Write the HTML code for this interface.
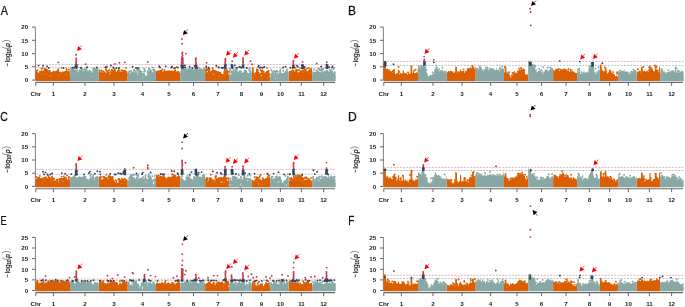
<!DOCTYPE html>
<html><head><meta charset="utf-8"><style>
html,body{margin:0;padding:0;background:#fff;width:685px;height:307px;overflow:hidden}
svg{display:block;will-change:transform}
text{font-family:"Liberation Sans",sans-serif}
.t{font-size:6.2px;font-weight:bold;fill:#1a1a1a}
.yl{font-size:6.4px;fill:#2a2a2a;stroke:#2a2a2a;stroke-width:0.25px}
</style></head><body>
<svg width="685" height="307" viewBox="0 0 685 307">
<text transform="translate(0.7 14.9) scale(0.895 1)" font-size="12.1" fill="#111" stroke="#111" stroke-width="0.25">A</text>
<path d="M35.4 27.1V80.1" stroke="#808080" stroke-width="1"/>
<path d="M32 80.1H35.3" stroke="#555" stroke-width="0.9"/>
<text x="28.2" y="82.3" class="t" text-anchor="end">0</text>
<path d="M32 66.8H35.3" stroke="#555" stroke-width="0.9"/>
<text x="28.2" y="69" class="t" text-anchor="end">5</text>
<path d="M32 53.6H35.3" stroke="#555" stroke-width="0.9"/>
<text x="28.2" y="55.8" class="t" text-anchor="end">10</text>
<path d="M32 40.3H35.3" stroke="#555" stroke-width="0.9"/>
<text x="28.2" y="42.5" class="t" text-anchor="end">15</text>
<path d="M32 27.1H35.3" stroke="#555" stroke-width="0.9"/>
<text x="28.2" y="29.3" class="t" text-anchor="end">20</text>
<g transform="translate(9.6 0) rotate(-90)" class="yl"><text x="-66.4" y="-0.4" font-size="5.4">&#8722;</text><text x="-62.1" y="0">log</text><text x="-53.6" y="1.4" font-size="4.5">10</text><text x="-49.3" y="-0.4" font-size="9.2" fill="#777" stroke="none">(</text><text x="-46.8" y="0" font-style="italic">p</text><text x="-42.6" y="-0.4" font-size="9.2" fill="#777" stroke="none">)</text></g>
<path d="M35.6 82.4H335" stroke="#6a6a6a" stroke-width="1.1"/>
<path d="M35.8 82.4V85.9" stroke="#5a5a5a" stroke-width="0.9"/>
<path d="M53.4 82.4V85.9" stroke="#5a5a5a" stroke-width="0.9"/>
<path d="M85 82.4V85.9" stroke="#5a5a5a" stroke-width="0.9"/>
<path d="M114 82.4V85.9" stroke="#5a5a5a" stroke-width="0.9"/>
<path d="M142.6 82.4V85.9" stroke="#5a5a5a" stroke-width="0.9"/>
<path d="M169 82.4V85.9" stroke="#5a5a5a" stroke-width="0.9"/>
<path d="M193.5 82.4V85.9" stroke="#5a5a5a" stroke-width="0.9"/>
<path d="M218 82.4V85.9" stroke="#5a5a5a" stroke-width="0.9"/>
<path d="M241.4 82.4V85.9" stroke="#5a5a5a" stroke-width="0.9"/>
<path d="M261.6 82.4V85.9" stroke="#5a5a5a" stroke-width="0.9"/>
<path d="M280.4 82.4V85.9" stroke="#5a5a5a" stroke-width="0.9"/>
<path d="M301.4 82.4V85.9" stroke="#5a5a5a" stroke-width="0.9"/>
<path d="M323.6 82.4V85.9" stroke="#5a5a5a" stroke-width="0.9"/>
<text x="35.8" y="95.8" class="t" text-anchor="middle">Chr</text>
<text x="53.4" y="95.8" class="t" text-anchor="middle">1</text>
<text x="85" y="95.8" class="t" text-anchor="middle">2</text>
<text x="114" y="95.8" class="t" text-anchor="middle">3</text>
<text x="142.6" y="95.8" class="t" text-anchor="middle">4</text>
<text x="169" y="95.8" class="t" text-anchor="middle">5</text>
<text x="193.5" y="95.8" class="t" text-anchor="middle">6</text>
<text x="218" y="95.8" class="t" text-anchor="middle">7</text>
<text x="241.4" y="95.8" class="t" text-anchor="middle">8</text>
<text x="261.6" y="95.8" class="t" text-anchor="middle">9</text>
<text x="280.4" y="95.8" class="t" text-anchor="middle">10</text>
<text x="301.4" y="95.8" class="t" text-anchor="middle">11</text>
<text x="323.6" y="95.8" class="t" text-anchor="middle">12</text>
<path d="M35.8 64.6H335.4" stroke="#e3949a" stroke-width="0.7" stroke-dasharray="2.1 1.1"/>
<path d="M35.8 67.6H335.4" stroke="#a4adb6" stroke-width="0.7" stroke-dasharray="2.1 1.1"/>
<path fill="#d95f02" d="M35.5 80.9L35.5 73.7L36.1 73.7L36.1 74.9L36.7 74.9L36.7 73.6L37.3 73.6L37.3 73.2L37.9 73.2L37.9 74L38.5 74L38.5 75.1L39.1 75.1L39.1 75.4L39.7 75.4L39.7 75.1L40.3 75.1L40.3 74.9L40.9 74.9L40.9 73.9L41.5 73.9L41.5 73.8L42.1 73.8L42.1 74.5L42.7 74.5L42.7 74.4L43.3 74.4L43.3 73L43.9 73L43.9 72.9L44.5 72.9L44.5 71.2L45.1 71.2L45.1 71.3L45.7 71.3L45.7 73.5L46.3 73.5L46.3 75.2L46.9 75.2L46.9 74L47.5 74L47.5 74L48.1 74L48.1 74.8L48.7 74.8L48.7 75.3L49.3 75.3L49.3 75.5L49.9 75.5L49.9 75.5L50.5 75.5L50.5 75.6L51.1 75.6L51.1 76.9L51.7 76.9L51.7 75.9L52.3 75.9L52.3 74.7L52.9 74.7L52.9 74.6L53.5 74.6L53.5 74.4L54.1 74.4L54.1 74.2L54.7 74.2L54.7 76.1L55.3 76.1L55.3 75.6L55.9 75.6L55.9 75.8L56.5 75.8L56.5 74.9L57.1 74.9L57.1 75.4L57.7 75.4L57.7 75.2L58.3 75.2L58.3 75.2L58.9 75.2L58.9 76.2L59.5 76.2L59.5 76.4L60.1 76.4L60.1 76.8L60.7 76.8L60.7 77.1L61.3 77.1L61.3 76.8L61.9 76.8L61.9 76.3L62.5 76.3L62.5 75.6L63.1 75.6L63.1 74.8L63.7 74.8L63.7 74.2L64.3 74.2L64.3 74.2L64.9 74.2L64.9 74.7L65.5 74.7L65.5 74L66.1 74L66.1 74.6L66.7 74.6L66.7 75L67.3 75L67.3 74.3L67.9 74.3L67.9 75.6L68.5 75.6L68.5 76L69.1 76L69.1 75.4L69.7 75.4L69.7 76.7L70 76.7L70 80.9ZM98.8 80.9L98.8 75.5L99.4 75.5L99.4 74.1L100 74.1L100 75.2L100.6 75.2L100.6 74.9L101.2 74.9L101.2 74.5L101.8 74.5L101.8 75.5L102.4 75.5L102.4 76.1L103 76.1L103 75.7L103.6 75.7L103.6 76.2L104.2 76.2L104.2 74.8L104.8 74.8L104.8 75L105.4 75L105.4 74.2L106 74.2L106 74.8L106.6 74.8L106.6 75L107.2 75L107.2 75.8L107.8 75.8L107.8 77L108.4 77L108.4 74.3L109 74.3L109 75.1L109.6 75.1L109.6 75.9L110.2 75.9L110.2 76.2L110.8 76.2L110.8 74.2L111.4 74.2L111.4 73.3L112 73.3L112 72.5L112.6 72.5L112.6 72.4L113.2 72.4L113.2 72L113.8 72L113.8 73.7L114.4 73.7L114.4 75.5L115 75.5L115 75.1L115.6 75.1L115.6 74.5L116.2 74.5L116.2 74.8L116.8 74.8L116.8 74.6L117.4 74.6L117.4 75.6L118 75.6L118 74.7L118.6 74.7L118.6 74.1L119.2 74.1L119.2 73.4L119.8 73.4L119.8 74.5L120.4 74.5L120.4 75.2L121 75.2L121 74.6L121.6 74.6L121.6 74.2L122.2 74.2L122.2 75.4L122.8 75.4L122.8 75.1L123.4 75.1L123.4 74.4L124 74.4L124 74.8L124.6 74.8L124.6 74.3L125.2 74.3L125.2 73.6L125.8 73.6L125.8 74.2L126.4 74.2L126.4 74.3L127 74.3L127 74.5L127.6 74.5L127.6 76.1L127.7 76.1L127.7 80.9ZM156 80.9L156 74.8L156.6 74.8L156.6 75.6L157.2 75.6L157.2 75.6L157.8 75.6L157.8 75.9L158.4 75.9L158.4 74.5L159 74.5L159 75.9L159.6 75.9L159.6 76.3L160.2 76.3L160.2 74.7L160.8 74.7L160.8 75.6L161.4 75.6L161.4 75.1L162 75.1L162 75L162.6 75L162.6 76L163.2 76L163.2 75.9L163.8 75.9L163.8 76L164.4 76L164.4 76.2L165 76.2L165 76L165.6 76L165.6 75.7L166.2 75.7L166.2 75.4L166.8 75.4L166.8 75.9L167.4 75.9L167.4 75.4L168 75.4L168 75.8L168.6 75.8L168.6 75.6L169.2 75.6L169.2 75.1L169.8 75.1L169.8 75L170.4 75L170.4 74.7L171 74.7L171 75.3L171.6 75.3L171.6 75.1L172.2 75.1L172.2 74.6L172.8 74.6L172.8 74.9L173.4 74.9L173.4 74.5L174 74.5L174 75.2L174.6 75.2L174.6 74.4L175.2 74.4L175.2 75.5L175.8 75.5L175.8 75.9L176.4 75.9L176.4 74.9L177 74.9L177 75.8L177.6 75.8L177.6 75.2L178.2 75.2L178.2 74.6L178.8 74.6L178.8 75.3L179.4 75.3L179.4 75.6L180 75.6L180 75.4L180.2 75.4L180.2 80.9ZM205.1 80.9L205.1 73.5L205.7 73.5L205.7 74.9L206.3 74.9L206.3 71.4L206.9 71.4L206.9 72.2L207.5 72.2L207.5 74.4L208.1 74.4L208.1 77.4L208.7 77.4L208.7 72.3L209.3 72.3L209.3 71.5L209.9 71.5L209.9 75.1L210.5 75.1L210.5 78.4L211.1 78.4L211.1 75.3L211.7 75.3L211.7 74.4L212.3 74.4L212.3 72.4L212.9 72.4L212.9 73.6L213.5 73.6L213.5 77.5L214.1 77.5L214.1 75L214.7 75L214.7 79.6L215.3 79.6L215.3 74.9L215.9 74.9L215.9 74.5L216.5 74.5L216.5 76.3L217.1 76.3L217.1 75.6L217.7 75.6L217.7 74.6L218.3 74.6L218.3 73.1L218.9 73.1L218.9 75.5L219.5 75.5L219.5 77L220.1 77L220.1 75.1L220.7 75.1L220.7 76.9L221.3 76.9L221.3 76.3L221.9 76.3L221.9 76.9L222.5 76.9L222.5 78.4L223.1 78.4L223.1 76L223.7 76L223.7 77.4L224.3 77.4L224.3 73L224.9 73L224.9 72.1L225.5 72.1L225.5 75.4L226.1 75.4L226.1 76.4L226.7 76.4L226.7 72.2L227.3 72.2L227.3 74.2L227.9 74.2L227.9 77.4L228.5 77.4L228.5 76.3L229.1 76.3L229.1 80.9ZM251.9 80.9L251.9 72.3L252.5 72.3L252.5 71.9L253.1 71.9L253.1 75.3L253.7 75.3L253.7 78.7L254.3 78.7L254.3 78.1L254.9 78.1L254.9 78.5L255.5 78.5L255.5 77.6L256.1 77.6L256.1 76.4L256.7 76.4L256.7 73.3L257.3 73.3L257.3 73.8L257.9 73.8L257.9 74.9L258.5 74.9L258.5 74.9L259.1 74.9L259.1 77L259.7 77L259.7 79.2L260.3 79.2L260.3 77.9L260.9 77.9L260.9 78.5L261.5 78.5L261.5 75.7L262.1 75.7L262.1 75.1L262.7 75.1L262.7 76.7L263.3 76.7L263.3 77.2L263.9 77.2L263.9 77.3L264.5 77.3L264.5 76.7L265.1 76.7L265.1 75.4L265.7 75.4L265.7 75.6L266.3 75.6L266.3 76.1L266.9 76.1L266.9 75L267.5 75L267.5 78.6L268.1 78.6L268.1 76.9L268.7 76.9L268.7 77.8L269.3 77.8L269.3 78.3L269.9 78.3L269.9 75.9L270.1 75.9L270.1 80.9ZM288.8 80.9L288.8 75.1L289.4 75.1L289.4 74.9L290 74.9L290 75.2L290.6 75.2L290.6 76.4L291.2 76.4L291.2 73.9L291.8 73.9L291.8 74.5L292.4 74.5L292.4 74.8L293 74.8L293 75.9L293.6 75.9L293.6 73.9L294.2 73.9L294.2 75.2L294.8 75.2L294.8 74.1L295.4 74.1L295.4 74.5L296 74.5L296 75.3L296.6 75.3L296.6 75.1L297.2 75.1L297.2 76L297.8 76L297.8 75.2L298.4 75.2L298.4 75.3L299 75.3L299 75.4L299.6 75.4L299.6 75.1L300.2 75.1L300.2 74.5L300.8 74.5L300.8 74.5L301.4 74.5L301.4 74.3L302 74.3L302 72.5L302.6 72.5L302.6 71.5L303.2 71.5L303.2 72.3L303.8 72.3L303.8 71.9L304.4 71.9L304.4 72.5L305 72.5L305 72.7L305.6 72.7L305.6 72.1L306.2 72.1L306.2 73.3L306.8 73.3L306.8 73.7L307.4 73.7L307.4 74.9L308 74.9L308 73.7L308.6 73.7L308.6 72.3L309.2 72.3L309.2 73.5L309.8 73.5L309.8 74L310.4 74L310.4 73.7L311 73.7L311 72.9L311.6 72.9L311.6 71.6L312.1 71.6L312.1 80.9Z"/>
<path fill="#89a8a5" d="M70 80.9L70 73.5L70.6 73.5L70.6 74.1L71.2 74.1L71.2 71.9L71.8 71.9L71.8 72.5L72.4 72.5L72.4 72.8L73 72.8L73 72.6L73.6 72.6L73.6 73.3L74.2 73.3L74.2 74L74.8 74L74.8 74.2L75.4 74.2L75.4 74.3L76 74.3L76 74.4L76.6 74.4L76.6 74.6L77.2 74.6L77.2 73.8L77.8 73.8L77.8 73.5L78.4 73.5L78.4 73.5L79 73.5L79 73.9L79.6 73.9L79.6 72.6L80.2 72.6L80.2 73.2L80.8 73.2L80.8 73.1L81.4 73.1L81.4 73.1L82 73.1L82 73.8L82.6 73.8L82.6 72.3L83.2 72.3L83.2 74.2L83.8 74.2L83.8 74.9L84.4 74.9L84.4 73.3L85 73.3L85 73.3L85.6 73.3L85.6 73.1L86.2 73.1L86.2 71.9L86.8 71.9L86.8 72.3L87.4 72.3L87.4 73.7L88 73.7L88 75L88.6 75L88.6 75.2L89.2 75.2L89.2 74.6L89.8 74.6L89.8 74.3L90.4 74.3L90.4 75.4L91 75.4L91 75.1L91.6 75.1L91.6 76.7L92.2 76.7L92.2 75.7L92.8 75.7L92.8 72.1L93.4 72.1L93.4 72.4L94 72.4L94 73.4L94.6 73.4L94.6 72L95.2 72L95.2 72.1L95.8 72.1L95.8 72L96.4 72L96.4 72.9L97 72.9L97 71.7L97.6 71.7L97.6 73.4L98.2 73.4L98.2 72L98.8 72L98.8 80.9ZM127.7 80.9L127.7 73.7L128.3 73.7L128.3 76.5L128.9 76.5L128.9 73.8L129.5 73.8L129.5 75.9L130.1 75.9L130.1 75L130.7 75L130.7 74.6L131.3 74.6L131.3 75.8L131.9 75.8L131.9 75.5L132.5 75.5L132.5 75.5L133.1 75.5L133.1 74.6L133.7 74.6L133.7 75.7L134.3 75.7L134.3 77.3L134.9 77.3L134.9 75.2L135.5 75.2L135.5 74.8L136.1 74.8L136.1 74.9L136.7 74.9L136.7 77L137.3 77L137.3 77.9L137.9 77.9L137.9 72.4L138.5 72.4L138.5 72.5L139.1 72.5L139.1 73.8L139.7 73.8L139.7 74.3L140.3 74.3L140.3 75.6L140.9 75.6L140.9 75.8L141.5 75.8L141.5 78.7L142.1 78.7L142.1 78.4L142.7 78.4L142.7 75.6L143.3 75.6L143.3 77.5L143.9 77.5L143.9 76.6L144.5 76.6L144.5 73.3L145.1 73.3L145.1 80.2L145.7 80.2L145.7 80.5L146.3 80.5L146.3 78.3L146.9 78.3L146.9 77.5L147.5 77.5L147.5 74L148.1 74L148.1 74.1L148.7 74.1L148.7 74.5L149.3 74.5L149.3 74.3L149.9 74.3L149.9 72.3L150.5 72.3L150.5 72.3L151.1 72.3L151.1 74.1L151.7 74.1L151.7 74.8L152.3 74.8L152.3 73.7L152.9 73.7L152.9 73.9L153.5 73.9L153.5 73.9L154.1 73.9L154.1 73.2L154.7 73.2L154.7 73.9L155.3 73.9L155.3 75.4L155.9 75.4L155.9 77.8L156 77.8L156 80.9ZM180.2 80.9L180.2 72.9L180.8 72.9L180.8 72.5L181.4 72.5L181.4 72L182 72L182 72.2L182.6 72.2L182.6 72.8L183.2 72.8L183.2 73.6L183.8 73.6L183.8 73.3L184.4 73.3L184.4 74.4L185 74.4L185 72.2L185.6 72.2L185.6 72.4L186.2 72.4L186.2 73.1L186.8 73.1L186.8 72.2L187.4 72.2L187.4 72.7L188 72.7L188 72.3L188.6 72.3L188.6 72.2L189.2 72.2L189.2 72.1L189.8 72.1L189.8 72.3L190.4 72.3L190.4 72.3L191 72.3L191 72.3L191.6 72.3L191.6 71.9L192.2 71.9L192.2 73.4L192.8 73.4L192.8 72.6L193.4 72.6L193.4 73.4L194 73.4L194 73.3L194.6 73.3L194.6 72.3L195.2 72.3L195.2 72.6L195.8 72.6L195.8 73.1L196.4 73.1L196.4 72.1L197 72.1L197 72.6L197.6 72.6L197.6 73.4L198.2 73.4L198.2 72L198.8 72L198.8 71.7L199.4 71.7L199.4 72.5L200 72.5L200 71.9L200.6 71.9L200.6 72.3L201.2 72.3L201.2 73.3L201.8 73.3L201.8 71.9L202.4 71.9L202.4 73.7L203 73.7L203 73.3L203.6 73.3L203.6 73.1L204.2 73.1L204.2 71.9L204.8 71.9L204.8 72L205.1 72L205.1 80.9ZM229.1 80.9L229.1 72.1L229.7 72.1L229.7 76.5L230.3 76.5L230.3 74L230.9 74L230.9 76.6L231.5 76.6L231.5 76.8L232.1 76.8L232.1 74.8L232.7 74.8L232.7 75.1L233.3 75.1L233.3 72.1L233.9 72.1L233.9 75.2L234.5 75.2L234.5 76.7L235.1 76.7L235.1 74.6L235.7 74.6L235.7 72.2L236.3 72.2L236.3 75.1L236.9 75.1L236.9 73.4L237.5 73.4L237.5 70.1L238.1 70.1L238.1 73.3L238.7 73.3L238.7 73.9L239.3 73.9L239.3 72.1L239.9 72.1L239.9 73.6L240.5 73.6L240.5 73.6L241.1 73.6L241.1 77.3L241.7 77.3L241.7 78.6L242.3 78.6L242.3 75.9L242.9 75.9L242.9 75.6L243.5 75.6L243.5 77.4L244.1 77.4L244.1 73L244.7 73L244.7 74.7L245.3 74.7L245.3 73.2L245.9 73.2L245.9 73.6L246.5 73.6L246.5 74.8L247.1 74.8L247.1 77L247.7 77L247.7 76.8L248.3 76.8L248.3 75.5L248.9 75.5L248.9 75L249.5 75L249.5 71L250.1 71L250.1 75.1L250.7 75.1L250.7 78.9L251.3 78.9L251.3 75.1L251.9 75.1L251.9 80.9ZM270.1 80.9L270.1 76.8L270.7 76.8L270.7 77.1L271.3 77.1L271.3 75.8L271.9 75.8L271.9 77L272.5 77L272.5 75.3L273.1 75.3L273.1 78L273.7 78L273.7 79L274.3 79L274.3 78.1L274.9 78.1L274.9 79.1L275.5 79.1L275.5 75L276.1 75L276.1 76.8L276.7 76.8L276.7 75.6L277.3 75.6L277.3 77.7L277.9 77.7L277.9 77L278.5 77L278.5 78.6L279.1 78.6L279.1 75.3L279.7 75.3L279.7 73L280.3 73L280.3 74.5L280.9 74.5L280.9 79.4L281.5 79.4L281.5 78.3L282.1 78.3L282.1 77.8L282.7 77.8L282.7 75.4L283.3 75.4L283.3 77.6L283.9 77.6L283.9 75.9L284.5 75.9L284.5 75.3L285.1 75.3L285.1 73.3L285.7 73.3L285.7 73.6L286.3 73.6L286.3 74.4L286.9 74.4L286.9 73.7L287.5 73.7L287.5 76.9L288.1 76.9L288.1 76.2L288.7 76.2L288.7 75.9L288.8 75.9L288.8 80.9ZM312.1 80.9L312.1 74.7L312.7 74.7L312.7 75.7L313.3 75.7L313.3 73.7L313.9 73.7L313.9 75.7L314.5 75.7L314.5 76.9L315.1 76.9L315.1 75.9L315.7 75.9L315.7 75.2L316.3 75.2L316.3 73.7L316.9 73.7L316.9 73.6L317.5 73.6L317.5 73.6L318.1 73.6L318.1 73.4L318.7 73.4L318.7 74.4L319.3 74.4L319.3 74L319.9 74L319.9 74L320.5 74L320.5 74.9L321.1 74.9L321.1 74.4L321.7 74.4L321.7 75.5L322.3 75.5L322.3 75L322.9 75L322.9 75.4L323.5 75.4L323.5 74.6L324.1 74.6L324.1 74.1L324.7 74.1L324.7 74.3L325.3 74.3L325.3 73.9L325.9 73.9L325.9 74.7L326.5 74.7L326.5 73.7L327.1 73.7L327.1 74.1L327.7 74.1L327.7 75.3L328.3 75.3L328.3 75.9L328.9 75.9L328.9 75.6L329.5 75.6L329.5 75.6L330.1 75.6L330.1 76.2L330.7 76.2L330.7 75.2L331.3 75.2L331.3 74.9L331.9 74.9L331.9 76.3L332.5 76.3L332.5 76.7L333.1 76.7L333.1 75.7L333.7 75.7L333.7 76L334.3 76L334.3 75.8L334.9 75.8L334.9 75.9L335.5 75.9L335.5 75.6L335.7 75.6L335.7 80.9Z"/>
<path stroke="#d95f02" stroke-width="1.9" stroke-linecap="round" d="M36.5 71h0M36.5 72.3h0M36.5 72.2h0M36.5 74.3h0M36.6 74.4h0M36.5 73.3h0M36.8 72.3h0M37 73.2h0M37 72.9h0M37.6 70.1h0M37.3 72.7h0M37.9 73.9h0M38.2 74h0M38.1 73.6h0M39.6 75.3h0M39.7 73.1h0M39.7 75.3h0M39.9 72.5h0M39.8 74.5h0M40 74h0M40.1 71.8h0M41.2 73.5h0M41.1 72.6h0M41.1 73h0M41.8 71.7h0M41.6 68.7h0M41.7 73.6h0M41.9 71.2h0M42.4 68.2h0M42.1 72.1h0M42.4 74.4h0M42.9 72.5h0M43 72.9h0M43.6 72.9h0M43.4 72h0M43.6 71.5h0M43.7 72.8h0M44.4 72.2h0M45 70h0M44.6 69.3h0M45 70.3h0M45 70h0M45 71.2h0M44.7 71.1h0M44.7 68.7h0M45.4 70.2h0M45.1 70.9h0M45.7 69.3h0M45.7 71.3h0M45.5 69.8h0M45.2 70h0M45.4 70.8h0M45.5 70.7h0M45.9 72.6h0M46.1 72.8h0M46.3 71.5h0M46.5 75.2h0M46.6 75h0M46.4 73.1h0M47.3 72.1h0M47.3 73.3h0M46.9 69.8h0M47 72h0M47.1 73.6h0M47 70.8h0M48.1 70.9h0M48.2 74.3h0M48.4 74.7h0M48.5 73h0M48.8 75h0M49.1 74.8h0M49.1 73.2h0M49 74.8h0M49.1 71h0M49.1 73.5h0M49.1 72.7h0M50.3 73.7h0M50.4 74.4h0M50 71.5h0M50.9 73h0M51.2 74.7h0M51.9 75.2h0M51.9 75.8h0M51.8 75.9h0M52 73.3h0M52.3 75.5h0M52.8 72.8h0M53.1 74.4h0M53.4 71.6h0M54.1 73.9h0M54 72.3h0M53.7 71.8h0M54.2 73.9h0M54.6 73.7h0M55.2 75.6h0M54.7 75.9h0M55.9 73h0M55.8 74.2h0M55.4 74.5h0M55.4 72.6h0M55.4 72.5h0M56.2 75.5h0M56.1 75.7h0M56 71.8h0M56.1 75.4h0M56 72.9h0M56.8 74.6h0M56.7 74.6h0M56.8 74.6h0M57.1 71.4h0M57.6 74.3h0M57.2 71.1h0M57.4 72.3h0M57.3 74.7h0M57.2 73.6h0M57.4 73.2h0M57.6 74.5h0M57.9 72.3h0M57.9 74.5h0M57.9 73.3h0M58.1 74.2h0M58 74.7h0M58.2 69.1h0M58.8 73.8h0M58.6 72.1h0M58.3 70.4h0M58.8 74.2h0M58.3 74.6h0M59 74.9h0M59.6 75.9h0M60.1 72.5h0M59.6 75.5h0M60 76.3h0M59.9 75.7h0M60.4 75.7h0M60.5 75.7h0M60.7 74.6h0M60.6 75.2h0M60.4 73.3h0M61 76h0M60.9 77.1h0M61.1 74.2h0M61.1 76.8h0M60.8 77.1h0M60.7 76.7h0M60.9 77h0M61.2 75.5h0M61.6 67.8h0M61.7 75.3h0M61.9 76.2h0M61.6 76.7h0M61.8 73.6h0M61.6 76.7h0M62.5 72.8h0M61.9 73.3h0M62 73.8h0M62.1 74.9h0M62 74.1h0M62.2 75.4h0M62.6 73.5h0M62.8 72.2h0M63 74.9h0M62.6 75.1h0M62.7 74.9h0M63.3 73.1h0M63.5 74.6h0M64.1 73.1h0M63.9 73.7h0M64.1 72.4h0M64.1 73.5h0M64.9 73.2h0M64.5 72.8h0M64.4 73.4h0M64.6 72.3h0M64.7 73.5h0M64.5 74h0M64.4 72.9h0M64.6 74.1h0M64.7 73.8h0M65.1 74.1h0M66 73.3h0M65.8 71.9h0M66.7 70h0M66.6 68.8h0M66.4 73.5h0M66.6 71.6h0M67.1 73.4h0M67.1 73.5h0M66.7 71.7h0M67.7 72h0M67.8 72.2h0M67.4 72.8h0M67.6 72.9h0M67.7 73.4h0M68 74.2h0M68.2 75h0M68.1 74.6h0M68.4 73.4h0M68.2 73.4h0M67.9 74h0M69 72h0M68.9 74.7h0M68.6 75.5h0M68.7 73.1h0M69 75h0M69 72.9h0M69 74.3h0M69 72.3h0M69 75.2h0M69 69.8h0M69 74h0M69 74.8h0M69 74.5h0M99.8 70.4h0M99.8 75h0M99.8 73.1h0M99.8 73.5h0M99.8 72.8h0M99.9 72.2h0M100.2 74.6h0M100.4 74.7h0M100.5 74.3h0M100.1 74.9h0M100.6 74.5h0M100.3 74.3h0M100.7 74.5h0M101.2 74h0M100.9 74.8h0M101.6 73.3h0M101.4 70.5h0M101.2 74.2h0M102.2 74h0M102.4 71.6h0M102.6 75.1h0M102.7 73.4h0M103.5 71.4h0M103.2 75.3h0M103.3 75.2h0M103.5 75.5h0M103.8 75.1h0M103.9 75.9h0M103.9 74.6h0M103.6 75.6h0M103.6 74.1h0M104.1 73.3h0M104.5 73h0M104.4 72.8h0M104.8 73.7h0M105.8 68.9h0M105.6 74.1h0M105.5 73.7h0M106.6 70.4h0M106.5 73.9h0M106.3 70.7h0M107 73.9h0M107 73.7h0M106.6 73.2h0M107.2 75h0M106.6 74.9h0M106.9 75h0M107.1 74.4h0M108.1 75.1h0M108 74.8h0M108 76.9h0M108 76h0M108.3 76.4h0M108.3 76.9h0M108.1 74.8h0M108.4 75.9h0M107.8 71.7h0M109 72.9h0M108.8 70.3h0M108.5 74h0M108.5 73.4h0M109.4 70.3h0M109.7 75.7h0M109.9 75.6h0M110.4 76.2h0M110.6 75.3h0M110.8 75.3h0M110.6 71.9h0M110.6 75.1h0M110.6 75.4h0M110.2 75.4h0M110.3 74.9h0M111.2 73.8h0M111.8 69.6h0M111.8 73.2h0M111.8 70.2h0M111.9 70.3h0M111.9 72.1h0M112.5 72h0M112.6 72h0M112.1 72.2h0M112.6 72.1h0M112.9 71.3h0M113 72h0M113.5 70.8h0M113.5 70.9h0M113.7 68.4h0M113.2 72h0M113.4 71.7h0M114.1 73h0M114.2 72h0M113.8 73.1h0M114.2 71.5h0M114.9 69.2h0M115 74.5h0M114.9 73.6h0M114.9 73.7h0M114.8 75.1h0M114.5 75h0M114.8 75.4h0M115.1 75h0M115 73.7h0M115.5 74.7h0M115.2 74.9h0M115 71h0M115.3 73.1h0M115.3 71.9h0M116 74.3h0M115.7 74.3h0M116 72.5h0M116 72.4h0M116.8 74.7h0M116.9 73h0M116.9 74.4h0M117.8 72.4h0M117.8 71.6h0M117.9 73.9h0M118.1 72.4h0M118.1 74.7h0M118.3 70.9h0M118 74.1h0M118.1 73.5h0M118.2 70.3h0M118.3 74.1h0M118.5 74.3h0M118.8 72.6h0M118.6 72.6h0M119.1 73.5h0M118.9 72.4h0M119 70.2h0M118.8 72.7h0M118.7 72.3h0M118.8 68.5h0M119.3 73.2h0M119.4 73.4h0M119.2 73.1h0M119.5 71.9h0M120.1 74.1h0M120.1 74.1h0M120.2 74.2h0M119.9 73.3h0M120.6 75.1h0M120.9 74.8h0M120.5 72.1h0M120.8 74.9h0M120.5 75.1h0M120.7 73.8h0M120.6 74.3h0M121.4 73.5h0M121.4 70.3h0M121.3 72.7h0M121.8 70.2h0M122.7 74.4h0M122.3 74.1h0M122.6 72.8h0M122.4 70.7h0M122.3 74.8h0M123.1 74.3h0M123.1 74.2h0M123.3 75h0M122.8 74.7h0M123.9 71.6h0M123.7 74.2h0M123.8 73.7h0M123.9 70.7h0M123.6 74.3h0M124.5 70.6h0M124 71.8h0M124.3 74.7h0M124.9 73.1h0M124.8 71.4h0M125 73.4h0M125.6 73.5h0M125.2 71.7h0M125.5 73.5h0M125.7 72.3h0M125.5 72.7h0M126 71.5h0M125.8 72.6h0M126 68h0M126.3 72.5h0M126.2 73.3h0M126 72.9h0M126.4 72h0M126.5 73h0M126.8 73.3h0M126.4 73.7h0M126.8 73.3h0M126.8 74.3h0M126.8 74.5h0M126.8 74.3h0M126.8 74.1h0M126.8 73.2h0M126.8 73.8h0M126.8 74h0M126.8 74.7h0M156.9 74.4h0M156.9 74.7h0M156.9 74.7h0M156.9 74.4h0M156.9 74.2h0M156.9 74.4h0M156.9 74.2h0M156.9 74.6h0M156.9 74.8h0M156.9 74.7h0M156.9 73.6h0M156.9 73.6h0M156.9 74.8h0M156.9 74.5h0M156.9 74.2h0M157 74.9h0M157 75.2h0M157.1 71.4h0M156.9 73h0M156.9 74.9h0M156.9 73.2h0M156.9 72.6h0M156.9 75.3h0M157.6 73.6h0M157.5 75h0M157.4 74.8h0M157.3 75.2h0M158.3 74.5h0M158.4 75.7h0M157.9 73.7h0M158.1 75.4h0M157.9 75.2h0M158.3 75h0M157.9 75.1h0M158.3 75.4h0M157.8 74.9h0M158 75.9h0M158.4 75.9h0M158.7 73.2h0M158.6 72.3h0M158.5 73h0M158.6 73.3h0M158.8 71.3h0M158.5 73.7h0M159.5 74.3h0M159.2 75.2h0M159.3 74.9h0M159.2 75.1h0M159 75.9h0M159.1 73h0M159.3 73.9h0M159.1 75.8h0M159.3 73.2h0M160 76h0M160.1 74.8h0M160.2 75.2h0M159.9 75.8h0M159.8 76.1h0M159.8 76.3h0M159.6 73.4h0M159.8 73.2h0M160.1 76h0M160.1 73.1h0M159.7 75.8h0M159.9 75.2h0M160 73.4h0M159.9 76h0M160.7 74.2h0M160.3 73.6h0M160.8 73.7h0M160.3 74.6h0M160.6 74.4h0M160.3 73.9h0M160.6 72h0M160.7 74h0M160.3 73.6h0M160.7 72.1h0M160.6 72.3h0M160.3 70.9h0M160.3 73.5h0M160.3 73.1h0M161.3 74.8h0M161.3 75.5h0M160.8 74.4h0M161.3 73.7h0M161.2 73.2h0M161 75.5h0M161.6 74.9h0M161.5 73.2h0M161.5 74.7h0M161.8 70.5h0M161.4 74.4h0M161.7 72.2h0M161.6 73.5h0M162.5 73.3h0M162.4 74.3h0M162.3 73.2h0M162.3 74.2h0M162.3 73.2h0M162.1 74.2h0M162.1 74.8h0M162.5 73.4h0M162.5 69.4h0M162.4 74.5h0M162.2 73.5h0M162.1 72.3h0M162.3 72.8h0M162.5 73h0M163.1 75.8h0M163 74.5h0M162.6 74.8h0M162.7 73.9h0M162.7 75.8h0M162.9 75.3h0M163 75.9h0M163.1 74h0M162.6 75h0M163.1 75.1h0M163.7 73.6h0M163.4 75.6h0M163.5 72.7h0M163.7 74.4h0M163.4 74.6h0M164 74.6h0M163.9 72.7h0M164.1 71.8h0M163.9 73.1h0M164.2 75.3h0M164.3 75.2h0M164.3 75.6h0M164.4 75.8h0M164.2 74.9h0M164.4 74h0M164.9 75.4h0M164.5 70.3h0M164.8 73.4h0M164.6 76.1h0M164.4 76.1h0M164.8 76.1h0M164.7 75.9h0M164.8 73.2h0M164.8 75.8h0M164.4 76h0M164.6 71.7h0M164.9 75.2h0M164.7 76.1h0M164.4 75.7h0M164.4 76.1h0M165.1 75h0M165 75.1h0M165.3 74.5h0M165.4 72.9h0M165.5 72h0M165.4 72.7h0M165.9 73.8h0M165.9 73.2h0M166 73.8h0M165.8 73.1h0M166 75h0M165.8 74.4h0M165.7 74.2h0M166.7 74.8h0M166.3 75.4h0M166.6 74.4h0M166.3 75.2h0M166.2 74.5h0M166.4 75.3h0M166.2 72.9h0M166.5 74.5h0M166.4 75.1h0M166.3 74.8h0M166.5 75.3h0M166.5 74.4h0M166.3 71.8h0M166.3 75h0M166.3 74.5h0M167.3 75.6h0M166.8 75.1h0M167.3 74.1h0M167.4 74.6h0M167.3 72.3h0M166.9 72.5h0M167.3 72.9h0M167.1 75.6h0M167.1 74.3h0M166.9 73.2h0M167.1 75.1h0M167.7 74.3h0M167.6 74.2h0M167.8 73.9h0M167.9 74.2h0M167.7 73.7h0M167.9 71.8h0M167.6 74.6h0M167.7 75h0M167.6 71.8h0M167.5 74.9h0M167.6 75h0M167.5 73.7h0M167.6 72.9h0M167.9 74h0M167.8 75.1h0M167.5 74.5h0M167.6 75h0M167.7 74.4h0M168 71.1h0M168.1 75.3h0M168.5 73.5h0M168.3 73.7h0M168.5 72.9h0M168.3 73.5h0M168.6 75.2h0M168 75.3h0M168.9 75.2h0M168.9 73.7h0M168.7 74.9h0M169 74.7h0M168.9 73.1h0M169.1 74.5h0M168.8 75.2h0M169 74.8h0M168.8 74.9h0M168.7 71.4h0M169.6 73.3h0M169.5 74.6h0M169.2 75h0M169.5 74.6h0M169.6 75h0M169.7 73.7h0M169.5 74.7h0M169.5 73.1h0M170.3 74.8h0M169.9 74.7h0M169.9 73h0M170.3 73.9h0M169.9 71.2h0M170.4 74.8h0M169.9 72.6h0M170.3 74.3h0M170 73.6h0M169.9 73.8h0M170.1 74.3h0M170.8 73.7h0M170.6 74.3h0M170.9 73.8h0M170.4 73.9h0M170.5 74.1h0M170.8 74.2h0M170.4 71.9h0M170.4 74.5h0M170.8 74.5h0M171.4 74.8h0M171.2 74.6h0M171.2 74.6h0M171.5 71.9h0M171.1 74.5h0M171.6 75h0M171.6 74.5h0M171 72.4h0M171 74.5h0M171 74.7h0M171.1 75.3h0M171.3 74.8h0M172.1 74.8h0M172 72.6h0M171.7 72.6h0M171.9 73.2h0M172.1 73.5h0M172.1 74.1h0M171.7 72.8h0M172.1 74.6h0M171.9 72.7h0M171.7 75h0M171.9 73.5h0M172 71.3h0M172 74.9h0M172 74.3h0M172.3 74.5h0M172.5 73.3h0M172.4 74.2h0M172.4 73.6h0M172.7 73.7h0M172.7 74.1h0M172.6 72.8h0M172.8 74.2h0M172.5 73.5h0M172.6 73.9h0M172.6 73.6h0M172.3 74h0M172.2 74.5h0M172.6 73.4h0M173.4 74.3h0M173.4 73h0M173.1 74.8h0M173.3 74.7h0M172.9 74.4h0M173.4 73.3h0M173.1 74.4h0M172.8 72.5h0M172.8 74.8h0M173.3 74.6h0M173.1 74.6h0M172.9 73.5h0M172.9 74.6h0M172.9 74h0M173.6 73.6h0M173.5 68.4h0M173.8 74h0M173.9 71.8h0M173.5 73.4h0M173.9 74h0M173.9 73.8h0M173.5 74.5h0M173.7 74.5h0M174 72.8h0M173.7 74.1h0M174 74.4h0M174.3 72.7h0M174.5 75h0M174.5 74h0M174.4 73h0M174.2 74h0M174.6 73.5h0M174 72.5h0M174.3 74.9h0M174.1 74.7h0M174.6 75h0M174.2 74.6h0M174.5 74h0M174.3 74.9h0M174.6 74.2h0M175.1 74.3h0M174.7 71.7h0M174.9 74h0M174.8 74.1h0M174.8 71h0M175.2 71.6h0M175 74.3h0M174.8 73.2h0M175.1 74.2h0M174.9 73.8h0M175.4 75.4h0M175.3 70.3h0M175.6 73h0M175.5 74.2h0M175.8 74.2h0M175.3 75.1h0M175.7 75.1h0M175.7 75.3h0M175.8 74.7h0M175.6 73.9h0M175.4 75.2h0M175.5 74.6h0M175.5 74.1h0M176 75.6h0M176.2 75.7h0M176.1 74.8h0M175.8 75.1h0M175.8 75.9h0M176.1 74.9h0M176.2 72.9h0M175.9 74.3h0M176.1 73.8h0M176.5 73.8h0M176.6 74.3h0M177 74.1h0M177 74.5h0M176.5 74.3h0M176.9 74.4h0M176.5 74.7h0M176.4 73.8h0M177 74.8h0M176.9 74.6h0M176.7 74.2h0M176.5 73.6h0M176.9 74.8h0M176.6 72.1h0M176.8 74.6h0M176.9 74.4h0M176.8 74.9h0M177.5 74.2h0M177.5 75.2h0M177.3 74.9h0M177.5 74.2h0M177 74.9h0M177.2 72.6h0M177.4 74.2h0M177.3 75h0M177.6 74.5h0M177.2 73.7h0M177.1 72.9h0M177.8 73.8h0M178.2 75.2h0M178 73.1h0M178 74h0M178 74.9h0M177.8 75.1h0M177.9 75.1h0M178.1 75.2h0M177.9 72.7h0M177.9 75.1h0M178.1 74.4h0M177.9 73.9h0M177.8 73.2h0M178.3 72h0M178.3 72.9h0M178.5 74.4h0M178.3 71.7h0M178.6 74.3h0M178.6 74.5h0M178.5 74.1h0M178.2 67.8h0M178.2 74.3h0M178.5 72.7h0M179.2 75.2h0M179.2 74h0M179.2 75h0M179 75.2h0M179.2 75h0M179.2 74.4h0M179.2 75h0M179.2 75.6h0M179.2 74.8h0M179.2 74.3h0M179.2 75.4h0M179.2 74.9h0M179.2 75.5h0M179.2 75.6h0M179.2 73.5h0M179.2 74.6h0M179.2 74.8h0M179.2 74.7h0M206 70h0M206 70.5h0M206 71.5h0M206.2 72.9h0M206 73.9h0M206 74.2h0M206.1 74.7h0M206.3 68h0M206.5 70.8h0M206.6 68.9h0M206.5 69.1h0M207.5 70h0M208 72.6h0M207.7 69.8h0M208 73.9h0M207.7 74.4h0M208 72.7h0M208.1 77.1h0M208.2 76.6h0M208.3 77h0M208.4 74.2h0M208.2 76.2h0M208.2 76.6h0M209.1 68.7h0M209.2 70.9h0M209 71.1h0M208.7 68.1h0M208.9 71.7h0M209.5 69.8h0M210.1 72.3h0M209.9 75h0M210.2 74.9h0M210.7 74.8h0M211 75.9h0M210.5 77.2h0M211 77.9h0M210.6 73.6h0M211.6 71.5h0M211.6 75.2h0M211.3 75.2h0M211.2 73.5h0M211.5 74.7h0M211.1 74.4h0M211.9 74h0M212.3 71.3h0M211.8 72.4h0M211.8 73.2h0M212.4 68.3h0M212.6 72.3h0M212.6 67.9h0M212.9 70.1h0M213.7 76.5h0M214.1 76.2h0M213.8 72.6h0M214 76.4h0M213.6 77.3h0M214.6 72.1h0M214.2 71.5h0M214.2 72.9h0M214.4 74.9h0M214.6 74.4h0M214.4 70.6h0M215.2 78.6h0M215.3 78.2h0M214.9 78.6h0M215.1 77.8h0M215.2 78h0M215.3 75.7h0M215.7 74.2h0M215.7 71.2h0M215.7 72.3h0M215.8 71.2h0M215.7 72.3h0M216.3 74.4h0M216.3 73.8h0M215.9 74.4h0M215.9 73.5h0M216.9 75.8h0M216.9 72h0M217 76.1h0M216.8 72.2h0M216.9 75.9h0M217.8 72.7h0M218.1 73.9h0M217.9 73.1h0M217.8 74.4h0M217.8 74.6h0M218.7 72.8h0M218.8 72.1h0M219.2 74.5h0M219.6 74.3h0M219.8 74.5h0M219.6 75.4h0M220.1 74.6h0M220.2 74.2h0M220.5 73.9h0M220.7 74.5h0M220.3 74.9h0M220.3 72.8h0M220.9 76.8h0M220.9 75.6h0M221.1 75.2h0M220.8 76.7h0M221.9 74.6h0M221.7 75.2h0M221.7 75.6h0M221.3 76.2h0M221.9 75.2h0M222 76.6h0M222.1 75.6h0M222 75.6h0M222.8 77.7h0M223.1 78h0M223.1 75h0M223.3 75.4h0M223.6 75.4h0M223.6 75.1h0M223.8 77.4h0M224.1 73.1h0M223.9 76.9h0M224.1 75.8h0M223.8 75.8h0M224.4 72h0M224.6 70.9h0M224.7 69.8h0M224.6 72.7h0M225.5 71.7h0M225.1 69.6h0M225.6 75.3h0M225.8 74.8h0M225.6 75.2h0M226.3 76h0M226.2 73.5h0M226.5 76.1h0M226.9 70.9h0M226.7 69.1h0M226.8 71.2h0M227.1 72.1h0M226.9 70.6h0M227.2 71.4h0M227.7 74h0M227.8 73.8h0M227.5 73.5h0M228.2 77.4h0M228 76.7h0M228.2 75.8h0M228.2 75.5h0M228.2 76.2h0M228.2 75.7h0M228.2 76h0M228.2 71.7h0M228.2 75.5h0M252.8 68.8h0M252.8 68.3h0M252.8 70h0M252.8 70.8h0M252.8 71.2h0M252.9 71.8h0M252.9 70.5h0M252.8 69.2h0M252.8 71.4h0M253.5 75h0M253.2 73.3h0M253.6 74.4h0M253.8 76.6h0M254.5 73.6h0M254.6 76.8h0M254.3 77.8h0M255.2 77.8h0M255.1 77.2h0M255.4 75.9h0M255 77.7h0M255.1 75.8h0M255.3 76.4h0M255.1 78.5h0M255.2 77.4h0M254.9 76.4h0M255.2 77.9h0M255.9 77.4h0M255.8 73.4h0M255.9 77.5h0M255.9 77.6h0M256.2 74.9h0M256.6 76.3h0M256.3 75.6h0M256.6 76.3h0M256.3 74.6h0M256.2 72.6h0M256.5 75.5h0M256.8 70.9h0M256.8 72.3h0M257 73.1h0M257.1 69.6h0M256.8 70.2h0M257.2 72.7h0M256.9 69.2h0M257 72.6h0M257.7 72.6h0M257.9 72.4h0M257.6 71.9h0M257.7 73.4h0M257.4 72.6h0M257.4 73.6h0M258.1 74.6h0M258.2 72.1h0M257.9 74.7h0M257.9 74.5h0M258.2 72.4h0M258 69.9h0M258 74.4h0M258.1 74.7h0M258 74.7h0M258.2 74.7h0M258 73.9h0M258.7 74.3h0M258.9 73h0M258.6 73.9h0M259.5 76.4h0M259.7 76.2h0M259.5 74.7h0M259.6 75.6h0M259.7 76.1h0M260.2 75.1h0M259.8 78.8h0M260.2 77.7h0M260.1 78.7h0M260.5 77.5h0M260.8 77h0M260.5 77.6h0M260.6 70.3h0M260.4 77.5h0M260.8 73.9h0M261 77.3h0M261.5 74.3h0M261.4 77.5h0M261.7 73.6h0M261.6 71.6h0M261.7 73.5h0M261.7 73.8h0M262.1 70.2h0M262.5 73.5h0M262.1 72.4h0M262.7 75.1h0M262.6 73h0M262.1 71.6h0M262.2 73h0M262.7 76.6h0M263.2 73.9h0M263.3 76.7h0M263 76.1h0M263.1 73.5h0M263.7 76.5h0M263.4 76.1h0M263.3 77.1h0M263.8 74.5h0M263.6 71.5h0M264.2 74.4h0M264.1 74.8h0M264.2 77.2h0M264 76.4h0M264.8 75.7h0M265.5 72.9h0M265.4 74.9h0M265.2 73.1h0M265.9 75.5h0M266.1 73.7h0M266.2 75h0M266.8 75.7h0M266.7 73.4h0M267.5 75h0M267 71.8h0M267 74.6h0M267.4 74.5h0M267 74.2h0M267 67.9h0M267.1 74.4h0M267 71.6h0M267.4 74.1h0M267.5 73.3h0M268 77.4h0M268 77.2h0M268.3 75.5h0M268.5 71.6h0M268.3 74.4h0M268.5 72.4h0M268.2 75.3h0M268.2 76.8h0M268.4 70.9h0M268.6 75.8h0M268.8 74.3h0M269.2 77.4h0M269.2 75.1h0M269.2 74.2h0M289.8 75h0M289.8 72h0M289.9 73.5h0M289.8 73.7h0M289.8 72.9h0M289.8 74.8h0M290.3 73.6h0M290 73.5h0M290.8 75.9h0M291.1 75.1h0M291 73.4h0M291.7 73.1h0M291.7 73.8h0M291.8 73h0M291.3 71.3h0M291.3 71.4h0M291.4 73.3h0M291.5 73.1h0M292.1 71.6h0M292.2 72.4h0M292.2 73.8h0M291.8 72.2h0M291.8 71.4h0M292.1 73.6h0M292.7 68.8h0M292.6 74.6h0M292.5 73.4h0M292.9 72.4h0M292.7 71.2h0M292.7 72.6h0M292.8 72.9h0M292.9 71.2h0M293.1 75.1h0M293.5 74.3h0M293 74h0M294.1 72.7h0M293.9 70.7h0M294.3 74.6h0M294.6 73.4h0M294.5 75h0M294.9 73.2h0M295.1 74h0M295.1 67.7h0M295.2 72.7h0M295.1 72.9h0M296 73.1h0M295.8 74.3h0M296 74.3h0M295.8 74.4h0M295.4 74.4h0M295.7 74.1h0M295.8 74h0M296.1 71.4h0M296.2 69.7h0M296.5 74.3h0M296.5 74.8h0M296.4 74.9h0M296.9 74.9h0M297 74.5h0M296.7 72.4h0M296.9 71h0M297.8 74.1h0M297.2 75.1h0M297.4 75.6h0M297.5 75.7h0M297.5 75.5h0M297.4 74.1h0M298.4 74.6h0M298.2 74.1h0M298.1 69.9h0M298.4 73.3h0M298.5 75.2h0M298.9 74.6h0M298.4 74.4h0M299 74.9h0M298.4 74h0M298.8 75.3h0M299.5 75.1h0M299.5 74.3h0M299.5 73.8h0M299.5 70.5h0M299.5 74.3h0M299.5 74.3h0M299.4 73.6h0M299.3 73.1h0M299.3 74.7h0M299.4 75.1h0M299.8 72.8h0M300 68.1h0M299.7 74.9h0M300.2 74.7h0M300.7 74.4h0M300.4 71.1h0M300.6 74.3h0M300.8 73.5h0M300.9 74.5h0M301.3 74.4h0M301.5 73.7h0M301.6 72.7h0M301.4 72.3h0M302.6 70.6h0M302.1 71.4h0M302.2 71.6h0M302.8 71.4h0M302.8 70.7h0M302.9 70.8h0M303.4 68h0M303.8 70.5h0M303.5 70.7h0M303.9 70.6h0M304.3 68.7h0M304.7 72.5h0M304.9 69.8h0M305.2 72h0M305.4 71.8h0M305.5 71.6h0M305.1 70.3h0M305.6 71.4h0M306 69.6h0M305.7 71.4h0M306.7 73.1h0M306.7 72.9h0M306.4 72.6h0M307.3 71.9h0M307.3 68.4h0M307.9 74.4h0M307.5 74.5h0M307.8 74.2h0M307.7 73.3h0M308.2 72.4h0M308.1 73h0M309 72.2h0M309 71.8h0M308.9 68.2h0M308.9 70.9h0M309.4 72.6h0M309.4 71.8h0M309.6 72.9h0M309.2 72.1h0M309.9 70.1h0M310.2 73.8h0M310.3 72.8h0M310.4 72.7h0M309.9 71.7h0M310.6 72.8h0M310.8 69.8h0M310.4 72.9h0M311.2 70.7h0M311.2 71.5h0M311.2 69h0M311.2 70.8h0"/>
<path stroke="#89a8a5" stroke-width="1.9" stroke-linecap="round" d="M71 68.3h0M71 72.6h0M71 72.3h0M71 70.4h0M71 72h0M71 73.8h0M71 71.9h0M71.7 70.3h0M71.5 69.7h0M71.3 71.6h0M71.5 69.7h0M71.3 71.7h0M71.6 71.5h0M72.4 70.9h0M71.9 71.1h0M72.3 70.2h0M71.8 70.2h0M71.9 70.7h0M72.7 68.6h0M73.2 72.2h0M73.3 71.3h0M73.3 72.1h0M73.1 71.3h0M73.9 72.8h0M74 69.3h0M74.1 72.5h0M73.8 69.4h0M73.8 73h0M74.2 71.7h0M74.1 70h0M74 73.1h0M73.8 72.2h0M74.2 71.9h0M75 70.6h0M74.9 71.4h0M75.2 73.4h0M75.2 70.6h0M75.3 73.5h0M75.4 73.8h0M75.9 73.9h0M75.7 70.4h0M75.7 73.8h0M76.5 71.3h0M76.1 73.5h0M76.5 73.3h0M76.4 74.3h0M76.4 73.1h0M76 73.4h0M76.5 73.5h0M76.7 74.3h0M77.1 73.7h0M77.2 74h0M76.9 74.2h0M77.7 73h0M77.3 70.2h0M77.4 73.4h0M77.6 73.5h0M78 73.1h0M78.7 72.8h0M78.9 72.3h0M79.5 70.9h0M79.1 73.2h0M79.6 72.5h0M79.8 72.2h0M79.7 72.1h0M79.8 70.1h0M79.8 71h0M80.7 72.9h0M80.3 72h0M80.7 72.6h0M81.3 71.1h0M81.1 73h0M81.6 70.9h0M81.7 70.1h0M81.5 67.8h0M81.6 73h0M81.8 71.9h0M81.7 68.9h0M82.4 72.8h0M82.2 72.3h0M82.5 73.3h0M82.1 73.1h0M82.9 69.4h0M82.6 72.3h0M82.9 71.6h0M83.3 72.2h0M83.9 74.5h0M83.9 73.8h0M84.4 72h0M84.2 73.7h0M84.4 72.1h0M84.7 71.2h0M84.9 72h0M84.5 69.3h0M85.5 73.3h0M85.1 72.6h0M85.4 70.4h0M85.9 70.8h0M86 72.5h0M86 72.7h0M86.1 71.2h0M86.1 70.7h0M86.4 69h0M86.7 67.7h0M86.2 71.6h0M86.2 70.8h0M86.7 71.4h0M86.2 71.8h0M86.6 70.6h0M87.1 72.2h0M87.3 71.7h0M86.9 71.3h0M87.9 71.6h0M87.9 72.1h0M88.3 74.4h0M88.5 73.5h0M88.4 74h0M89 74.1h0M89.1 74.3h0M89.6 70.6h0M89.4 70.6h0M89.7 73.8h0M89.4 71.5h0M89.7 72.8h0M90.4 74h0M90.2 71.3h0M90.3 74.1h0M90.4 74.1h0M90.2 74.2h0M90.1 72.9h0M90.9 71.6h0M91 74.1h0M90.8 75.2h0M91.4 73.2h0M91.5 75h0M91.3 73.5h0M91.4 74.2h0M91.7 75.3h0M91.9 75.9h0M92.8 73.5h0M92.3 74h0M92.7 75.5h0M92.8 74.9h0M92.7 75.7h0M93.3 71.7h0M93.1 71.9h0M93.3 71.7h0M93.3 69.3h0M93.2 71.6h0M93.1 68.7h0M93.8 71.6h0M93.6 70.9h0M93.5 70.7h0M93.7 72.4h0M93.7 71.2h0M93.7 71.7h0M93.9 71.9h0M93.8 70.4h0M93.6 71.5h0M93.7 71.5h0M93.7 72.1h0M94.2 73h0M94.1 73.2h0M94.1 67.9h0M94.3 72.9h0M94.7 71.8h0M94.9 68.6h0M95.2 72h0M94.6 71.6h0M94.9 70.7h0M94.6 71.1h0M94.7 69.9h0M95.2 71.4h0M95.2 69.5h0M95.8 72h0M95.6 70.8h0M96.1 69.9h0M96.4 71h0M96.5 72.3h0M96.7 72.2h0M96.7 72.9h0M96.9 70.1h0M96.6 72.8h0M96.4 72.4h0M96.8 70.1h0M97 71.1h0M97 71.3h0M97.6 70.7h0M97.1 69.6h0M97.2 71.1h0M97 69.2h0M97.7 71.9h0M97.8 73.2h0M97.8 72h0M97.8 70.3h0M97.8 72.1h0M97.8 71.4h0M97.8 71.7h0M97.8 68.2h0M97.8 71.5h0M97.8 71.3h0M128.7 73.7h0M128.7 73.2h0M128.7 73.5h0M128.7 76.4h0M128.9 74.3h0M128.7 75.9h0M128.7 74.3h0M128.7 75.5h0M129.4 72.5h0M129.5 72.1h0M129.1 71.7h0M129.7 74.2h0M129.7 71.1h0M130.3 74.5h0M130.2 74.4h0M131.2 74.3h0M131.2 71.1h0M131.7 74.9h0M131.5 74.7h0M131.5 75.7h0M131.6 75.6h0M131.9 72.5h0M131.9 75.2h0M132 74.9h0M132.1 75.3h0M132.6 73.4h0M132.7 75.4h0M132.7 74.9h0M132.6 73.6h0M133.6 72.7h0M133.4 74h0M133.6 74.5h0M133.2 74.3h0M133.5 74.4h0M133.2 72.6h0M133.6 74.4h0M133.8 70.5h0M134.1 69.8h0M134.5 77h0M134.5 76.2h0M134.3 75.7h0M134.4 77h0M135 73.4h0M135.3 71.1h0M134.9 73.6h0M135.1 74.3h0M135.9 71.9h0M136 74.7h0M135.9 74.5h0M135.6 74.2h0M135.7 73.3h0M136.1 73.1h0M136.4 74.9h0M136.5 72.3h0M136.5 74.5h0M136.9 69.8h0M136.9 73.9h0M136.9 75h0M137 76.8h0M136.8 76.4h0M137.4 77.4h0M137.8 76.8h0M137.3 77.3h0M137.9 77.9h0M137.9 68.4h0M138.4 71.4h0M137.9 68.4h0M138.4 70.8h0M138.4 69.4h0M138.4 70.8h0M138.9 69.7h0M139.5 72.8h0M139.7 72.9h0M139.6 73.4h0M139.3 69.2h0M139.3 72h0M140 73.7h0M140.2 71.3h0M140.3 72.7h0M140.1 73.8h0M140 73.5h0M139.8 71.5h0M140.3 71.3h0M140.4 73.9h0M140.4 75.1h0M140.4 73.2h0M141.3 75.2h0M141.2 74.1h0M141.1 73.8h0M141.2 75.7h0M141.1 74.9h0M141 74.8h0M141 75h0M141.2 75.6h0M141.3 75.8h0M142 77.5h0M141.5 76.9h0M141.9 77.8h0M141.9 77.7h0M141.6 71.8h0M142.2 77.5h0M142.4 77.8h0M142.8 73.7h0M142.9 75.3h0M142.7 74.9h0M143.9 76.6h0M143.8 77.2h0M143.9 75.7h0M143.8 75.9h0M144.4 74.8h0M144.1 71.7h0M144.4 75.7h0M144 68.8h0M144.4 75.7h0M143.9 76.6h0M144.2 74.1h0M144.6 69.6h0M144.8 71.2h0M144.9 70.8h0M145.6 77.4h0M145.1 76.9h0M145.5 79.9h0M145.2 79.5h0M145.2 79.5h0M145.8 79.1h0M145.7 80.4h0M146.2 80.3h0M146.6 78h0M146.6 77.7h0M146.5 77.4h0M146.8 78.1h0M146.7 76.4h0M147 76.9h0M147.1 77.1h0M147 76h0M147 77.4h0M147.7 71.1h0M148 73.9h0M147.7 72.7h0M147.5 72.2h0M148.2 74.1h0M149.1 72.7h0M148.8 68.7h0M149.2 73.6h0M149.2 74.4h0M149.5 72.1h0M149.3 71.9h0M149.3 73.2h0M149.5 69.9h0M149.3 68.9h0M150.2 72.1h0M150.5 70.4h0M150.6 71.7h0M150.8 72h0M150.9 71.6h0M150.7 70.8h0M151 72.3h0M150.8 70.5h0M151.1 71.5h0M151.1 73.8h0M151.9 74.3h0M152 73.7h0M152 73.9h0M152.4 73.4h0M152.4 67.8h0M152.5 73.1h0M152.8 73.3h0M152.9 73.6h0M153.1 69.9h0M153.2 72.8h0M153 67.6h0M153.9 70.8h0M154.7 71.9h0M154.3 69.6h0M154.6 69.9h0M154.3 72.7h0M155.1 72.6h0M155.1 73.6h0M155.1 71.7h0M155.1 75h0M155.1 74.3h0M155.1 75.1h0M155.1 75.4h0M181.1 71.8h0M181.1 71.5h0M181.3 71.3h0M181.1 72.4h0M181.4 72.2h0M181.3 71.1h0M181.8 69.6h0M182.1 72.1h0M182.4 71.6h0M182.3 69.5h0M182.1 71h0M182.1 69h0M182.8 71.2h0M182.7 72.1h0M182.9 71.2h0M183 71.9h0M183.2 72.7h0M183.6 69.4h0M183.5 73.3h0M183.7 67.8h0M184.3 70.5h0M184.3 70.3h0M184.1 73.2h0M183.9 72.4h0M184.3 71.1h0M183.9 72.8h0M184.8 69.9h0M184.5 73.5h0M184.7 70.3h0M184.7 73.3h0M184.6 73.6h0M184.9 72.7h0M184.5 73.2h0M185.3 71.4h0M185 71.2h0M185.7 68.7h0M185.9 70.1h0M185.8 70.5h0M186.7 72h0M186.3 72.1h0M187.3 71.6h0M187.1 70.6h0M186.9 72h0M187.9 71.6h0M187.8 71.4h0M187.7 70.5h0M187.8 69.4h0M187.7 72.3h0M187.4 71.7h0M188.1 71.2h0M188.5 72.1h0M188.3 71.9h0M188.2 71.5h0M188.1 71.9h0M189.1 70.6h0M189.2 69.7h0M188.9 71.6h0M188.8 71.8h0M189 71.4h0M189.7 68.3h0M189.4 68.5h0M189.5 69.8h0M189.5 70.1h0M189.3 70.3h0M189.3 70.8h0M190 70.8h0M190 71.7h0M190.2 72h0M189.9 72.1h0M189.9 71.6h0M190.7 69.4h0M190.6 71.8h0M190.6 71.9h0M190.6 72.2h0M190.5 71h0M190.5 72h0M191.2 72.2h0M191.1 71.9h0M191.4 71.5h0M191.2 72.1h0M192 70.2h0M192 71.1h0M191.8 69.9h0M192.2 71.4h0M191.7 71.8h0M191.7 71.4h0M192.2 69.5h0M192.6 73.1h0M192.7 72.9h0M192.6 70.4h0M192.6 73.4h0M192.9 68.7h0M193 70.9h0M193.3 72.6h0M193.8 72.6h0M193.5 73.2h0M194.2 71.4h0M194.4 71.5h0M194.6 70.8h0M194 71.7h0M194.3 70.8h0M194.9 71.6h0M195.1 72.1h0M194.9 70.3h0M195.1 71.9h0M195.3 69.2h0M195.4 71h0M195.7 68.7h0M195.8 71.3h0M196.3 73.1h0M196.2 68.8h0M196.1 72.4h0M196.5 71.1h0M196.8 70.3h0M196.7 69.4h0M197.2 67.9h0M197 72h0M197.2 72.4h0M197.3 68.3h0M197.5 72.4h0M197.2 70.1h0M197.4 70.5h0M198 70h0M197.9 69.9h0M198 72.6h0M198.1 70.5h0M198.7 70.9h0M198.6 71.4h0M198.4 71.2h0M198.7 72h0M199.1 70.3h0M199.1 67.8h0M199.7 70h0M199.7 72.2h0M199.7 72.4h0M200.2 71.4h0M200.5 71h0M200.5 69.3h0M200.6 71.5h0M200.3 70.9h0M201 71.8h0M201 70.1h0M201.4 69.2h0M201.3 72.3h0M201.8 71.9h0M201.4 72.2h0M202 71.7h0M202.1 70.1h0M202.6 73.5h0M202.5 73.3h0M202.6 72.2h0M203.1 72.5h0M203.4 70.8h0M203.9 69.4h0M204 70.5h0M203.8 69.7h0M204.2 69.4h0M204.2 70.6h0M204.2 71.6h0M204.2 70.9h0M204.2 71.3h0M204.2 71.6h0M204.2 70h0M204.2 71h0M204.2 70.3h0M204.2 71.9h0M204.2 71.5h0M204.2 68.3h0M230 71.2h0M230 69.1h0M230 72.1h0M230 68.6h0M230 69.5h0M230 75.5h0M230.5 72.1h0M231.4 72.4h0M231.4 76.6h0M230.9 75.5h0M231.4 75.4h0M230.9 71.4h0M231.4 71.3h0M231.7 75.5h0M231.7 76.6h0M232.1 71.7h0M232.5 73.2h0M232.1 74.5h0M232.6 74.4h0M232.3 74.2h0M232.8 73.8h0M233.7 71.6h0M233.6 70.1h0M233.4 70h0M233.9 70h0M234.3 73.6h0M234.4 75.2h0M234 74.4h0M234 72.8h0M234.4 73.6h0M234.8 73.3h0M235.1 75.5h0M234.6 76.5h0M235 75.6h0M235.6 71h0M235.6 67.7h0M236.2 71.2h0M235.7 70.7h0M235.7 68.9h0M236.3 71.3h0M236 69.5h0M236.1 68.2h0M235.9 71.9h0M236.6 73.7h0M236.7 72.6h0M236.7 74.6h0M236.4 74.7h0M237 71.6h0M237.4 72.5h0M237.3 68.9h0M237.1 72.6h0M237 72.1h0M237 72.8h0M238.6 72.8h0M239.2 72.8h0M238.9 72.9h0M239.3 72.8h0M238.9 73.3h0M239.6 71.7h0M239.9 71.1h0M240.2 73h0M240 73.4h0M241.1 73.5h0M240.7 73.3h0M241 71.4h0M240.7 71.2h0M241.2 75.8h0M241.2 77.3h0M241.3 76.1h0M242.2 78.1h0M241.7 78.5h0M242.2 76.9h0M242.2 75.7h0M242.6 73.6h0M242.5 75.3h0M242.3 74.8h0M243 75.2h0M243.2 73.5h0M243.5 75.2h0M243.1 75.6h0M243.6 75.2h0M244 73.5h0M243.9 74.2h0M243.8 76.7h0M243.7 75.7h0M243.9 74.2h0M244.1 72.1h0M244.3 72.6h0M244.2 72.1h0M245.1 73.9h0M244.9 71h0M244.9 73h0M244.9 70.4h0M244.9 73.1h0M245.2 74.6h0M245.2 74h0M245.1 74h0M245.2 73.4h0M245.8 72.2h0M245.9 72.1h0M245.8 73h0M245.9 73h0M246 73.6h0M246.1 70.9h0M246.3 72.2h0M246.2 73.4h0M246.8 73.7h0M247.1 74.2h0M247.5 73.6h0M247.4 68.1h0M247.7 77h0M247.6 73.9h0M247.5 76.5h0M247.9 76.2h0M248.4 74.7h0M248.7 74.6h0M249 74.3h0M248.9 74.4h0M249.1 70.2h0M249.3 74.2h0M249.8 68.3h0M249.7 68.3h0M249.6 70.4h0M249.7 70.7h0M249.7 70.2h0M249.7 69.6h0M250.5 72.1h0M250.6 73.8h0M250.7 71.9h0M250.3 74.2h0M250.7 73.4h0M250.4 74.7h0M250.7 74h0M250.2 74.1h0M251 78.2h0M251 76h0M250.8 78.3h0M251 73.8h0M251 74.4h0M251 74.8h0M251 75.1h0M251 74.2h0M271.1 75.9h0M271.1 75.9h0M271.1 74.3h0M271.3 70.2h0M271.1 75.8h0M271.4 75.5h0M271.4 74.6h0M271.7 75.2h0M271.4 75.8h0M271.5 70.1h0M271.6 75.6h0M272.1 75.3h0M272.4 73h0M272.4 75.7h0M272 74.6h0M271.9 76h0M272.5 71.8h0M273 74h0M272.9 72.6h0M273 74.5h0M272.5 75.2h0M272.6 75.2h0M272.6 75.2h0M272.8 75.1h0M273.2 77.3h0M273.7 77.7h0M273.7 78.8h0M274.1 78.5h0M274.3 76.7h0M274.1 75.2h0M274.2 78.6h0M274.4 71h0M274.8 76.8h0M274.8 73.3h0M274.5 77.1h0M274.4 75.9h0M275.4 75.7h0M275.2 73.1h0M275.8 74.9h0M275.7 71.4h0M276.1 71.4h0M276.4 75.2h0M276.4 74.9h0M276.6 70.7h0M276.5 76.3h0M276.5 76.5h0M276.6 73.9h0M276.2 75.2h0M277.1 71.7h0M276.9 75.2h0M276.9 74.1h0M276.9 75.2h0M277.6 77h0M277.8 71.8h0M277.5 77.3h0M277.6 77.7h0M277.5 77.4h0M278.3 74.2h0M279.1 77.4h0M279.1 77.5h0M278.8 77.6h0M279 75h0M278.7 78.6h0M278.6 76.4h0M279.5 74.5h0M279.4 75.2h0M279.2 74.8h0M279.5 74.4h0M280 72.3h0M280.2 72.6h0M280.2 71.5h0M280.2 70.9h0M280.1 71.7h0M280.2 70.7h0M280.4 69.6h0M280.7 74.3h0M280.9 73.9h0M280.4 74.3h0M280.5 73.4h0M281.4 78.6h0M281.2 79.2h0M281.2 77.5h0M281.2 76.7h0M282 75.3h0M281.7 74.9h0M282 74.8h0M281.6 78.2h0M282.5 77.2h0M282.6 76.6h0M282.7 74.7h0M282.4 68.3h0M282.1 76.5h0M282.7 74.6h0M282.9 73.9h0M283 75h0M282.7 73.7h0M282.7 75.3h0M283.2 71h0M283.8 76.8h0M283.6 75.9h0M283.8 74.6h0M283.8 74h0M283.4 73.9h0M283.3 76.7h0M283.9 75.7h0M283.9 74.5h0M284.5 73.8h0M284.2 75.7h0M284.1 75.7h0M285 73.2h0M285 75h0M285.1 74.8h0M284.9 74.3h0M284.8 73.3h0M285.4 72.6h0M285.7 71.9h0M285.6 72.7h0M285.4 72.8h0M286.3 71.9h0M286.2 71.4h0M285.9 73.4h0M286.1 72.6h0M286.7 71.6h0M286.7 73.9h0M286.5 73.2h0M286.7 73.5h0M286.3 71.4h0M286.5 73.4h0M287.3 72.9h0M287.5 72.8h0M287.1 72.4h0M287 69.4h0M287.1 71.9h0M287.4 69.8h0M287 72.2h0M287 71.7h0M287.7 76.9h0M287.8 76h0M287.7 75.6h0M287.6 75.3h0M287.8 72.2h0M287.9 73.4h0M287.9 74.8h0M287.9 76.1h0M287.9 75h0M287.9 72.6h0M287.9 73.9h0M287.9 75h0M287.9 74h0M313.1 72.1h0M313.1 74.4h0M313.1 74h0M313.1 74.3h0M313.2 75.2h0M313.1 75.2h0M313.2 75.7h0M313.1 74.7h0M313.1 74.8h0M313.3 73.2h0M313.9 69.5h0M313.6 73.1h0M314.4 72.7h0M314.4 74.7h0M314.9 75.4h0M315.1 76.5h0M314.9 75.6h0M314.8 75.7h0M314.9 76.2h0M314.6 73.6h0M315.4 75.7h0M315.7 75.8h0M315.2 75.1h0M315.2 75h0M315.4 75.9h0M315.5 74.8h0M316.2 72.7h0M315.8 75.1h0M315.9 74.6h0M316.8 72.6h0M316.5 72.7h0M316.3 73.3h0M316.3 72.9h0M316.5 73.5h0M316.3 70.4h0M317.4 73.6h0M317.3 72.9h0M317.3 73.3h0M316.9 73h0M318.1 68.8h0M317.6 71.2h0M317.8 73.1h0M318.4 72.7h0M318.7 72.7h0M318.2 71.9h0M319.3 73.5h0M319.2 68.8h0M319.5 72.8h0M319.4 73.8h0M319.9 70.3h0M319.5 74h0M319.5 73.4h0M319.8 73h0M320 73.8h0M320.2 73.7h0M320.2 72.9h0M320.5 70h0M320.3 73.5h0M321 74.5h0M321 70.8h0M321.7 74h0M321.7 68.4h0M321.4 73.1h0M321.5 73.6h0M321.6 69.1h0M322 74.6h0M322.1 75.5h0M322.1 74.2h0M321.8 75h0M322.3 75.5h0M322 75h0M322.4 70.5h0M322.6 72.5h0M322.7 70.3h0M323.1 75.3h0M323.1 73.4h0M323.6 68.9h0M323.5 73.4h0M323.8 73.2h0M324.1 73.1h0M324.5 73.9h0M324.5 71.9h0M325 72.4h0M324.9 74.3h0M324.8 73.9h0M325 73.4h0M325 74.1h0M325 73.8h0M325.2 74.1h0M325.3 73h0M325.5 71.7h0M325.4 73.7h0M325.3 73.3h0M325.7 73.5h0M326.3 73h0M326.8 70.4h0M326.6 72.4h0M326.6 71.5h0M327 71.2h0M327.2 67.8h0M327.1 74h0M327.5 74h0M327.2 71.7h0M327.6 72.2h0M327.2 73.1h0M327.9 73.4h0M328.2 72.2h0M327.9 74.9h0M328 74.7h0M328 72.5h0M328.4 73.9h0M328.6 72.9h0M328.4 73.7h0M328.5 75.6h0M328.5 72.7h0M328.4 74.5h0M328.6 75.1h0M329.1 73.4h0M329.3 74.1h0M329.2 75.2h0M329.1 72.7h0M329.7 70.3h0M329.6 75.3h0M329.9 73.4h0M330.4 75.8h0M330.7 75.2h0M330.7 74.8h0M330.2 74.6h0M330.6 71.5h0M330.6 72.4h0M331 74.7h0M330.8 72.5h0M331.1 69.9h0M331.3 74.9h0M331 73.6h0M330.7 75.1h0M330.9 71.4h0M331.3 73.5h0M331.7 74.4h0M331.4 72.8h0M331.3 74.4h0M332.2 71.5h0M332.1 76.3h0M332.2 75.8h0M332.2 74.5h0M332.7 73.3h0M332.7 76.2h0M332.5 75.9h0M333.6 68.1h0M333.3 74.5h0M333.7 75.5h0M333.5 75.4h0M333.1 75.3h0M334.2 75.4h0M333.9 74.7h0M334 74.6h0M334.2 73.6h0M333.7 69.1h0M334.2 75.9h0M334.1 68h0M334.6 74.5h0M334.6 75h0M334.6 72.7h0M334.3 73.9h0M334.8 73.1h0M334.8 75.1h0M334.8 72.5h0M334.8 75.2h0M334.8 72.3h0M334.8 75.5h0M334.8 75.3h0M334.8 75.3h0"/>
<path stroke="#2d4760" stroke-width="1.9" stroke-linecap="round" d="M38.5 65.6h0M43.1 65.7h0M63.5 68h0M47.1 66.4h0M48.8 67.9h0M80.8 67.9h0M87.1 67.3h0M74.3 67.5h0M72.5 67.7h0M80.6 67.6h0M96.7 67.5h0M116.3 68h0M110.9 65.5h0M118.9 67.9h0M105.5 67.2h0M106.8 66.8h0M113.3 67.5h0M137.9 68h0M132.6 66.7h0M136 68h0M175 68h0M176.9 67.1h0M171.1 67.6h0M165.7 66.4h0M159.3 66.3h0M160 67.5h0M172.1 66.8h0M189.6 66.7h0M194.6 65.9h0M197.2 67.9h0M184.9 65.5h0M185.2 67.4h0M181.6 67h0M196.8 65.8h0M192.3 67.9h0M221.6 67.8h0M208.6 67.8h0M218.9 67.5h0M222.5 68h0M206.3 66.5h0M216.4 65.7h0M224 67.4h0M218.4 67.4h0M236.9 67.6h0M240.2 67.3h0M241.4 67.7h0M234.8 65.4h0M239.3 66.8h0M246.6 67.9h0M260.8 67.4h0M259.9 67.9h0M264.3 67h0M258.8 65.7h0M262.6 67.7h0M258.3 66.7h0M264.2 67.1h0M285.5 66.6h0M283.4 67.4h0M296.9 65.6h0M290.5 67.6h0M294 66.9h0M297.7 66.7h0M304.7 67h0M290.5 67.9h0M332 67.6h0M332.6 66.4h0M321.2 66.6h0M321 66.6h0M329.1 67.2h0M75.6 65.1h0M76.8 64.8h0M76 65.9h0M76.8 66.1h0M75.7 66.9h0M77 66.7h0M75.8 67.8h0M76.8 68h0M181.2 65.7h0M182.5 65.8h0M183.1 65.8h0M181.6 66.6h0M182.4 66.6h0M183.2 66.8h0M181.6 67.9h0M182.3 67.6h0M183.4 67.8h0M195.4 65.8h0M196.4 65.7h0M195.2 66.5h0M196.3 66.7h0M195.6 67.9h0M196.3 67.7h0M225 65h0M225.9 64.8h0M224.9 65.7h0M226 65.8h0M224.9 66.9h0M225.6 66.5h0M224.7 68h0M225.8 67.9h0M242.7 65.2h0M243.6 65.4h0M242.6 66.2h0M243.4 66.4h0M242.8 67.2h0M243.5 67.4h0M293 65.6h0M293.9 65.6h0M293.1 66.5h0M293.9 66.4h0M292.8 67.4h0M293.9 67.5h0M231.6 64.8h0M232.5 65.2h0M231.4 65.8h0M232.4 66.2h0M231.8 67.1h0M232.8 67.2h0M231.6 67.8h0M232.6 68h0M301.8 65.2h0M302.9 65h0M302 65.8h0M303.1 66h0M302 66.8h0M302.9 66.9h0M301.8 68.2h0M303.1 68h0M326.5 64.8h0M327.4 65.1h0M326.6 66.1h0M327.6 66.1h0M326.6 66.8h0M327.4 67.1h0M326.3 67.9h0M327.6 68h0"/>
<path stroke="#c43c48" stroke-width="1.9" stroke-linecap="round" d="M76 54.8h0M76.3 58.5h0M76.2 60.1h0M76.3 61h0M76.1 62.2h0M76.1 63.5h0M182 38.9h0M182.1 43.8h0M182.5 52.4h0M182.1 53.8h0M182.6 55.3h0M182.1 56.6h0M181.9 58.4h0M182.9 58h0M181.6 59.6h0M182.8 59.4h0M182 60.6h0M182.9 60.5h0M181.7 61.8h0M182.8 62h0M181.6 63.1h0M183 63h0M181.8 64.2h0M182.6 64.6h0M196.1 58.2h0M195.8 59.4h0M195.8 60.6h0M195.8 62h0M196 63.2h0M195.9 64.4h0M225.3 58.7h0M225.3 59.7h0M225.5 60.9h0M225.1 62h0M225.3 63.5h0M243 58h0M243.1 58.9h0M243.1 60.5h0M243.1 61.6h0M243.1 62.7h0M243.1 63.9h0M293.5 60.6h0M293.3 61.5h0M293.3 63.2h0M293.4 64.3h0M232.2 61.2h0M302.6 61.9h0M326.8 62.3h0M58.4 62.4h0M85.6 64.2h0M115 63.9h0M119.4 62.8h0M124.8 62.4h0M147.8 62h0M206.6 62.8h0M185.9 53.6h0M250.6 61.2h0M252 64.3h0M316.8 63.5h0"/>
<path d="M77 51L78.2 45.9L81.9 49.2Z" fill="#f00"/><path d="M80 47.5L81.9 45.4" stroke="#f00" stroke-width="0.65"/>
<path d="M226.1 55.8L227.3 50.7L231 54Z" fill="#f00"/><path d="M229.1 52.3L231 50.2" stroke="#f00" stroke-width="0.65"/>
<path d="M232.9 57.8L234.1 52.7L237.8 56Z" fill="#f00"/><path d="M235.9 54.3L237.8 52.2" stroke="#f00" stroke-width="0.65"/>
<path d="M244.2 55.5L245.4 50.4L249.1 53.7Z" fill="#f00"/><path d="M247.2 52L249.1 49.9" stroke="#f00" stroke-width="0.65"/>
<path d="M293.9 58.8L295.1 53.7L298.8 57Z" fill="#f00"/><path d="M296.9 55.3L298.8 53.2" stroke="#f00" stroke-width="0.65"/>
<path d="M182.9 35L184.1 29.9L187.8 33.2Z" fill="#000"/><path d="M185.9 31.5L187.8 29.4" stroke="#000" stroke-width="0.65"/>
<text transform="translate(348 14.8) scale(0.995 1)" font-size="12.1" fill="#111" stroke="#111" stroke-width="0.25">B</text>
<path d="M383.4 27.1V80.1" stroke="#808080" stroke-width="1"/>
<path d="M380 80.1H383.3" stroke="#555" stroke-width="0.9"/>
<text x="376.2" y="82.3" class="t" text-anchor="end">0</text>
<path d="M380 66.8H383.3" stroke="#555" stroke-width="0.9"/>
<text x="376.2" y="69" class="t" text-anchor="end">5</text>
<path d="M380 53.6H383.3" stroke="#555" stroke-width="0.9"/>
<text x="376.2" y="55.8" class="t" text-anchor="end">10</text>
<path d="M380 40.3H383.3" stroke="#555" stroke-width="0.9"/>
<text x="376.2" y="42.5" class="t" text-anchor="end">15</text>
<path d="M380 27.1H383.3" stroke="#555" stroke-width="0.9"/>
<text x="376.2" y="29.3" class="t" text-anchor="end">20</text>
<g transform="translate(357.6 0) rotate(-90)" class="yl"><text x="-66.4" y="-0.4" font-size="5.4">&#8722;</text><text x="-62.1" y="0">log</text><text x="-53.6" y="1.4" font-size="4.5">10</text><text x="-49.3" y="-0.4" font-size="9.2" fill="#777" stroke="none">(</text><text x="-46.8" y="0" font-style="italic">p</text><text x="-42.6" y="-0.4" font-size="9.2" fill="#777" stroke="none">)</text></g>
<path d="M383.6 82.4H683" stroke="#6a6a6a" stroke-width="1.1"/>
<path d="M383.8 82.4V85.9" stroke="#5a5a5a" stroke-width="0.9"/>
<path d="M401.4 82.4V85.9" stroke="#5a5a5a" stroke-width="0.9"/>
<path d="M433 82.4V85.9" stroke="#5a5a5a" stroke-width="0.9"/>
<path d="M462 82.4V85.9" stroke="#5a5a5a" stroke-width="0.9"/>
<path d="M490.6 82.4V85.9" stroke="#5a5a5a" stroke-width="0.9"/>
<path d="M517 82.4V85.9" stroke="#5a5a5a" stroke-width="0.9"/>
<path d="M541.5 82.4V85.9" stroke="#5a5a5a" stroke-width="0.9"/>
<path d="M566 82.4V85.9" stroke="#5a5a5a" stroke-width="0.9"/>
<path d="M589.4 82.4V85.9" stroke="#5a5a5a" stroke-width="0.9"/>
<path d="M609.6 82.4V85.9" stroke="#5a5a5a" stroke-width="0.9"/>
<path d="M628.4 82.4V85.9" stroke="#5a5a5a" stroke-width="0.9"/>
<path d="M649.4 82.4V85.9" stroke="#5a5a5a" stroke-width="0.9"/>
<path d="M671.6 82.4V85.9" stroke="#5a5a5a" stroke-width="0.9"/>
<text x="383.8" y="95.8" class="t" text-anchor="middle">Chr</text>
<text x="401.4" y="95.8" class="t" text-anchor="middle">1</text>
<text x="433" y="95.8" class="t" text-anchor="middle">2</text>
<text x="462" y="95.8" class="t" text-anchor="middle">3</text>
<text x="490.6" y="95.8" class="t" text-anchor="middle">4</text>
<text x="517" y="95.8" class="t" text-anchor="middle">5</text>
<text x="541.5" y="95.8" class="t" text-anchor="middle">6</text>
<text x="566" y="95.8" class="t" text-anchor="middle">7</text>
<text x="589.4" y="95.8" class="t" text-anchor="middle">8</text>
<text x="609.6" y="95.8" class="t" text-anchor="middle">9</text>
<text x="628.4" y="95.8" class="t" text-anchor="middle">10</text>
<text x="649.4" y="95.8" class="t" text-anchor="middle">11</text>
<text x="671.6" y="95.8" class="t" text-anchor="middle">12</text>
<path d="M383.8 61.4H683.4" stroke="#e3949a" stroke-width="0.7" stroke-dasharray="2.1 1.1"/>
<path d="M383.8 65.4H683.4" stroke="#a4adb6" stroke-width="0.7" stroke-dasharray="2.1 1.1"/>
<path fill="#d95f02" d="M383.5 80.9L383.5 61.7L384.1 61.7L384.1 61.5L384.7 61.5L384.7 62.3L385.3 62.3L385.3 62.7L385.9 62.7L385.9 69.1L386.5 69.1L386.5 70.5L387.1 70.5L387.1 70L387.7 70L387.7 69.8L388.3 69.8L388.3 70.8L388.9 70.8L388.9 71.6L389.5 71.6L389.5 71L390.1 71L390.1 71L390.7 71L390.7 72.6L391.3 72.6L391.3 72.2L391.9 72.2L391.9 72L392.5 72L392.5 72.8L393.1 72.8L393.1 69.1L393.7 69.1L393.7 69.2L394.3 69.2L394.3 69L394.9 69L394.9 73.8L395.5 73.8L395.5 75.4L396.1 75.4L396.1 73.5L396.7 73.5L396.7 73.6L397.3 73.6L397.3 72.7L397.9 72.7L397.9 69.9L398.5 69.9L398.5 69.5L399.1 69.5L399.1 74.5L399.7 74.5L399.7 73.1L400.3 73.1L400.3 73.1L400.9 73.1L400.9 73.4L401.5 73.4L401.5 73.7L402.1 73.7L402.1 73L402.7 73L402.7 70.3L403.3 70.3L403.3 70.5L403.9 70.5L403.9 73.2L404.5 73.2L404.5 72.8L405.1 72.8L405.1 73.2L405.7 73.2L405.7 73.2L406.3 73.2L406.3 72.9L406.9 72.9L406.9 74.2L407.5 74.2L407.5 74.4L408.1 74.4L408.1 72.8L408.7 72.8L408.7 74.1L409.3 74.1L409.3 73.1L409.9 73.1L409.9 74L410.5 74L410.5 65.5L411.1 65.5L411.1 65.8L411.7 65.8L411.7 65.1L412.3 65.1L412.3 73.3L412.9 73.3L412.9 71.6L413.5 71.6L413.5 71.6L414.1 71.6L414.1 73.3L414.7 73.3L414.7 73L415.3 73L415.3 73.1L415.9 73.1L415.9 72.5L416.5 72.5L416.5 72.1L417.1 72.1L417.1 73.3L417.7 73.3L417.7 69L418 69L418 80.9ZM446.8 80.9L446.8 72.6L447.4 72.6L447.4 71.9L448 71.9L448 71L448.6 71L448.6 70.9L449.2 70.9L449.2 71.2L449.8 71.2L449.8 72.2L450.4 72.2L450.4 72L451 72L451 71.2L451.6 71.2L451.6 71.8L452.2 71.8L452.2 71.3L452.8 71.3L452.8 71.4L453.4 71.4L453.4 72.7L454 72.7L454 72.9L454.6 72.9L454.6 71.5L455.2 71.5L455.2 66.6L455.8 66.6L455.8 67.2L456.4 67.2L456.4 66.7L457 66.7L457 71.2L457.6 71.2L457.6 73.3L458.2 73.3L458.2 72.8L458.8 72.8L458.8 72.8L459.4 72.8L459.4 71.3L460 71.3L460 69.6L460.6 69.6L460.6 69.6L461.2 69.6L461.2 71.8L461.8 71.8L461.8 72.3L462.4 72.3L462.4 71.7L463 71.7L463 71L463.6 71L463.6 70.8L464.2 70.8L464.2 72.9L464.8 72.9L464.8 70.5L465.4 70.5L465.4 71.2L466 71.2L466 71.6L466.6 71.6L466.6 71.1L467.2 71.1L467.2 70.4L467.8 70.4L467.8 71L468.4 71L468.4 69.8L469 69.8L469 70.1L469.6 70.1L469.6 68.5L470.2 68.5L470.2 67.6L470.8 67.6L470.8 67L471.4 67L471.4 68.5L472 68.5L472 66L472.6 66L472.6 66.3L473.2 66.3L473.2 66.5L473.8 66.5L473.8 67.1L474.4 67.1L474.4 68.8L475 68.8L475 67.2L475.6 67.2L475.6 63.4L475.7 63.4L475.7 80.9ZM504 80.9L504 72.5L504.6 72.5L504.6 67.1L505.2 67.1L505.2 67.5L505.8 67.5L505.8 67L506.4 67L506.4 72.6L507 72.6L507 71.8L507.6 71.8L507.6 73.4L508.2 73.4L508.2 74.4L508.8 74.4L508.8 74.7L509.4 74.7L509.4 74.7L510 74.7L510 76.7L510.6 76.7L510.6 77.7L511.2 77.7L511.2 76.7L511.8 76.7L511.8 76L512.4 76L512.4 75.5L513 75.5L513 75L513.6 75L513.6 74.3L514.2 74.3L514.2 73.5L514.8 73.5L514.8 73.4L515.4 73.4L515.4 73.7L516 73.7L516 73.1L516.6 73.1L516.6 72.2L517.2 72.2L517.2 72.4L517.8 72.4L517.8 71.7L518.4 71.7L518.4 71.3L519 71.3L519 69.6L519.6 69.6L519.6 69.2L520.2 69.2L520.2 70L520.8 70L520.8 69L521.4 69L521.4 69.2L522 69.2L522 69.5L522.6 69.5L522.6 68.7L523.2 68.7L523.2 69.8L523.8 69.8L523.8 70.2L524.4 70.2L524.4 71.3L525 71.3L525 74.2L525.6 74.2L525.6 74.2L526.2 74.2L526.2 74.8L526.8 74.8L526.8 73.4L527.4 73.4L527.4 75.1L528 75.1L528 64L528.2 64L528.2 80.9ZM553.1 80.9L553.1 70.1L553.7 70.1L553.7 69.9L554.3 69.9L554.3 71.1L554.9 71.1L554.9 69.6L555.5 69.6L555.5 68.7L556.1 68.7L556.1 68.7L556.7 68.7L556.7 69.2L557.3 69.2L557.3 69.9L557.9 69.9L557.9 69.6L558.5 69.6L558.5 69.4L559.1 69.4L559.1 70.9L559.7 70.9L559.7 69.1L560.3 69.1L560.3 68.7L560.9 68.7L560.9 68.8L561.5 68.8L561.5 69.7L562.1 69.7L562.1 69.3L562.7 69.3L562.7 68.6L563.3 68.6L563.3 69.3L563.9 69.3L563.9 68.3L564.5 68.3L564.5 68.6L565.1 68.6L565.1 71.4L565.7 71.4L565.7 70.5L566.3 70.5L566.3 71.6L566.9 71.6L566.9 71.5L567.5 71.5L567.5 69.3L568.1 69.3L568.1 69.3L568.7 69.3L568.7 71.1L569.3 71.1L569.3 71.9L569.9 71.9L569.9 69.9L570.5 69.9L570.5 70L571.1 70L571.1 70.5L571.7 70.5L571.7 71.8L572.3 71.8L572.3 69.6L572.9 69.6L572.9 70.9L573.5 70.9L573.5 72L574.1 72L574.1 72.2L574.7 72.2L574.7 72.6L575.3 72.6L575.3 73.6L575.9 73.6L575.9 74L576.5 74L576.5 74.2L577.1 74.2L577.1 80.9ZM599.9 80.9L599.9 66L600.5 66L600.5 67.7L601.1 67.7L601.1 67.4L601.7 67.4L601.7 69.6L602.3 69.6L602.3 71.5L602.9 71.5L602.9 72.3L603.5 72.3L603.5 72.2L604.1 72.2L604.1 71.2L604.7 71.2L604.7 67.5L605.3 67.5L605.3 67.5L605.9 67.5L605.9 67.8L606.5 67.8L606.5 71.5L607.1 71.5L607.1 74.1L607.7 74.1L607.7 74.3L608.3 74.3L608.3 71.9L608.9 71.9L608.9 70L609.5 70L609.5 69.5L610.1 69.5L610.1 70.5L610.7 70.5L610.7 70.1L611.3 70.1L611.3 72.8L611.9 72.8L611.9 72.6L612.5 72.6L612.5 73.4L613.1 73.4L613.1 73.6L613.7 73.6L613.7 74.3L614.3 74.3L614.3 74L614.9 74L614.9 76.4L615.5 76.4L615.5 75.9L616.1 75.9L616.1 75.3L616.7 75.3L616.7 77.3L617.3 77.3L617.3 76.2L617.9 76.2L617.9 75.2L618.1 75.2L618.1 80.9ZM636.8 80.9L636.8 72.5L637.4 72.5L637.4 71.4L638 71.4L638 71.3L638.6 71.3L638.6 71.5L639.2 71.5L639.2 71.2L639.8 71.2L639.8 71.5L640.4 71.5L640.4 72.5L641 72.5L641 67L641.6 67L641.6 66.7L642.2 66.7L642.2 67.1L642.8 67.1L642.8 71.6L643.4 71.6L643.4 70.8L644 70.8L644 70.6L644.6 70.6L644.6 71L645.2 71L645.2 71.9L645.8 71.9L645.8 70.6L646.4 70.6L646.4 70.9L647 70.9L647 70.2L647.6 70.2L647.6 71.4L648.2 71.4L648.2 71.7L648.8 71.7L648.8 70.3L649.4 70.3L649.4 67.4L650 67.4L650 67L650.6 67L650.6 68.9L651.2 68.9L651.2 69.4L651.8 69.4L651.8 69.4L652.4 69.4L652.4 69.5L653 69.5L653 71.1L653.6 71.1L653.6 71.4L654.2 71.4L654.2 71.3L654.8 71.3L654.8 68.2L655.4 68.2L655.4 68.3L656 68.3L656 68L656.6 68L656.6 70L657.2 70L657.2 71.2L657.8 71.2L657.8 69.5L658.4 69.5L658.4 72.2L659 72.2L659 67L659.6 67L659.6 67.4L660.1 67.4L660.1 80.9Z"/>
<path fill="#89a8a5" d="M418 80.9L418 65L418.6 65L418.6 66.1L419.2 66.1L419.2 66L419.8 66L419.8 68.3L420.4 68.3L420.4 66.1L421 66.1L421 65.4L421.6 65.4L421.6 65.9L422.2 65.9L422.2 66.4L422.8 66.4L422.8 65.5L423.4 65.5L423.4 64.4L424 64.4L424 66.9L424.6 66.9L424.6 66.4L425.2 66.4L425.2 67.7L425.8 67.7L425.8 70.5L426.4 70.5L426.4 72.2L427 72.2L427 73.6L427.6 73.6L427.6 75.4L428.2 75.4L428.2 76.3L428.8 76.3L428.8 75.7L429.4 75.7L429.4 75.8L430 75.8L430 74.8L430.6 74.8L430.6 74.5L431.2 74.5L431.2 76.2L431.8 76.2L431.8 75.9L432.4 75.9L432.4 75.2L433 75.2L433 74.9L433.6 74.9L433.6 73.8L434.2 73.8L434.2 69.8L434.8 69.8L434.8 67.6L435.4 67.6L435.4 68.3L436 68.3L436 68.6L436.6 68.6L436.6 68.3L437.2 68.3L437.2 68.3L437.8 68.3L437.8 69.3L438.4 69.3L438.4 70.6L439 70.6L439 71.3L439.6 71.3L439.6 69.9L440.2 69.9L440.2 70.5L440.8 70.5L440.8 70.3L441.4 70.3L441.4 71L442 71L442 70.6L442.6 70.6L442.6 71L443.2 71L443.2 71.6L443.8 71.6L443.8 71.4L444.4 71.4L444.4 71.9L445 71.9L445 71.8L445.6 71.8L445.6 72.5L446.2 72.5L446.2 70.8L446.8 70.8L446.8 80.9ZM475.7 80.9L475.7 67.5L476.3 67.5L476.3 67.9L476.9 67.9L476.9 68L477.5 68L477.5 67.9L478.1 67.9L478.1 69.5L478.7 69.5L478.7 68.2L479.3 68.2L479.3 67.3L479.9 67.3L479.9 67.5L480.5 67.5L480.5 68L481.1 68L481.1 68L481.7 68L481.7 68.5L482.3 68.5L482.3 71.6L482.9 71.6L482.9 71.2L483.5 71.2L483.5 69L484.1 69L484.1 68.9L484.7 68.9L484.7 69.5L485.3 69.5L485.3 67.8L485.9 67.8L485.9 68.9L486.5 68.9L486.5 68.2L487.1 68.2L487.1 68.2L487.7 68.2L487.7 69.2L488.3 69.2L488.3 69.9L488.9 69.9L488.9 69.1L489.5 69.1L489.5 67.3L490.1 67.3L490.1 68.1L490.7 68.1L490.7 68.1L491.3 68.1L491.3 68.3L491.9 68.3L491.9 68.2L492.5 68.2L492.5 68.5L493.1 68.5L493.1 68.1L493.7 68.1L493.7 69.7L494.3 69.7L494.3 69.6L494.9 69.6L494.9 70.3L495.5 70.3L495.5 69.8L496.1 69.8L496.1 68.1L496.7 68.1L496.7 70L497.3 70L497.3 69.9L497.9 69.9L497.9 69.1L498.5 69.1L498.5 69.7L499.1 69.7L499.1 71.2L499.7 71.2L499.7 69.3L500.3 69.3L500.3 68.3L500.9 68.3L500.9 70L501.5 70L501.5 68.9L502.1 68.9L502.1 67.4L502.7 67.4L502.7 68.3L503.3 68.3L503.3 68.8L503.9 68.8L503.9 70.1L504 70.1L504 80.9ZM528.2 80.9L528.2 60.5L528.8 60.5L528.8 61.1L529.4 61.1L529.4 61.3L530 61.3L530 60.5L530.6 60.5L530.6 62.1L531.2 62.1L531.2 65.1L531.8 65.1L531.8 64.1L532.4 64.1L532.4 64.4L533 64.4L533 63.8L533.6 63.8L533.6 64.8L534.2 64.8L534.2 64.6L534.8 64.6L534.8 67.4L535.4 67.4L535.4 70L536 70L536 69L536.6 69L536.6 72.3L537.2 72.3L537.2 72.2L537.8 72.2L537.8 71.3L538.4 71.3L538.4 70.6L539 70.6L539 70.4L539.6 70.4L539.6 70.4L540.2 70.4L540.2 70.3L540.8 70.3L540.8 70.4L541.4 70.4L541.4 72.2L542 72.2L542 70.3L542.6 70.3L542.6 74L543.2 74L543.2 71.5L543.8 71.5L543.8 72.3L544.4 72.3L544.4 70.6L545 70.6L545 69.4L545.6 69.4L545.6 69.2L546.2 69.2L546.2 69.6L546.8 69.6L546.8 70.4L547.4 70.4L547.4 70.1L548 70.1L548 71.6L548.6 71.6L548.6 70L549.2 70L549.2 69.9L549.8 69.9L549.8 68.6L550.4 68.6L550.4 68.6L551 68.6L551 68.6L551.6 68.6L551.6 68L552.2 68L552.2 68.2L552.8 68.2L552.8 67.7L553.1 67.7L553.1 80.9ZM577.1 80.9L577.1 71.1L577.7 71.1L577.7 70.8L578.3 70.8L578.3 71.6L578.9 71.6L578.9 71.4L579.5 71.4L579.5 71.5L580.1 71.5L580.1 73.7L580.7 73.7L580.7 73.7L581.3 73.7L581.3 72.1L581.9 72.1L581.9 73.5L582.5 73.5L582.5 72.5L583.1 72.5L583.1 73.2L583.7 73.2L583.7 70.7L584.3 70.7L584.3 72.5L584.9 72.5L584.9 72.6L585.5 72.6L585.5 72.7L586.1 72.7L586.1 72.6L586.7 72.6L586.7 72.3L587.3 72.3L587.3 71.6L587.9 71.6L587.9 72.5L588.5 72.5L588.5 68.2L589.1 68.2L589.1 67.2L589.7 67.2L589.7 68.3L590.3 68.3L590.3 66.1L590.9 66.1L590.9 65.2L591.5 65.2L591.5 65L592.1 65L592.1 64.6L592.7 64.6L592.7 66.6L593.3 66.6L593.3 67L593.9 67L593.9 69.4L594.5 69.4L594.5 72.2L595.1 72.2L595.1 72.3L595.7 72.3L595.7 74.6L596.3 74.6L596.3 71.3L596.9 71.3L596.9 72.5L597.5 72.5L597.5 71L598.1 71L598.1 71.3L598.7 71.3L598.7 70.9L599.3 70.9L599.3 70.9L599.9 70.9L599.9 80.9ZM618.1 80.9L618.1 70.9L618.7 70.9L618.7 71.3L619.3 71.3L619.3 71.6L619.9 71.6L619.9 70.9L620.5 70.9L620.5 71.7L621.1 71.7L621.1 70L621.7 70L621.7 70.7L622.3 70.7L622.3 71L622.9 71L622.9 70.4L623.5 70.4L623.5 71.2L624.1 71.2L624.1 69.5L624.7 69.5L624.7 72.1L625.3 72.1L625.3 71.3L625.9 71.3L625.9 71.9L626.5 71.9L626.5 71.1L627.1 71.1L627.1 71.2L627.7 71.2L627.7 73.8L628.3 73.8L628.3 72.7L628.9 72.7L628.9 72.5L629.5 72.5L629.5 74.4L630.1 74.4L630.1 71.6L630.7 71.6L630.7 72.1L631.3 72.1L631.3 72.9L631.9 72.9L631.9 71.2L632.5 71.2L632.5 71.6L633.1 71.6L633.1 70L633.7 70L633.7 70.3L634.3 70.3L634.3 72.9L634.9 72.9L634.9 71.1L635.5 71.1L635.5 70.4L636.1 70.4L636.1 70.2L636.7 70.2L636.7 73.6L636.8 73.6L636.8 80.9ZM660.1 80.9L660.1 72.5L660.7 72.5L660.7 69.5L661.3 69.5L661.3 69.2L661.9 69.2L661.9 68.9L662.5 68.9L662.5 70L663.1 70L663.1 71.8L663.7 71.8L663.7 70.6L664.3 70.6L664.3 72.6L664.9 72.6L664.9 71.7L665.5 71.7L665.5 72.5L666.1 72.5L666.1 73.9L666.7 73.9L666.7 71.8L667.3 71.8L667.3 72.2L667.9 72.2L667.9 71.7L668.5 71.7L668.5 71.7L669.1 71.7L669.1 71.2L669.7 71.2L669.7 72.2L670.3 72.2L670.3 70.9L670.9 70.9L670.9 70.9L671.5 70.9L671.5 70.3L672.1 70.3L672.1 70.3L672.7 70.3L672.7 70.2L673.3 70.2L673.3 70.5L673.9 70.5L673.9 72L674.5 72L674.5 70.3L675.1 70.3L675.1 69.9L675.7 69.9L675.7 70.8L676.3 70.8L676.3 72.8L676.9 72.8L676.9 72.4L677.5 72.4L677.5 71.4L678.1 71.4L678.1 71.8L678.7 71.8L678.7 72.8L679.3 72.8L679.3 71.6L679.9 71.6L679.9 72L680.5 72L680.5 71.7L681.1 71.7L681.1 71.9L681.7 71.9L681.7 72.3L682.3 72.3L682.3 72.7L682.9 72.7L682.9 74L683.5 74L683.5 72.9L683.7 72.9L683.7 80.9Z"/>
<path stroke="#d95f02" stroke-width="1.9" stroke-linecap="round" d="M386.8 69.8h0M387.7 69.8h0M389.4 70.5h0M390.9 72.2h0M392.6 71.2h0M395.9 74.6h0M398.6 66.9h0M399.4 71.9h0M408 72.5h0M414 70.7h0M415.6 69.8h0M450.8 71.6h0M458.3 72.3h0M462.2 71.7h0M463.6 69.4h0M467.4 70.4h0M467.7 69.3h0M468.2 70.5h0M469.2 68.7h0M472.2 65.9h0M504.9 66.7h0M504.9 66.9h0M508.4 74.2h0M509.1 72.3h0M511.6 75.8h0M512.5 72.9h0M513.3 74.5h0M514.7 73.2h0M514.4 72.2h0M518 71.3h0M518.1 71.6h0M519 68.5h0M520.9 67.9h0M521.3 68.4h0M523.6 69.4h0M524.4 70.3h0M557.5 69.7h0M557.8 69.7h0M558.9 68.9h0M565.4 71.2h0M565.9 69.9h0M567.1 71.4h0M568.6 68.9h0M570.7 69.8h0M576.1 73.6h0M600.9 65.5h0M600.9 67.4h0M602.4 71.4h0M604.1 72.1h0M604.7 67.1h0M608.1 73.9h0M613.2 72.1h0M616.9 77.2h0M617.1 73.7h0M617.1 72.2h0M637.8 69.2h0M639.9 71.4h0M643.4 66.8h0M649.2 67.5h0M649 70.2h0M649.7 66.4h0M651 68.1h0M651.8 69.1h0M651.5 68.9h0M655 65.5h0M655.6 67.2h0M656.5 66.7h0M657.6 70.5h0"/>
<path stroke="#89a8a5" stroke-width="1.9" stroke-linecap="round" d="M420.9 65.8h0M425.4 67.1h0M425.3 67.6h0M425.5 67.2h0M426.5 69.9h0M431.3 75.9h0M433 75.1h0M432.7 72.4h0M433.2 74.4h0M435.9 65.6h0M437 67.5h0M439.2 69.2h0M441.9 70.9h0M442.4 67.7h0M444.8 71.4h0M479.4 66.8h0M480.5 67.3h0M482.4 71.3h0M486 67.4h0M487.6 67.9h0M500.1 68.5h0M499.8 67.8h0M501.3 69.4h0M502.2 66.4h0M535.4 66.3h0M534.8 65.8h0M539.2 68.7h0M541.3 69.9h0M543.3 67.3h0M547.8 67.7h0M550.3 67.4h0M550.8 68.1h0M578.1 69.7h0M578.4 69.7h0M579.4 68.6h0M579.3 70.6h0M581.5 72.1h0M583.5 73.1h0M589.1 66.6h0M590.7 65.4h0M595.5 68.5h0M598.6 67.2h0M598.9 70.5h0M620 70.4h0M627.9 73h0M631.3 71.6h0M633.4 69.5h0M634.6 72.6h0M634.4 70.9h0M635.3 71.1h0M661.8 69.1h0M668.4 70.3h0M675.6 68.7h0M675.6 67.5h0M676.6 68.8h0M677.6 71.3h0M678.9 71h0M681.7 71.4h0M682.8 72.4h0"/>
<path stroke="#2d4760" stroke-width="1.9" stroke-linecap="round" d="M384.9 61.9h0M385.5 61.9h0M384.7 63h0M385.5 62.8h0M384.7 64h0M385.8 63.8h0M384.5 64.9h0M385.6 64.7h0M384.5 65.7h0M385.7 65.7h0M424 62.1h0M424.9 61.9h0M423.8 63.1h0M425 63.2h0M424 64.1h0M424.8 64.1h0M424 65.2h0M424.8 64.8h0M529.8 62.8h0M531 62.8h0M529.7 63.8h0M530.7 64.1h0M529.9 64.9h0M531.1 65h0M591.8 63h0M593.1 62.7h0M591.8 63.6h0M593 63.8h0M592.2 64.7h0M593.1 65h0M592 65.9h0M593.2 65.8h0M393.5 64.2h0M433.8 62.4h0M530.2 63.1h0M579.8 61.6h0M602.3 63.2h0"/>
<path stroke="#c43c48" stroke-width="1.9" stroke-linecap="round" d="M424.1 56.6h0M424.4 59.5h0M424.1 60.8h0M530.1 8.8h0M530.6 12h0M530.7 25.4h0M433.8 59.9h0M559.7 61h0"/>
<path d="M424.5 53.9L425.7 48.8L429.4 52.1Z" fill="#f00"/><path d="M427.5 50.4L429.4 48.3" stroke="#f00" stroke-width="0.65"/>
<path d="M580.2 59.5L581.4 54.4L585.1 57.7Z" fill="#f00"/><path d="M583.2 56L585.1 53.9" stroke="#f00" stroke-width="0.65"/>
<path d="M592.9 59.1L594.1 54L597.8 57.3Z" fill="#f00"/><path d="M595.9 55.6L597.8 53.5" stroke="#f00" stroke-width="0.65"/>
<path d="M531.1 6.1L532.3 1L536 4.3Z" fill="#000"/><path d="M534.1 2.6L536 0.5" stroke="#000" stroke-width="0.65"/>
<text transform="translate(0.2 121.1) scale(0.866 1)" font-size="12.1" fill="#111" stroke="#111" stroke-width="0.25">C</text>
<path d="M35.4 133.6V186.4" stroke="#808080" stroke-width="1"/>
<path d="M32 186.4H35.3" stroke="#555" stroke-width="0.9"/>
<text x="28.2" y="188.6" class="t" text-anchor="end">0</text>
<path d="M32 173.2H35.3" stroke="#555" stroke-width="0.9"/>
<text x="28.2" y="175.4" class="t" text-anchor="end">5</text>
<path d="M32 160H35.3" stroke="#555" stroke-width="0.9"/>
<text x="28.2" y="162.2" class="t" text-anchor="end">10</text>
<path d="M32 146.8H35.3" stroke="#555" stroke-width="0.9"/>
<text x="28.2" y="149" class="t" text-anchor="end">15</text>
<path d="M32 133.6H35.3" stroke="#555" stroke-width="0.9"/>
<text x="28.2" y="135.8" class="t" text-anchor="end">20</text>
<g transform="translate(9.6 0) rotate(-90)" class="yl"><text x="-172.7" y="-0.4" font-size="5.4">&#8722;</text><text x="-168.5" y="0">log</text><text x="-160" y="1.4" font-size="4.5">10</text><text x="-155.6" y="-0.4" font-size="9.2" fill="#777" stroke="none">(</text><text x="-153.1" y="0" font-style="italic">p</text><text x="-148.9" y="-0.4" font-size="9.2" fill="#777" stroke="none">)</text></g>
<path d="M35.6 188.7H335" stroke="#6a6a6a" stroke-width="1.1"/>
<path d="M35.8 188.7V192.2" stroke="#5a5a5a" stroke-width="0.9"/>
<path d="M53.4 188.7V192.2" stroke="#5a5a5a" stroke-width="0.9"/>
<path d="M85 188.7V192.2" stroke="#5a5a5a" stroke-width="0.9"/>
<path d="M114 188.7V192.2" stroke="#5a5a5a" stroke-width="0.9"/>
<path d="M142.6 188.7V192.2" stroke="#5a5a5a" stroke-width="0.9"/>
<path d="M169 188.7V192.2" stroke="#5a5a5a" stroke-width="0.9"/>
<path d="M193.5 188.7V192.2" stroke="#5a5a5a" stroke-width="0.9"/>
<path d="M218 188.7V192.2" stroke="#5a5a5a" stroke-width="0.9"/>
<path d="M241.4 188.7V192.2" stroke="#5a5a5a" stroke-width="0.9"/>
<path d="M261.6 188.7V192.2" stroke="#5a5a5a" stroke-width="0.9"/>
<path d="M280.4 188.7V192.2" stroke="#5a5a5a" stroke-width="0.9"/>
<path d="M301.4 188.7V192.2" stroke="#5a5a5a" stroke-width="0.9"/>
<path d="M323.6 188.7V192.2" stroke="#5a5a5a" stroke-width="0.9"/>
<text x="35.8" y="202.1" class="t" text-anchor="middle">Chr</text>
<text x="53.4" y="202.1" class="t" text-anchor="middle">1</text>
<text x="85" y="202.1" class="t" text-anchor="middle">2</text>
<text x="114" y="202.1" class="t" text-anchor="middle">3</text>
<text x="142.6" y="202.1" class="t" text-anchor="middle">4</text>
<text x="169" y="202.1" class="t" text-anchor="middle">5</text>
<text x="193.5" y="202.1" class="t" text-anchor="middle">6</text>
<text x="218" y="202.1" class="t" text-anchor="middle">7</text>
<text x="241.4" y="202.1" class="t" text-anchor="middle">8</text>
<text x="261.6" y="202.1" class="t" text-anchor="middle">9</text>
<text x="280.4" y="202.1" class="t" text-anchor="middle">10</text>
<text x="301.4" y="202.1" class="t" text-anchor="middle">11</text>
<text x="323.6" y="202.1" class="t" text-anchor="middle">12</text>
<path d="M35.8 169.4H335.4" stroke="#e3949a" stroke-width="0.7" stroke-dasharray="2.1 1.1"/>
<path d="M35.8 174.2H335.4" stroke="#a4adb6" stroke-width="0.7" stroke-dasharray="2.1 1.1"/>
<path fill="#d95f02" d="M35.5 187.2L35.5 181.4L36.1 181.4L36.1 182L36.7 182L36.7 181.7L37.3 181.7L37.3 182L37.9 182L37.9 181.4L38.5 181.4L38.5 182L39.1 182L39.1 182.7L39.7 182.7L39.7 182.1L40.3 182.1L40.3 182.5L40.9 182.5L40.9 182.6L41.5 182.6L41.5 182.1L42.1 182.1L42.1 182.7L42.7 182.7L42.7 181.3L43.3 181.3L43.3 183.5L43.9 183.5L43.9 183L44.5 183L44.5 182.5L45.1 182.5L45.1 182L45.7 182L45.7 182.8L46.3 182.8L46.3 181.5L46.9 181.5L46.9 181.9L47.5 181.9L47.5 182.4L48.1 182.4L48.1 182.5L48.7 182.5L48.7 181.8L49.3 181.8L49.3 183.5L49.9 183.5L49.9 183L50.5 183L50.5 182.6L51.1 182.6L51.1 182.5L51.7 182.5L51.7 181.9L52.3 181.9L52.3 181.2L52.9 181.2L52.9 182.4L53.5 182.4L53.5 183L54.1 183L54.1 183.4L54.7 183.4L54.7 184L55.3 184L55.3 183.6L55.9 183.6L55.9 183.8L56.5 183.8L56.5 184L57.1 184L57.1 183.2L57.7 183.2L57.7 186.1L58.3 186.1L58.3 185.6L58.9 185.6L58.9 183.4L59.5 183.4L59.5 183.5L60.1 183.5L60.1 184L60.7 184L60.7 184.3L61.3 184.3L61.3 184L61.9 184L61.9 183L62.5 183L62.5 182.6L63.1 182.6L63.1 181.4L63.7 181.4L63.7 181.2L64.3 181.2L64.3 182L64.9 182L64.9 182.7L65.5 182.7L65.5 181.9L66.1 181.9L66.1 182L66.7 182L66.7 183.6L67.3 183.6L67.3 183L67.9 183L67.9 181.9L68.5 181.9L68.5 181.6L69.1 181.6L69.1 182.8L69.7 182.8L69.7 183.6L70 183.6L70 187.2ZM98.8 187.2L98.8 181.9L99.4 181.9L99.4 181.7L100 181.7L100 181L100.6 181L100.6 182.1L101.2 182.1L101.2 182.1L101.8 182.1L101.8 182.2L102.4 182.2L102.4 182.9L103 182.9L103 181.8L103.6 181.8L103.6 180.7L104.2 180.7L104.2 181.1L104.8 181.1L104.8 182.4L105.4 182.4L105.4 181.6L106 181.6L106 181.6L106.6 181.6L106.6 180.8L107.2 180.8L107.2 181.9L107.8 181.9L107.8 180.6L108.4 180.6L108.4 181.2L109 181.2L109 180.4L109.6 180.4L109.6 181L110.2 181L110.2 181.1L110.8 181.1L110.8 181L111.4 181L111.4 182.1L112 182.1L112 180.9L112.6 180.9L112.6 179.5L113.2 179.5L113.2 182.2L113.8 182.2L113.8 182.4L114.4 182.4L114.4 183.4L115 183.4L115 184.6L115.6 184.6L115.6 184.1L116.2 184.1L116.2 184.2L116.8 184.2L116.8 185.6L117.4 185.6L117.4 185.8L118 185.8L118 185.2L118.6 185.2L118.6 184.1L119.2 184.1L119.2 183.3L119.8 183.3L119.8 183.9L120.4 183.9L120.4 183.1L121 183.1L121 183.6L121.6 183.6L121.6 183.4L122.2 183.4L122.2 182.7L122.8 182.7L122.8 183.5L123.4 183.5L123.4 183.4L124 183.4L124 183.8L124.6 183.8L124.6 184.1L125.2 184.1L125.2 183.1L125.8 183.1L125.8 183.5L126.4 183.5L126.4 182.7L127 182.7L127 182.3L127.6 182.3L127.6 181.9L127.7 181.9L127.7 187.2ZM156 187.2L156 180.5L156.6 180.5L156.6 181L157.2 181L157.2 180.8L157.8 180.8L157.8 180.8L158.4 180.8L158.4 181.2L159 181.2L159 182L159.6 182L159.6 181.1L160.2 181.1L160.2 181L160.8 181L160.8 181L161.4 181L161.4 180.7L162 180.7L162 180.6L162.6 180.6L162.6 179.9L163.2 179.9L163.2 180.6L163.8 180.6L163.8 180.8L164.4 180.8L164.4 180.9L165 180.9L165 180.9L165.6 180.9L165.6 181.9L166.2 181.9L166.2 182L166.8 182L166.8 181.6L167.4 181.6L167.4 181.3L168 181.3L168 180.9L168.6 180.9L168.6 180.3L169.2 180.3L169.2 180L169.8 180L169.8 181L170.4 181L170.4 181.7L171 181.7L171 180.9L171.6 180.9L171.6 181.2L172.2 181.2L172.2 181.4L172.8 181.4L172.8 180.8L173.4 180.8L173.4 181L174 181L174 180.7L174.6 180.7L174.6 180.6L175.2 180.6L175.2 181.7L175.8 181.7L175.8 181.3L176.4 181.3L176.4 181.7L177 181.7L177 181.2L177.6 181.2L177.6 180.6L178.2 180.6L178.2 181.9L178.8 181.9L178.8 180.2L179.4 180.2L179.4 181.4L180 181.4L180 179.7L180.2 179.7L180.2 187.2ZM205.1 187.2L205.1 182.1L205.7 182.1L205.7 183.5L206.3 183.5L206.3 179.1L206.9 179.1L206.9 179.9L207.5 179.9L207.5 185L208.1 185L208.1 184.4L208.7 184.4L208.7 184.9L209.3 184.9L209.3 182.9L209.9 182.9L209.9 181.2L210.5 181.2L210.5 179.9L211.1 179.9L211.1 182.6L211.7 182.6L211.7 183.3L212.3 183.3L212.3 184.5L212.9 184.5L212.9 183.2L213.5 183.2L213.5 184.1L214.1 184.1L214.1 186L214.7 186L214.7 184.6L215.3 184.6L215.3 182.2L215.9 182.2L215.9 185.3L216.5 185.3L216.5 182.9L217.1 182.9L217.1 183.7L217.7 183.7L217.7 182L218.3 182L218.3 181.1L218.9 181.1L218.9 180.9L219.5 180.9L219.5 180L220.1 180L220.1 184.2L220.7 184.2L220.7 178.5L221.3 178.5L221.3 185.4L221.9 185.4L221.9 181.3L222.5 181.3L222.5 184.8L223.1 184.8L223.1 180.7L223.7 180.7L223.7 184.1L224.3 184.1L224.3 180.8L224.9 180.8L224.9 179.5L225.5 179.5L225.5 181.8L226.1 181.8L226.1 182.2L226.7 182.2L226.7 182.1L227.3 182.1L227.3 182.5L227.9 182.5L227.9 185.5L228.5 185.5L228.5 184.1L229.1 184.1L229.1 187.2ZM251.9 187.2L251.9 183.4L252.5 183.4L252.5 185.5L253.1 185.5L253.1 186.4L253.7 186.4L253.7 185.4L254.3 185.4L254.3 181.7L254.9 181.7L254.9 183.3L255.5 183.3L255.5 181.7L256.1 181.7L256.1 180.1L256.7 180.1L256.7 180.4L257.3 180.4L257.3 181.4L257.9 181.4L257.9 181.9L258.5 181.9L258.5 184.6L259.1 184.6L259.1 183.8L259.7 183.8L259.7 182.2L260.3 182.2L260.3 181.3L260.9 181.3L260.9 183.4L261.5 183.4L261.5 184.9L262.1 184.9L262.1 183.7L262.7 183.7L262.7 181.3L263.3 181.3L263.3 182.8L263.9 182.8L263.9 182.4L264.5 182.4L264.5 183.6L265.1 183.6L265.1 182L265.7 182L265.7 179.4L266.3 179.4L266.3 181.8L266.9 181.8L266.9 184.8L267.5 184.8L267.5 180.9L268.1 180.9L268.1 180.6L268.7 180.6L268.7 178L269.3 178L269.3 181.5L269.9 181.5L269.9 185.1L270.1 185.1L270.1 187.2ZM288.8 187.2L288.8 181.5L289.4 181.5L289.4 182.1L290 182.1L290 183.6L290.6 183.6L290.6 183.6L291.2 183.6L291.2 183.3L291.8 183.3L291.8 183.1L292.4 183.1L292.4 183L293 183L293 182.8L293.6 182.8L293.6 181.1L294.2 181.1L294.2 180.4L294.8 180.4L294.8 179.5L295.4 179.5L295.4 179.8L296 179.8L296 178.6L296.6 178.6L296.6 180.2L297.2 180.2L297.2 180.3L297.8 180.3L297.8 180L298.4 180L298.4 178.1L299 178.1L299 178.6L299.6 178.6L299.6 178.8L300.2 178.8L300.2 179.1L300.8 179.1L300.8 180.4L301.4 180.4L301.4 181.3L302 181.3L302 180.9L302.6 180.9L302.6 181.9L303.2 181.9L303.2 183.2L303.8 183.2L303.8 181.7L304.4 181.7L304.4 181.8L305 181.8L305 182.9L305.6 182.9L305.6 183.3L306.2 183.3L306.2 182.1L306.8 182.1L306.8 182.6L307.4 182.6L307.4 182.5L308 182.5L308 181.6L308.6 181.6L308.6 183.3L309.2 183.3L309.2 183L309.8 183L309.8 183L310.4 183L310.4 183.7L311 183.7L311 183L311.6 183L311.6 182.4L312.1 182.4L312.1 187.2Z"/>
<path fill="#89a8a5" d="M70 187.2L70 181.2L70.6 181.2L70.6 181.2L71.2 181.2L71.2 181L71.8 181L71.8 180.1L72.4 180.1L72.4 179.7L73 179.7L73 179.7L73.6 179.7L73.6 180.4L74.2 180.4L74.2 181L74.8 181L74.8 179.7L75.4 179.7L75.4 180L76 180L76 181.6L76.6 181.6L76.6 181L77.2 181L77.2 181L77.8 181L77.8 180.8L78.4 180.8L78.4 181.6L79 181.6L79 180.7L79.6 180.7L79.6 181L80.2 181L80.2 182.5L80.8 182.5L80.8 181.7L81.4 181.7L81.4 181.2L82 181.2L82 180.8L82.6 180.8L82.6 180.6L83.2 180.6L83.2 180.7L83.8 180.7L83.8 179.5L84.4 179.5L84.4 180.9L85 180.9L85 181.3L85.6 181.3L85.6 183.1L86.2 183.1L86.2 183.1L86.8 183.1L86.8 181.9L87.4 181.9L87.4 183L88 183L88 183L88.6 183L88.6 184.2L89.2 184.2L89.2 182.3L89.8 182.3L89.8 182.3L90.4 182.3L90.4 182L91 182L91 180.8L91.6 180.8L91.6 181.9L92.2 181.9L92.2 181.3L92.8 181.3L92.8 181L93.4 181L93.4 182.6L94 182.6L94 181.9L94.6 181.9L94.6 181.8L95.2 181.8L95.2 182.2L95.8 182.2L95.8 180.8L96.4 180.8L96.4 181.5L97 181.5L97 180.3L97.6 180.3L97.6 180.3L98.2 180.3L98.2 179.4L98.8 179.4L98.8 187.2ZM127.7 187.2L127.7 184L128.3 184L128.3 185.6L128.9 185.6L128.9 185.4L129.5 185.4L129.5 182.4L130.1 182.4L130.1 179.7L130.7 179.7L130.7 178.3L131.3 178.3L131.3 176.1L131.9 176.1L131.9 179.8L132.5 179.8L132.5 180.7L133.1 180.7L133.1 181.2L133.7 181.2L133.7 181.4L134.3 181.4L134.3 181.6L134.9 181.6L134.9 182.3L135.5 182.3L135.5 179.9L136.1 179.9L136.1 179.6L136.7 179.6L136.7 181.2L137.3 181.2L137.3 176.7L137.9 176.7L137.9 176L138.5 176L138.5 178.9L139.1 178.9L139.1 183.3L139.7 183.3L139.7 181.7L140.3 181.7L140.3 182.1L140.9 182.1L140.9 182.7L141.5 182.7L141.5 181.7L142.1 181.7L142.1 179.6L142.7 179.6L142.7 181.3L143.3 181.3L143.3 183.5L143.9 183.5L143.9 182.8L144.5 182.8L144.5 183.7L145.1 183.7L145.1 180.9L145.7 180.9L145.7 184.2L146.3 184.2L146.3 184.5L146.9 184.5L146.9 184.3L147.5 184.3L147.5 183.2L148.1 183.2L148.1 176.5L148.7 176.5L148.7 180.9L149.3 180.9L149.3 177.5L149.9 177.5L149.9 178.6L150.5 178.6L150.5 181L151.1 181L151.1 180.5L151.7 180.5L151.7 182.3L152.3 182.3L152.3 182L152.9 182L152.9 186.1L153.5 186.1L153.5 186.4L154.1 186.4L154.1 183.4L154.7 183.4L154.7 182.3L155.3 182.3L155.3 182.9L155.9 182.9L155.9 181.6L156 181.6L156 187.2ZM180.2 187.2L180.2 181L180.8 181L180.8 182.4L181.4 182.4L181.4 181.8L182 181.8L182 182.4L182.6 182.4L182.6 183.5L183.2 183.5L183.2 182.3L183.8 182.3L183.8 184.5L184.4 184.5L184.4 185L185 185L185 181.9L185.6 181.9L185.6 182.7L186.2 182.7L186.2 180.9L186.8 180.9L186.8 181.2L187.4 181.2L187.4 180.1L188 180.1L188 179.5L188.6 179.5L188.6 181.1L189.2 181.1L189.2 180.5L189.8 180.5L189.8 180.3L190.4 180.3L190.4 180.9L191 180.9L191 181L191.6 181L191.6 182L192.2 182L192.2 182.5L192.8 182.5L192.8 182.5L193.4 182.5L193.4 181.5L194 181.5L194 181.4L194.6 181.4L194.6 181.5L195.2 181.5L195.2 180.4L195.8 180.4L195.8 180.6L196.4 180.6L196.4 180L197 180L197 179.8L197.6 179.8L197.6 178.4L198.2 178.4L198.2 179.9L198.8 179.9L198.8 180L199.4 180L199.4 180.4L200 180.4L200 181.8L200.6 181.8L200.6 181.1L201.2 181.1L201.2 179.5L201.8 179.5L201.8 180.9L202.4 180.9L202.4 179.2L203 179.2L203 179.2L203.6 179.2L203.6 178.9L204.2 178.9L204.2 179.2L204.8 179.2L204.8 178.4L205.1 178.4L205.1 187.2ZM229.1 187.2L229.1 183.4L229.7 183.4L229.7 187L230.3 187L230.3 182.6L230.9 182.6L230.9 185.4L231.5 185.4L231.5 184.1L232.1 184.1L232.1 184.4L232.7 184.4L232.7 180.7L233.3 180.7L233.3 181.3L233.9 181.3L233.9 178.4L234.5 178.4L234.5 182.4L235.1 182.4L235.1 182.6L235.7 182.6L235.7 180.8L236.3 180.8L236.3 180.2L236.9 180.2L236.9 184.6L237.5 184.6L237.5 185.4L238.1 185.4L238.1 182.5L238.7 182.5L238.7 183.7L239.3 183.7L239.3 183.4L239.9 183.4L239.9 187.6L240.5 187.6L240.5 182.3L241.1 182.3L241.1 184L241.7 184L241.7 186.3L242.3 186.3L242.3 184.2L242.9 184.2L242.9 183.3L243.5 183.3L243.5 180.4L244.1 180.4L244.1 183.1L244.7 183.1L244.7 182.8L245.3 182.8L245.3 181.4L245.9 181.4L245.9 182.4L246.5 182.4L246.5 178.5L247.1 178.5L247.1 179.4L247.7 179.4L247.7 182.4L248.3 182.4L248.3 183.9L248.9 183.9L248.9 182.8L249.5 182.8L249.5 182.3L250.1 182.3L250.1 182.2L250.7 182.2L250.7 183.8L251.3 183.8L251.3 183.6L251.9 183.6L251.9 187.2ZM270.1 187.2L270.1 179.4L270.7 179.4L270.7 181L271.3 181L271.3 182.2L271.9 182.2L271.9 182.6L272.5 182.6L272.5 182.1L273.1 182.1L273.1 185L273.7 185L273.7 180.2L274.3 180.2L274.3 183.4L274.9 183.4L274.9 183.4L275.5 183.4L275.5 180.8L276.1 180.8L276.1 180.5L276.7 180.5L276.7 180.3L277.3 180.3L277.3 180.7L277.9 180.7L277.9 184.6L278.5 184.6L278.5 182L279.1 182L279.1 178.9L279.7 178.9L279.7 180.8L280.3 180.8L280.3 183.5L280.9 183.5L280.9 183.1L281.5 183.1L281.5 185.2L282.1 185.2L282.1 186.8L282.7 186.8L282.7 186.8L283.3 186.8L283.3 186.4L283.9 186.4L283.9 184.9L284.5 184.9L284.5 184.8L285.1 184.8L285.1 184.2L285.7 184.2L285.7 183.5L286.3 183.5L286.3 187.1L286.9 187.1L286.9 183.5L287.5 183.5L287.5 180.2L288.1 180.2L288.1 181L288.7 181L288.7 182.8L288.8 182.8L288.8 187.2ZM312.1 187.2L312.1 181.6L312.7 181.6L312.7 181.9L313.3 181.9L313.3 182L313.9 182L313.9 183.5L314.5 183.5L314.5 182.7L315.1 182.7L315.1 182.9L315.7 182.9L315.7 183.9L316.3 183.9L316.3 181.8L316.9 181.8L316.9 182.9L317.5 182.9L317.5 181.6L318.1 181.6L318.1 181L318.7 181L318.7 183.2L319.3 183.2L319.3 183.1L319.9 183.1L319.9 181.7L320.5 181.7L320.5 180.2L321.1 180.2L321.1 182.8L321.7 182.8L321.7 181.3L322.3 181.3L322.3 183L322.9 183L322.9 182.5L323.5 182.5L323.5 181.1L324.1 181.1L324.1 181.5L324.7 181.5L324.7 181.7L325.3 181.7L325.3 180L325.9 180L325.9 180.5L326.5 180.5L326.5 181.3L327.1 181.3L327.1 180.3L327.7 180.3L327.7 181L328.3 181L328.3 180.7L328.9 180.7L328.9 181.8L329.5 181.8L329.5 181.4L330.1 181.4L330.1 180.1L330.7 180.1L330.7 181L331.3 181L331.3 180.4L331.9 180.4L331.9 181.1L332.5 181.1L332.5 180.3L333.1 180.3L333.1 181.3L333.7 181.3L333.7 180.7L334.3 180.7L334.3 182.8L334.9 182.8L334.9 182.7L335.5 182.7L335.5 183.1L335.7 183.1L335.7 187.2Z"/>
<path stroke="#d95f02" stroke-width="1.9" stroke-linecap="round" d="M36.5 180.4h0M36.5 176.9h0M36.5 181.4h0M36.5 179.6h0M36.5 181.6h0M36.5 181.4h0M37.3 181.6h0M37.2 179.3h0M37.2 180.6h0M37.1 180.9h0M37.9 181.1h0M37.8 177.6h0M37.7 180h0M37.7 180.6h0M38 180.7h0M38.2 180h0M38.3 179.6h0M38.3 179.7h0M38.3 179.9h0M38.2 178.2h0M39 180h0M38.6 179.8h0M39 179.9h0M38.8 182h0M39.6 181.9h0M39.4 179.6h0M39.1 177.9h0M39.3 180.4h0M39.3 181.9h0M39.3 180.8h0M39.8 175.9h0M40.1 181.7h0M40.3 181.6h0M40 178.7h0M40.2 181.6h0M40.3 180.8h0M40.1 182h0M40.7 182.3h0M40.7 181.9h0M40.8 181.7h0M40.5 181.8h0M40.7 182h0M41.5 181.3h0M41.3 182.3h0M41.3 179.1h0M41.2 182h0M41.7 181.9h0M41.7 179.9h0M41.9 180.6h0M42.6 180.6h0M42.6 181.6h0M42.7 180.7h0M42.7 181.2h0M42.5 178.4h0M42.8 180.3h0M43.2 179.2h0M43.7 183.3h0M43.5 183h0M43.8 183.2h0M43.4 180.1h0M43.4 183.5h0M44.2 182.9h0M44.1 182.3h0M44.5 180.9h0M44 179.7h0M44.1 182.8h0M44.4 178h0M44.7 181.6h0M44.8 178.6h0M44.6 182h0M44.5 182.3h0M45 180.9h0M44.8 181.1h0M45.1 181.9h0M45.5 181.8h0M45.3 177.7h0M45.4 178h0M45.8 179.1h0M46 182.2h0M46.3 180.9h0M46.1 177.5h0M46 182.6h0M46.4 180h0M46.8 180.8h0M47.1 181.4h0M47.1 179.6h0M47.5 178.9h0M47.7 181h0M47.7 180.8h0M48.1 175.5h0M48 181.5h0M48.7 181.2h0M48.6 177.3h0M48.1 182h0M48.3 180.4h0M48.2 181.8h0M49.1 179.1h0M48.9 180.5h0M49.2 181h0M49.3 181.5h0M49.2 181.6h0M49 177.1h0M48.9 180.6h0M48.7 180.7h0M48.8 179.8h0M49.8 183.1h0M49.5 179.4h0M49.4 178.4h0M49.6 183.3h0M49.9 183.1h0M49.9 182.8h0M49.4 182.8h0M50.1 182.3h0M50.1 181.9h0M50.2 181h0M50.3 178.1h0M50.5 180.3h0M50.6 182.3h0M50.9 181.3h0M51.6 181.6h0M51.6 178.7h0M51.2 181.5h0M51.5 182.3h0M51.7 178.6h0M52.3 181.9h0M51.8 181.8h0M52.1 181.6h0M52.2 177.1h0M52.1 176.5h0M52.2 178.4h0M52.4 181.1h0M52.8 181.1h0M52.7 179.7h0M52.7 180.5h0M53.3 181.9h0M53.1 182h0M53 181.6h0M53.8 179.1h0M53.8 181.8h0M54.1 178.5h0M53.8 182.5h0M54.1 181.2h0M54.4 182.8h0M54.1 178.9h0M54.4 181.8h0M54.1 181.2h0M55.1 182.3h0M55.6 183.5h0M55.8 182.3h0M55.6 182.5h0M55.8 181.6h0M55.5 183.4h0M55.7 182.3h0M55.7 181.1h0M56.4 183.5h0M56.3 183.3h0M56.4 183.6h0M56 181.9h0M56.8 179.6h0M57 183h0M56.7 183.4h0M57 182.4h0M56.7 183.3h0M57.1 182.7h0M57.3 182.4h0M57.1 181.1h0M57.5 179.8h0M58 185.2h0M58.3 184h0M58 185.6h0M58 185.3h0M58.8 185h0M58.5 183.8h0M58.8 184.8h0M58.6 183.9h0M58.6 184.4h0M58.3 185.4h0M59.4 179h0M59.3 183h0M59 181.1h0M59.5 183.3h0M59.5 181.7h0M60 181.9h0M59.9 182.5h0M59.8 183.5h0M59.6 183.4h0M60.5 182.2h0M60.6 182h0M60.3 180.6h0M60.3 183.7h0M60.5 182.8h0M60.5 179.3h0M60.1 184h0M60.4 182h0M61 181.5h0M61 179h0M61.2 184.1h0M61.1 183.5h0M61.4 181.4h0M61.5 181.7h0M61.5 176.6h0M61.4 183.7h0M61.9 183.7h0M61.5 183.3h0M62.1 180.1h0M62.2 178.7h0M62.8 182.4h0M62.6 182.2h0M63.2 179h0M64.3 180.9h0M63.8 176.5h0M64.3 180.7h0M63.9 180.3h0M64.7 180.7h0M64.8 181.9h0M64.7 180.3h0M64.5 178.4h0M64.5 181.3h0M64.7 178.7h0M64.4 177.7h0M64.8 182h0M64.8 180.8h0M64.6 181.7h0M64.6 181.6h0M65.3 182.2h0M65.5 180.5h0M65.2 179.5h0M65.4 182.5h0M65.3 182.2h0M64.9 181.1h0M65.9 177.8h0M65.7 179.2h0M66.1 181.5h0M65.9 180.5h0M65.8 180.7h0M66.3 180h0M66.3 179.4h0M66.5 180.9h0M67.3 180.6h0M66.8 183.5h0M67.3 182.2h0M67 183h0M67.1 175.4h0M67.7 182.2h0M68.4 181.5h0M67.9 180.9h0M68.8 180.2h0M69 181.3h0M68.6 178.3h0M69 181.5h0M69 182.5h0M69 182.1h0M69 176.8h0M69 180.3h0M69 182.1h0M69 181.4h0M69 179.5h0M69 183.4h0M69 182.3h0M69 182.4h0M69 181.8h0M99.8 179.1h0M99.8 181.8h0M100 180.8h0M99.8 177.7h0M99.8 179.3h0M99.9 178.8h0M99.8 180.9h0M99.8 180.5h0M100 181.5h0M100.1 181h0M100.5 179.7h0M100 180.8h0M100.1 180.2h0M100.2 177h0M100.7 180.6h0M100.7 180.4h0M101.1 177.5h0M101.4 182h0M101.5 180.7h0M102.3 181.4h0M102 180.9h0M102.7 181.9h0M102.6 181.5h0M102.9 182.6h0M102.7 180.9h0M103.5 181.2h0M103.1 180.1h0M103.5 180.8h0M103.4 179.2h0M103.1 176.8h0M103.6 179.6h0M103.9 180.1h0M103.7 180.6h0M103.9 179.9h0M104 179h0M104.3 177h0M104.4 180.8h0M104.7 177.6h0M105 178.9h0M105.1 179.6h0M105 179.2h0M105 181.1h0M105.3 182.1h0M104.9 179h0M105 179.1h0M105.9 179.2h0M105.6 181.6h0M105.6 178.4h0M106 179.2h0M105.5 179h0M105.8 179.9h0M106.5 178h0M106.3 174.7h0M106.2 180.5h0M106.6 178.9h0M106.3 181.4h0M106.2 178.9h0M107.1 179.7h0M106.9 180.7h0M107.1 179.3h0M106.8 180.6h0M107.4 181.2h0M107.2 181h0M107.2 181.3h0M108.4 177h0M108.3 179.8h0M108.3 180.6h0M108.6 181.1h0M108.9 180.5h0M108.9 176.9h0M108.8 180.6h0M109.5 175.9h0M109.2 177.4h0M109.4 178.5h0M109 175.9h0M110.1 176.7h0M109.8 180.7h0M109.7 177.5h0M109.7 180.5h0M110.1 178.3h0M110.3 180.8h0M110.3 179.8h0M110.3 176.7h0M110.5 179.3h0M110.4 179.2h0M111 180h0M111 178.9h0M111.1 180.7h0M111.1 180.1h0M111.2 180.7h0M111.3 178.3h0M111.1 180.3h0M111.3 179.4h0M110.9 179.9h0M111.7 177.1h0M111.6 182h0M112.2 179.3h0M112.3 178.6h0M112.5 179.5h0M112.1 180.7h0M112.1 179.7h0M112.3 180.8h0M112.6 180.3h0M112.5 178.7h0M112.6 178.8h0M112.8 177h0M113.2 180.1h0M114 181.6h0M113.9 182.1h0M114.4 183.4h0M115 183.1h0M114.5 183h0M114.8 182.7h0M114.7 183.3h0M114.7 183.4h0M115.3 183.3h0M115.9 183h0M115.6 180.4h0M115.8 183.7h0M116.1 183.7h0M115.8 184h0M116.5 183.8h0M116.6 183.9h0M116.3 184h0M116.3 182.6h0M116.4 180.7h0M117.2 183.6h0M116.8 183.7h0M117.3 184.8h0M117.8 185.6h0M117.9 185h0M117.4 185.7h0M117.4 185.4h0M118.5 184.7h0M118.4 184.4h0M118.5 179.3h0M118.7 183.5h0M119 180.1h0M119.2 181.5h0M119.1 178.9h0M119 184h0M119.6 183h0M120.3 183.5h0M120.2 180.2h0M119.9 180.2h0M120 183.8h0M120.6 181.5h0M120.4 182.3h0M120.6 181.9h0M120.5 182.8h0M120.9 180.5h0M120.6 181.4h0M121.2 182.6h0M121.3 181h0M122 180.1h0M122 181.9h0M121.9 178.7h0M122.1 180.2h0M122.7 182.3h0M122.8 181.9h0M123.1 181.5h0M123.3 182.9h0M123 181.7h0M123.2 181.6h0M123.2 182.8h0M123.5 181.8h0M123.9 181.1h0M123.8 180.7h0M124 183h0M123.6 180h0M123.7 183.1h0M123.9 182.3h0M124.1 183.4h0M124.1 182.5h0M124.5 178.8h0M125.1 183.8h0M124.8 183.7h0M125 183.3h0M125.7 182.6h0M125.4 181.9h0M125.4 181.6h0M125.7 182.1h0M126 182.2h0M125.8 180.1h0M126 179.7h0M126.4 182.2h0M126.7 182.1h0M126.6 180.6h0M126.7 182.1h0M126.8 180.4h0M126.8 181.2h0M126.8 181.2h0M156.9 179.3h0M156.9 179.4h0M156.9 176.8h0M156.9 175.8h0M156.9 179.4h0M156.9 180.1h0M156.9 179.6h0M156.9 177.7h0M156.9 180.4h0M156.9 177.5h0M157 180.8h0M157 177.8h0M156.9 179.8h0M157.1 177.3h0M156.9 179.6h0M156.9 180.1h0M157.2 177.7h0M156.9 179.6h0M156.9 177.1h0M156.9 180.6h0M156.9 180.8h0M157 179.1h0M157.4 180.3h0M157.8 180.6h0M157.5 179.9h0M157.3 179.9h0M157.8 180.8h0M157.4 180.7h0M157.9 177.4h0M158 176.1h0M157.9 178.5h0M158.3 177.6h0M158.3 179.5h0M157.9 179.6h0M158.3 180h0M158.9 181.2h0M158.9 178.7h0M158.7 180h0M158.7 175.5h0M158.6 180.8h0M158.8 179.5h0M158.9 181.2h0M159.3 180.7h0M159.6 178.8h0M159.4 180.4h0M159.2 180.8h0M159.3 181.7h0M159.1 181h0M159.4 178.3h0M159.4 181.6h0M159.2 180.9h0M160 178.9h0M159.7 180.6h0M160.1 177.2h0M160 181h0M159.7 177.4h0M159.9 180.4h0M159.9 180.1h0M160.1 180.5h0M159.9 180h0M160.5 180.4h0M160.6 180.6h0M160.5 180.3h0M160.5 180.6h0M160.4 176.6h0M160.7 178.8h0M160.7 179.7h0M160.3 176.8h0M160.6 176.6h0M160.4 180.8h0M160.3 179.6h0M160.3 177.8h0M160.2 180.6h0M160.6 178.2h0M161.2 180.4h0M161 179.4h0M161.2 179.7h0M161.3 180.2h0M161.2 180.3h0M161 180.7h0M161.1 180.2h0M161.7 177.3h0M161.8 180.7h0M161.6 179.3h0M161.4 180.7h0M161.7 178.6h0M161.9 178.4h0M161.4 179.7h0M161.6 180.1h0M162.3 180.5h0M162.5 179.6h0M162.2 180.4h0M162.5 179.8h0M162.3 180.2h0M162.4 174.4h0M162.2 178.1h0M162.5 178.1h0M162.4 180.3h0M162.4 180.3h0M162.3 179.9h0M162.7 178.9h0M162.7 179.5h0M162.8 178.3h0M162.7 177.1h0M163.2 179.1h0M163.1 179.8h0M163.1 177.5h0M162.9 178.8h0M162.7 178.7h0M162.9 179.7h0M163.6 179.7h0M163.8 176h0M163.3 180.3h0M163.8 178.9h0M163.5 179.3h0M163.6 180.5h0M163.3 180.6h0M163.3 179.8h0M163.6 179.4h0M163.9 180.7h0M164.2 180.1h0M164.3 180h0M164.4 180.6h0M164.4 178.8h0M164.2 179h0M164.2 179.6h0M164.3 180.4h0M164.4 180.3h0M164.6 180.4h0M164.9 180.1h0M164.9 180.1h0M164.9 179.9h0M164.7 178.2h0M164.5 180h0M164.6 178.3h0M164.8 180.3h0M164.6 180.7h0M164.5 179.9h0M165 180.3h0M164.9 180.5h0M164.5 179.3h0M164.7 177.6h0M164.6 178.2h0M165.3 178.8h0M165.4 180.5h0M165.4 180.1h0M165.1 178.1h0M165.4 179.7h0M165.3 180.4h0M165.7 180.8h0M166 181.4h0M165.7 180h0M165.7 180.3h0M165.7 181.1h0M166.1 180.4h0M165.9 181.7h0M166.1 181.7h0M165.8 181.6h0M165.9 181.6h0M166.4 181.6h0M166.7 180.8h0M166.3 181.5h0M166.5 180h0M166.5 181.7h0M166.7 182h0M166.4 180.2h0M166.2 179.7h0M166.5 180.9h0M166.7 182h0M166.6 181.3h0M166.9 181.2h0M167.4 180.9h0M167.4 178.1h0M167.1 180.8h0M166.9 181.3h0M167.3 180.5h0M166.9 180.5h0M166.9 181.2h0M167.2 180.4h0M167.7 180.2h0M167.7 178.9h0M167.6 180.9h0M167.5 180.6h0M167.9 179.8h0M167.7 180.1h0M167.6 181h0M167.7 180.3h0M167.8 179.7h0M167.5 179.3h0M167.5 179.9h0M167.8 181.2h0M167.9 179.8h0M168 179.6h0M168.3 180h0M168.1 179.3h0M168 179.6h0M168.5 180.3h0M168.1 180.5h0M168.2 178.4h0M168.5 180.4h0M168.4 180.8h0M169.2 178.6h0M168.6 179.4h0M169 177.5h0M168.9 180.3h0M169 179h0M168.8 179.9h0M169.4 179.1h0M169.4 178.8h0M169.3 179.6h0M169.3 180h0M169.2 179.3h0M170 180.9h0M170.1 177.9h0M170 180.6h0M169.8 179.8h0M169.9 180.4h0M170.3 180.6h0M170.2 180.8h0M170.1 180h0M170.5 180.2h0M170.4 179.2h0M170.5 180.4h0M170.4 180.2h0M170.5 180.1h0M170.8 181.1h0M170.6 181.6h0M170.6 180.9h0M170.5 181.5h0M171.4 180.2h0M171.5 178.8h0M171.4 179.8h0M171.1 179h0M171.5 180.7h0M171.6 178.4h0M171 180h0M171.2 180.5h0M171.4 180.2h0M171.4 178.1h0M172.1 180.6h0M172 181.1h0M172 180.4h0M172.2 177.1h0M172.2 179.3h0M171.9 181.1h0M172.1 179.6h0M172 180.5h0M171.8 178.6h0M172.2 181h0M171.7 180.1h0M172 181.1h0M171.8 177.4h0M171.8 180.1h0M171.7 180.2h0M172.3 179.3h0M172.5 177.9h0M172.5 180.8h0M172.3 179.6h0M172.6 180.6h0M172.2 174.6h0M172.7 177.8h0M172.3 181.1h0M172.3 179.5h0M172.5 179.9h0M172.2 174.3h0M172.4 180.5h0M172.4 180h0M173 180.2h0M173.2 180h0M173.3 180.8h0M173.1 179.5h0M172.9 177.4h0M172.9 180.7h0M173.2 180.3h0M173.3 180.8h0M173.3 180.3h0M173.1 180.7h0M173.1 174.6h0M173.3 179.1h0M172.9 180.6h0M173.4 176.5h0M173.8 179.8h0M173.9 179.9h0M173.6 180.5h0M173.5 180.3h0M173.7 179.6h0M173.4 179.5h0M173.9 180.1h0M173.5 179.1h0M173.6 180.1h0M173.7 180.9h0M173.4 180.1h0M173.6 178.5h0M174.1 180.3h0M174 180h0M174.4 179.9h0M174.4 179.6h0M174.5 180.6h0M174.2 180.3h0M174.1 179.8h0M174.4 179.7h0M174.6 179.8h0M174.2 180.3h0M174.3 178.6h0M174.1 178.3h0M174.3 179.2h0M174.3 179.2h0M174.2 179.7h0M174.4 179.6h0M174.4 180.4h0M174.2 178.1h0M174.8 180.3h0M175.1 179.6h0M175 179.5h0M174.6 175.7h0M175.1 180.5h0M174.7 179.8h0M175.1 176.3h0M175 177.4h0M175 180.4h0M175.1 177.8h0M174.8 177.8h0M175.6 178.3h0M175.3 180.3h0M175.5 180.9h0M175.6 180.5h0M175.6 175.9h0M175.3 180.5h0M175.4 180.7h0M175.2 178h0M175.6 179.3h0M175.4 178.2h0M175.2 178.7h0M175.3 181.5h0M176.4 178h0M176.1 180.8h0M176.1 180.1h0M176.2 179.5h0M175.9 181.3h0M176.9 180.1h0M176.8 180.8h0M176.6 178.5h0M177 181.2h0M176.4 179h0M176.5 181.5h0M177 179.9h0M176.4 180.6h0M176.6 180.4h0M177 180.4h0M177.5 181.1h0M177.1 180.2h0M177.5 178.9h0M177.4 180.8h0M177.4 179.7h0M177.1 179.8h0M177.3 180h0M177.4 179.4h0M177.2 180.1h0M177.5 180.8h0M177.1 179.8h0M177.3 179.6h0M177.6 180.3h0M177.4 180.7h0M178.2 179.8h0M177.7 177.3h0M178.1 179.9h0M177.7 177.1h0M177.7 180.6h0M178.6 180.6h0M178.6 178.2h0M178.7 179.5h0M178.5 176.8h0M178.5 180.9h0M178.7 181.6h0M178.5 180h0M178.5 178.3h0M178.8 181.6h0M178.6 180.6h0M178.8 180.9h0M178.8 181.6h0M179.2 180h0M179.2 179.3h0M179.2 177.8h0M178.9 179.4h0M178.9 179.7h0M178.8 179.3h0M179.2 178.8h0M179.2 176.8h0M179.2 181.3h0M179.2 180.6h0M179.2 180.1h0M179.2 181.4h0M179.2 181.3h0M179.2 180h0M179.2 180.2h0M179.2 179.9h0M179.2 179.7h0M179.2 178h0M179.2 178.2h0M179.2 179.1h0M179.2 176.6h0M179.2 178.6h0M206 179.8h0M206 181.7h0M206 180.5h0M206 180.5h0M206 182h0M206 181.1h0M206 181.9h0M206.2 182h0M206 181.3h0M206 181h0M206.8 178.4h0M206.6 178.4h0M206.5 178.8h0M206.4 179h0M207.4 178.5h0M206.9 178h0M207.4 179h0M207.5 179.8h0M207.4 178.5h0M207.9 184.9h0M208.1 183h0M207.8 183h0M207.8 184.9h0M208 183.8h0M207.8 182.8h0M208.6 184.2h0M208.6 184h0M208.5 183.9h0M208.3 183.7h0M208.2 183.1h0M208.1 184.1h0M208.9 183.9h0M209.3 184.3h0M208.8 182.5h0M209.1 182.4h0M209 181.3h0M209.4 182.3h0M209.8 182.5h0M209.6 182.3h0M209.4 182.7h0M209.7 180.3h0M209.4 178.4h0M210.2 180.9h0M210.1 181.1h0M210.2 179.6h0M210.1 181h0M210.5 178.1h0M210.2 178.9h0M210.8 174.8h0M210.9 178.9h0M210.7 179h0M210.9 178.2h0M211 179.4h0M211.4 182h0M211.7 182.3h0M211.2 181.8h0M211.4 180.6h0M211.2 182.4h0M212.3 182.5h0M211.9 183.2h0M211.9 179.8h0M212.1 181.1h0M212 183.3h0M212.7 181.6h0M212.4 181.2h0M212.4 183.9h0M212.6 183.1h0M212.4 184h0M212.7 183.9h0M213.9 180.5h0M213.7 182.6h0M214 180.3h0M213.8 183.2h0M214.6 185.2h0M214.4 185.9h0M214.2 185.1h0M214.9 184.6h0M215.1 184.2h0M215.3 182.2h0M215.1 183.1h0M215.6 178.6h0M215.4 176.2h0M215.6 177.5h0M215.6 181.1h0M215.8 181.2h0M216.2 184.6h0M216.5 184.8h0M216 181.1h0M217 182.3h0M216.5 176.1h0M217 180.2h0M216.7 179.9h0M216.6 179h0M217.1 180.1h0M217 182.7h0M217.4 182.8h0M217.6 183.3h0M218.1 179.1h0M218 180.1h0M217.8 180.4h0M217.9 180.6h0M218.2 181.1h0M217.8 181.5h0M218.9 178.3h0M218.3 180.5h0M218.6 180.2h0M218.6 178.3h0M219.2 180.3h0M219.2 179.7h0M219.5 180.4h0M219 180.8h0M219.9 178.5h0M219.7 180h0M219.7 179h0M219.5 180h0M220.6 180.2h0M220.2 183.6h0M220.6 183.1h0M220.9 177.6h0M220.7 177.9h0M221.6 184.3h0M221.8 185.4h0M221.8 185.3h0M221.8 184h0M221.3 181h0M222.3 180.5h0M222.1 180h0M222 178.9h0M222.1 178.8h0M222.7 183.5h0M223.3 180.3h0M223.6 179.7h0M223.6 180.1h0M223.4 178h0M223.3 177.6h0M223.2 179.9h0M223.4 180.5h0M224.1 181h0M224 183.7h0M223.7 181.2h0M224.2 180.8h0M224 180.9h0M223.9 183.4h0M224.4 176.2h0M224.5 175.8h0M224.4 180.8h0M224.4 179.3h0M224.5 174.9h0M225.1 178.3h0M225.1 179.3h0M224.9 176.4h0M225.2 177.6h0M225.1 176.3h0M225.4 179.5h0M225.9 179.7h0M225.6 181.5h0M226 181.4h0M226.3 178.2h0M226.3 181.9h0M226.2 181.1h0M226.6 181.9h0M226.8 181.9h0M227 181.6h0M226.8 182h0M227.5 181.6h0M227.4 182.4h0M227.6 182.1h0M228.2 184.6h0M228.1 182.1h0M228.2 183.7h0M228.2 182.7h0M228.2 184h0M228.2 178.1h0M228.2 181.1h0M228.2 179h0M228.2 182.9h0M252.8 182.4h0M252.8 181h0M252.8 181.4h0M252.8 183.1h0M252.8 182.1h0M252.8 184.7h0M253 183.3h0M252.8 184.1h0M253 184.2h0M253.6 186.1h0M253.5 185.1h0M253.5 185.9h0M253.9 183.4h0M254 185.1h0M254.7 181.6h0M254.7 177.1h0M254.9 182.9h0M255.2 182.2h0M255.3 183.3h0M255.2 180.3h0M255.4 182.6h0M255.1 182.7h0M255.3 181.4h0M255.6 181.5h0M255.5 179.7h0M255.6 181.6h0M256.2 178.9h0M256.2 177.1h0M256.4 179.5h0M256.5 179.3h0M256.6 180h0M256.2 179.6h0M256.1 179.8h0M257 179.6h0M256.8 178.2h0M257.7 180.5h0M257.5 177.5h0M257.6 178.3h0M257.9 179.3h0M257.8 177.7h0M258.4 181.2h0M258.3 181.1h0M258.4 180.1h0M259.3 182.4h0M259.4 177.7h0M259.3 183.1h0M260.1 180h0M259.8 182h0M260.3 181.3h0M260.2 182h0M260.2 180.7h0M259.7 176.3h0M260.9 181.1h0M260.7 180.5h0M260.5 180.9h0M260.7 174.7h0M260.6 180.3h0M261.3 182.4h0M261.4 181.4h0M261.8 183.7h0M261.6 182.7h0M262.3 183.3h0M262.3 181.1h0M263 179h0M263.3 180.9h0M263 180.2h0M262.7 178.2h0M263.5 181.5h0M263.4 180.8h0M263.3 179.5h0M263.6 182.2h0M264.1 180.3h0M264 180.9h0M264 180h0M265 182.8h0M264.8 181.6h0M264.6 181.5h0M264.8 182.7h0M264.9 183.1h0M264.5 182h0M265.2 181.3h0M265.5 181.1h0M265.1 181.4h0M265.6 180h0M265.5 179.3h0M266.2 179.3h0M265.9 178.9h0M266.7 181.8h0M266.4 181.4h0M266.5 180.5h0M266.7 181.8h0M267.4 182.4h0M267.5 179.7h0M267.3 182.7h0M267.5 180.7h0M267.2 183.8h0M267.4 184.3h0M267.3 183.5h0M267.1 183.3h0M267.7 180.3h0M267.8 178.9h0M267.7 177.3h0M267.9 180.1h0M268.1 178.5h0M267.8 178.6h0M268.1 174.8h0M268.7 177.3h0M269.2 178.5h0M269.2 179.5h0M269.2 180.9h0M269.2 180.2h0M269.2 175.8h0M269.2 181h0M269.2 179.6h0M269.2 178.8h0M269.2 184.3h0M269.2 184.5h0M289.8 178.9h0M289.8 178.4h0M289.8 181.5h0M289.8 174.4h0M290.4 183.1h0M290.6 183.5h0M290.6 181.7h0M290.1 182h0M290.2 182.3h0M290.2 182h0M291.1 181.9h0M290.7 183.1h0M290.7 181.5h0M291.2 182.6h0M291 180.4h0M291.5 181.3h0M291.3 183.1h0M291.4 178.3h0M291.3 182.8h0M291.5 180.1h0M291.4 183.1h0M291.9 183h0M292.2 183h0M292.3 181.8h0M292.2 179.1h0M292.7 182.2h0M292.8 182.2h0M292.5 182.6h0M292.6 180.5h0M292.6 182.3h0M293.1 181.7h0M293.5 182.6h0M293.6 182.7h0M293.9 176.9h0M294.1 181h0M293.8 179.7h0M294.8 179.5h0M294.3 180.2h0M294.2 178.4h0M294.6 180h0M294.5 180h0M295.2 177.8h0M295.9 176.3h0M295.7 175.7h0M295.9 177h0M296.6 177.4h0M297.2 178.8h0M297.1 178.4h0M297.1 180.2h0M296.7 178.7h0M296.8 177.6h0M296.9 179.2h0M297.6 175.1h0M297.9 179.3h0M297.9 180h0M297.8 179h0M298.1 176.5h0M298.7 177.9h0M299.2 177.1h0M299.5 175.5h0M299.4 178.4h0M299.6 176h0M299.1 178.3h0M299.6 178.4h0M299.9 178.6h0M299.9 178.1h0M300.2 178.2h0M300.7 178.8h0M300.5 177.5h0M300.5 178.1h0M301.1 176h0M301.1 179.3h0M301.4 178.1h0M301.2 179.6h0M301.7 180.5h0M301.6 181h0M302.5 179h0M302.3 177.7h0M302.5 179.1h0M302.1 175.3h0M303.2 179.2h0M303.6 182.8h0M303.5 182.1h0M303.6 180.9h0M303.2 180.9h0M304.4 181.6h0M303.9 178.6h0M304.8 181.4h0M304.4 181.7h0M304.7 181.4h0M304.8 177.8h0M304.9 180.8h0M305.4 182h0M305.5 180.8h0M305.2 181.5h0M306.1 181.1h0M306 183.1h0M305.7 182.6h0M305.8 177.5h0M306.4 181.7h0M306.5 177.4h0M306.3 178.3h0M306.4 181h0M306.2 181.6h0M306.9 182.1h0M307.2 181.2h0M307.6 182.1h0M307.6 180h0M308 181h0M307.7 182h0M308.4 180.4h0M308.2 178.8h0M308.1 179.9h0M308.6 181.2h0M308.7 183h0M309.1 183h0M309.1 180.1h0M309.2 180.8h0M308.7 179.6h0M308.8 179h0M309 181.5h0M309 181.8h0M309.5 182.6h0M309.5 182.1h0M309.9 182.9h0M310 181.3h0M309.9 182.4h0M310.3 182.5h0M310.5 180.5h0M310.6 182.4h0M311 177.9h0M311.2 182.1h0M311.2 182.7h0M311.1 181.8h0M311.2 182h0M311.2 181.6h0M311.2 181.9h0M311.2 181.7h0M311.2 182.2h0M311.2 182.4h0"/>
<path stroke="#89a8a5" stroke-width="1.9" stroke-linecap="round" d="M71 179.5h0M71 180.3h0M71.1 177.9h0M71 180.4h0M71.1 180.8h0M71.2 180.8h0M71.1 180.9h0M71.1 180.5h0M71 178h0M71.7 180.3h0M71.3 180.7h0M71.5 179.6h0M71.5 180.1h0M72.4 178.6h0M72 178.7h0M72 179.4h0M72.4 177.8h0M72.6 177.7h0M73.5 179.6h0M73.3 177.4h0M74.1 177.8h0M74.2 176.7h0M74.5 178.8h0M74.5 180.2h0M74.5 180.3h0M74.9 179.6h0M75.3 177.8h0M74.8 175.8h0M75 179.2h0M76 178.2h0M75.9 180h0M75.8 178.2h0M76.1 181.5h0M76.2 181.3h0M76.5 179.1h0M76.6 181.2h0M77.3 180h0M77.4 180.6h0M77.4 180.3h0M77.5 180.1h0M77.6 179.5h0M77.8 177.9h0M78.4 179.1h0M78.1 177.9h0M79 180.5h0M78.8 179.9h0M78.9 180.6h0M78.9 178.3h0M79 181.6h0M79.2 180.1h0M79.1 179.8h0M79.4 179.4h0M79.8 177.8h0M80.1 177.8h0M79.7 180.2h0M79.8 177.2h0M80.2 180.2h0M80.2 181.8h0M80.3 181.9h0M80.6 180.2h0M80.8 181.7h0M80.5 182.3h0M80.7 181.5h0M81.2 181.2h0M81.4 181.1h0M81.1 180.8h0M80.9 181.4h0M81.1 180.9h0M81.1 180.8h0M80.9 179.3h0M81.8 177.7h0M81.7 179.8h0M81.8 178.7h0M81.6 180.6h0M82.1 180.5h0M82.9 178.5h0M83 180.2h0M83 177.6h0M82.8 179.7h0M83.3 180.6h0M83.7 180.3h0M83.7 178.8h0M83.5 180.7h0M84.1 179.5h0M83.8 179.1h0M84.4 178.4h0M83.8 179.2h0M84 176.4h0M84.4 179h0M84.4 177.3h0M85.6 180.9h0M85.3 177.9h0M85.5 179.6h0M85.4 176.8h0M85.5 180.2h0M85.2 180.8h0M85.4 180.5h0M86 183h0M86.1 182.5h0M86.7 180.5h0M86.2 180.7h0M86.3 181.5h0M86.7 180.7h0M86.4 182.6h0M87.1 179.8h0M87.1 179.4h0M86.8 181.6h0M87.1 181h0M86.9 180.9h0M87.6 180.7h0M87.8 181.8h0M87.5 182.3h0M88 181.3h0M89 183.3h0M88.9 181.4h0M89.3 179.4h0M89.4 182h0M90 179.1h0M90.2 181.5h0M90.2 175.8h0M90.3 181h0M90.9 179.9h0M90.7 181.6h0M90.7 181.8h0M90.7 178.8h0M90.9 179.9h0M90.6 180h0M90.9 180.7h0M90.5 179.6h0M91.2 174.3h0M91 179.9h0M91 180.4h0M91.3 177.4h0M91 180.7h0M92.1 181.6h0M92 180.3h0M92 180.4h0M92.2 181.1h0M92.6 181.1h0M92.8 180h0M92.8 177.9h0M92.4 180.2h0M93.3 179.7h0M93.2 175.2h0M93.3 177.9h0M93.2 179.6h0M93.4 180.4h0M93.3 180.2h0M92.9 176.6h0M93.5 179.4h0M93.8 182.4h0M94 182.5h0M94.3 181.7h0M94.6 181.2h0M95.2 178.1h0M95.7 180.1h0M95.4 182.1h0M95.3 180.5h0M95.9 180.4h0M96 179.7h0M96 178.5h0M96.4 177.3h0M96.3 180.2h0M95.9 180.1h0M96.7 181.1h0M96.4 181.3h0M96.6 180.1h0M97.5 179.9h0M97.2 177.2h0M97.2 178.8h0M97.6 179.7h0M97.3 178.2h0M97.8 178.6h0M97.7 179.2h0M97.8 177.5h0M97.7 179.6h0M97.8 179.3h0M97.8 180.2h0M97.8 177.8h0M97.8 178h0M97.8 177.3h0M97.8 178.2h0M128.7 182.3h0M128.7 181.1h0M128.7 183.9h0M128.7 183.8h0M128.7 182.4h0M128.7 185.5h0M128.7 183.8h0M128.7 181.5h0M128.7 185.1h0M128.9 178.4h0M129.4 181.1h0M128.9 184.8h0M129.5 182.7h0M129.1 184h0M129.3 180.8h0M129.4 182.4h0M129.6 180.4h0M130 178.8h0M129.8 180.6h0M130.3 179.1h0M130.5 176.3h0M130.5 177.9h0M130.4 176.7h0M130.1 177h0M130.4 178h0M130.8 175.9h0M131.2 175.7h0M130.9 176.9h0M131.3 177.4h0M130.9 178.3h0M130.8 176.9h0M130.9 178.3h0M131.2 176.5h0M131.4 174.7h0M131.5 175.4h0M131.8 176h0M132.2 179.5h0M132.2 179.2h0M132 179.3h0M132.1 178.3h0M133.1 178.9h0M133 175.3h0M132.7 180.6h0M132.5 177.6h0M132.6 179h0M133.2 179.6h0M133.7 180.6h0M133.4 180.2h0M133.6 181h0M134 181.2h0M134.1 180.8h0M133.8 178.8h0M133.9 179.7h0M133.8 181.3h0M134.2 174.5h0M134.8 179.9h0M134.3 178.1h0M134.8 181.4h0M134.7 180.1h0M135.3 181.7h0M135 180.8h0M135.1 181.1h0M135.4 180.5h0M135.1 180.6h0M136.1 179.8h0M136.2 174.9h0M137.2 179.5h0M137.2 177.4h0M136.7 178.1h0M137.5 176.7h0M137.8 175.8h0M137.4 175.5h0M137.5 176.7h0M138.3 175.1h0M138.3 175h0M139.2 182.5h0M139.6 182.3h0M139.5 179.9h0M139.2 183.2h0M139.5 179.9h0M139.6 182.4h0M140.1 180.6h0M140.2 178.8h0M139.7 180.9h0M139.8 181.4h0M140.7 180.9h0M140.7 180.8h0M140.3 181.1h0M141.1 181h0M141.4 182.2h0M141 180.5h0M141.1 182.2h0M141.3 182.4h0M141.7 180.7h0M141.7 179.4h0M142.3 178.7h0M142.6 178.9h0M142.2 178.3h0M143.3 177.1h0M142.8 177.6h0M142.8 181.2h0M143.3 183.2h0M143.6 179.9h0M144.3 179.7h0M144.1 181.8h0M144.9 182.9h0M144.9 179.3h0M145 179.7h0M144.8 183.3h0M144.5 181.1h0M145.7 178.4h0M145.4 177.2h0M145.3 179.4h0M145.2 180.1h0M145.6 180.2h0M145.4 179h0M145.5 175.5h0M145.6 180.2h0M146.2 180.5h0M146 179.8h0M145.9 179.9h0M146.3 183.8h0M146.4 184.4h0M146.5 184.2h0M146.9 184.3h0M147.2 181.6h0M147 179.9h0M147.5 183.7h0M147.4 182.2h0M147.7 181h0M147.9 180.7h0M148.6 174.2h0M148.2 176.3h0M148.7 175.5h0M148.5 176h0M148.8 179.7h0M149.2 180.4h0M148.8 180.6h0M149 180.6h0M149.3 178.6h0M149.1 178.6h0M149.7 176.9h0M149.8 177.4h0M149.6 175.7h0M150 176.7h0M150.1 177.6h0M150.5 178.5h0M150.2 178.1h0M150.1 176.6h0M150.1 178.4h0M151 179.6h0M150.7 179.2h0M151 178.3h0M150.5 179.5h0M151.1 180.2h0M150.8 179.4h0M151.2 180.1h0M151.7 180.3h0M152.1 181.6h0M152.1 181.3h0M152.4 176.1h0M152.5 181h0M153 185.1h0M153 184.9h0M153.7 180.1h0M154.1 186.3h0M154 185.9h0M154.5 180.8h0M154.7 183.3h0M154.6 182.1h0M155.1 179.2h0M154.8 176h0M154.9 181.4h0M154.8 181.8h0M155.1 179h0M155.1 180.9h0M155.1 178.8h0M155.1 180.2h0M181.1 178.3h0M181.1 180.6h0M181.1 180.8h0M181.1 180.9h0M181.1 177.4h0M181.1 179.8h0M181.4 181.9h0M181.2 182h0M181.9 181.2h0M181.6 180.6h0M181.5 178.9h0M181.9 180.6h0M181.7 181.2h0M181.7 180.4h0M182 179.7h0M181.7 181.7h0M181.5 179.5h0M182.5 181.1h0M182.3 180.7h0M182.4 176.1h0M182.1 181.4h0M182.1 181.8h0M182.4 180.5h0M183 181h0M183.2 181.5h0M182.6 179.5h0M182.7 181.7h0M182.9 182h0M183.1 183h0M183.2 183.4h0M183 183.3h0M183.5 180.9h0M183.5 181.3h0M183.5 181.6h0M183.4 181.7h0M184 183.4h0M184.1 184.4h0M184.3 183.2h0M184.1 182.4h0M184.2 183.5h0M184.3 184.5h0M184.4 181.1h0M184.5 184.2h0M184.7 184.3h0M185.5 181.3h0M185.4 181.8h0M186.2 182.4h0M186.4 177.9h0M186.3 178.9h0M187.1 180.9h0M187.1 178.9h0M187.4 176.2h0M186.9 180.6h0M187.4 181.1h0M187.4 179.7h0M187.2 180.3h0M187.8 179.1h0M187.5 176h0M187.6 178.5h0M188 177.7h0M187.4 178h0M187.9 180.1h0M188.3 177.5h0M188 179.1h0M188.5 179.2h0M189.2 178.8h0M189.2 179.8h0M188.7 179.8h0M189 178.6h0M188.6 180.7h0M189.6 177.9h0M189.3 179.5h0M190.2 175.7h0M190 180.1h0M190.6 180.6h0M190.6 180.7h0M191.1 180.6h0M191.4 180.7h0M191.1 179.5h0M192.1 180.8h0M192.1 180.3h0M191.7 181.7h0M192.7 182.3h0M192.6 181.3h0M192.4 181h0M192.5 181.6h0M192.3 181h0M192.5 182.5h0M192.4 181h0M193.1 182.4h0M192.9 181.8h0M193.1 181.5h0M193.8 178.9h0M193.8 177.1h0M194.4 180.9h0M194.4 181.3h0M194.3 180.4h0M194.3 177.1h0M194.3 177.4h0M194.7 181.2h0M195.4 180.4h0M195.6 178.2h0M195.3 179h0M195.9 179.5h0M196.4 176.5h0M195.9 178h0M196.3 180h0M196.2 180h0M196.7 179.6h0M196.8 179.4h0M196.6 178.9h0M196.4 179.8h0M197 179.2h0M197.6 176.1h0M197.2 179.3h0M197.9 175.6h0M197.9 177.8h0M198 177.9h0M197.8 177.3h0M197.7 177.6h0M198.6 177.7h0M198.5 177h0M198.9 178h0M199.1 179.7h0M199 180h0M198.8 178.2h0M200 180.3h0M199.5 179.8h0M199.9 180h0M199.7 180.4h0M199.6 178.9h0M200 179h0M199.5 180h0M200.2 180.8h0M200.4 177.5h0M200.1 177.7h0M200.4 180.6h0M200.3 181.8h0M200.6 180.1h0M200.5 178.2h0M200.1 181.2h0M201.1 180.4h0M201.1 180.5h0M201.3 178.3h0M201.7 179.5h0M201.4 178.2h0M202.1 179.8h0M201.8 180.8h0M202.3 178.9h0M202.1 180.3h0M202.7 175.8h0M202.7 178.6h0M202.8 177.6h0M202.7 179h0M203.2 179h0M203.9 175.3h0M203.7 177.9h0M204 178.7h0M203.9 178.8h0M204.1 176.9h0M204.2 178.5h0M204.2 177.6h0M204.2 176.7h0M204.2 179.2h0M204.2 178.9h0M204.2 175.2h0M230 182.6h0M230 182.5h0M230 181.8h0M230 178.5h0M230 183h0M230 182.7h0M230 186.3h0M230 186.5h0M230.7 181.9h0M230.3 180h0M230.6 182.6h0M230.4 182.6h0M231.1 183.6h0M231.2 181.1h0M231.3 184.5h0M231.7 182.9h0M231.7 184.1h0M231.8 182.8h0M231.7 182.7h0M231.9 182.9h0M231.9 182.9h0M232.6 181.6h0M232.2 183.6h0M232.3 183.3h0M232.2 178h0M233 180.7h0M233 176.7h0M233.1 179.5h0M233.4 180.5h0M233.8 181.1h0M233.4 181h0M233.4 180.5h0M233.7 180.6h0M233.6 177.6h0M233.7 181.1h0M233.4 181.1h0M234.4 177.7h0M233.9 178.2h0M234.8 180.8h0M234.7 182.1h0M234.8 176.8h0M235 177.5h0M234.5 181.8h0M235.1 182.3h0M235.2 181.8h0M235.5 182h0M235.2 179.6h0M235.2 182.2h0M235.4 180.3h0M235.2 179.1h0M235.5 181h0M235.3 179.3h0M235.5 182h0M235.7 182.3h0M236.2 180.4h0M236 180.4h0M236.2 180.1h0M235.8 180h0M236 177.9h0M236.5 179.8h0M236.8 180.1h0M236.9 177.8h0M236.6 180h0M236.5 178.6h0M236.6 179.7h0M236.8 178.8h0M237.1 183.4h0M237.5 185.4h0M238.1 184.4h0M237.7 181.6h0M237.9 185.3h0M237.7 184.3h0M238.3 181h0M238.3 180h0M238.2 181.7h0M238.2 181.6h0M238.6 174.3h0M238.7 182.4h0M238.9 175.3h0M238.9 181.6h0M238.8 183.3h0M238.8 182.7h0M239 183.2h0M239 183.4h0M239.7 179.2h0M239.8 183h0M239.7 183.2h0M239.6 180.5h0M240.1 187.4h0M240.3 186.3h0M240.1 187h0M240.7 179.8h0M240.6 179h0M240.9 182.3h0M240.9 181h0M240.5 181.5h0M240.7 182.1h0M240.8 176.6h0M241 181.7h0M241.7 181.8h0M241.3 177.9h0M241.9 184.3h0M242 186h0M241.9 185.6h0M241.9 186h0M242.4 183.4h0M242.8 180.2h0M242.5 180.5h0M242.6 180.1h0M242.6 184.1h0M243.1 183.1h0M243.2 182.3h0M243.8 177.2h0M243.5 179.2h0M244.5 180.8h0M244.7 181.9h0M244.5 182.4h0M244.7 180.2h0M244.6 181.6h0M244.6 175.9h0M244.2 181.1h0M244.6 183.1h0M244.8 182.4h0M244.8 182h0M244.7 177.7h0M245.1 182.4h0M244.9 181.6h0M244.8 182h0M244.8 178.5h0M245.8 180.1h0M246.3 182.2h0M246.2 181.7h0M246.4 181.6h0M246.3 178.5h0M247.3 178.9h0M247.6 175.7h0M247.7 178.8h0M248.7 181.5h0M248.8 179.2h0M248.5 183.3h0M249.4 182.2h0M249.2 180h0M250 180.2h0M250.1 179h0M249.8 180.5h0M249.7 181.3h0M249.7 181.7h0M250.3 175.6h0M250.3 180h0M250.5 180.3h0M250.3 181h0M250.2 181.1h0M250.7 179.5h0M251 182.1h0M251 180.6h0M251 182.1h0M250.9 182.5h0M251 181.8h0M251 181.1h0M251 181.4h0M251 183.5h0M271.1 178.5h0M271.1 179.2h0M271.1 179.2h0M271.1 179.3h0M271.1 178.6h0M271.1 179.1h0M271.1 180.7h0M271.1 180.2h0M271.6 176.8h0M271.8 180.7h0M271.3 180.1h0M272.2 177.4h0M272.2 182h0M272.1 179.6h0M272.5 182.4h0M272.2 181.2h0M273 180.5h0M272.7 176.6h0M272.6 181.3h0M273.5 184.8h0M273.6 183.2h0M273.5 184.6h0M274 179h0M274 179.7h0M274.3 179.8h0M274.4 182.3h0M274.7 181.1h0M274.9 181.7h0M274.9 182.6h0M274.8 181.8h0M274.5 182.6h0M274.7 181.9h0M275.4 180.5h0M275 183h0M275 179.3h0M275.3 183.1h0M275 180h0M275.7 180.2h0M276 180.8h0M275.8 177h0M275.9 180.7h0M276.1 178.9h0M275.6 180.8h0M276.7 180.3h0M276.2 178.8h0M276.6 180.5h0M276.9 179.2h0M276.9 179.1h0M276.9 176.5h0M277.5 178.4h0M277.9 180.3h0M277.5 177.7h0M277.9 180.1h0M278 184.5h0M278.4 183.6h0M278.2 180.1h0M278.7 180.6h0M278.7 177.9h0M279 180.6h0M278.6 179.9h0M278.9 178.8h0M279.3 178.6h0M279.4 177.1h0M279.4 177h0M280 179.3h0M280.1 177.2h0M280.2 178.9h0M280.1 179.9h0M280.3 180.1h0M280.6 179.6h0M280.6 182.4h0M280.6 183h0M281.2 183h0M281 182.4h0M281 182.8h0M281.3 183h0M281 180.6h0M281 181.1h0M281.7 184.8h0M281.7 183.2h0M282.5 183.6h0M282.6 186.2h0M282.5 185.9h0M282.5 186.4h0M283.2 185.4h0M283.3 186.3h0M282.8 185.6h0M282.9 186.4h0M282.8 185.5h0M283.7 185.7h0M283.4 185.8h0M283.9 184.2h0M284.3 182h0M284.2 181.8h0M284.1 184.5h0M284.1 182.2h0M285 182.1h0M284.5 183.9h0M285.1 182.9h0M285.6 175.9h0M285.2 183.6h0M285.2 182.5h0M285.5 181.1h0M285.6 184.1h0M285.4 180.6h0M285.2 184.1h0M285.5 183.4h0M286 182.7h0M286.2 183.1h0M286.3 182.6h0M286.1 183h0M285.9 181.6h0M286.3 183h0M286.8 180.8h0M286.3 186.6h0M286.9 178.9h0M287 182.7h0M287.1 182.7h0M287.7 179.4h0M287.8 178.9h0M287.9 176.8h0M287.9 180h0M287.9 177.6h0M287.9 179.8h0M287.9 177.8h0M287.9 180.3h0M287.9 180.9h0M287.9 174.2h0M313.1 177.3h0M313.1 180.4h0M313.1 180.2h0M313.1 177.6h0M313.1 181.2h0M313.1 177.6h0M313.1 176.7h0M313.1 181.1h0M313.1 181.9h0M313.1 180.6h0M313.3 181.9h0M313.1 179.1h0M313.2 181.3h0M313.4 181.2h0M313.6 181.4h0M313.9 179.3h0M313.7 178.9h0M314.9 181.9h0M315 182.5h0M315.3 182.8h0M315.4 180.1h0M316.3 183.4h0M315.8 183.8h0M316.2 182.6h0M316.2 183.6h0M316.7 178.5h0M316.8 181.4h0M316.7 181.8h0M316.5 180.4h0M316.7 181.4h0M316.7 177.8h0M317.2 181.5h0M316.9 182.1h0M317 182.6h0M317.4 182.9h0M317.2 181.5h0M317.5 181.3h0M317.1 182.7h0M317.6 180h0M317.6 181.5h0M317.5 181.6h0M317.6 179.5h0M317.7 181.6h0M318.5 177.1h0M318.4 179.1h0M318.6 178.5h0M318.9 182.4h0M318.8 183.1h0M318.9 182.6h0M319.1 182.8h0M318.8 183.1h0M319.6 181.9h0M319.4 182.8h0M319.4 182.2h0M319.9 176.8h0M320.4 179.5h0M320 181.6h0M319.9 179.7h0M320 179.4h0M320.1 181.4h0M320.2 181.5h0M320.4 181.7h0M320.3 180.6h0M321.2 181.9h0M321.6 180.7h0M321.2 182.5h0M322 180h0M322.1 180.7h0M321.8 181.1h0M322 177.2h0M321.8 176.1h0M322.2 179.5h0M322.7 181.7h0M322.3 182.4h0M322.5 182h0M322.7 182.9h0M322.7 179h0M322.8 181.7h0M323 180.4h0M323.4 182.2h0M322.9 177.8h0M323.6 177.8h0M323.8 177.9h0M323.9 181h0M324 180h0M324.1 180.9h0M324.4 177h0M324.6 180.1h0M324.7 180.1h0M324.2 180.8h0M324.8 180h0M324.8 181.5h0M325.2 180h0M325.4 177.3h0M325.3 179.2h0M326.1 178.9h0M326 180.4h0M326 179.8h0M326 177.2h0M326.2 178.5h0M326.3 178.5h0M327.1 179.3h0M326.9 180.8h0M326.7 180.8h0M326.8 179.5h0M327.1 181h0M326.9 180.3h0M327.1 178.9h0M327.7 179.7h0M327.8 180.9h0M328.3 179.1h0M328.2 180.4h0M328.3 177.7h0M327.7 180.4h0M327.9 179.5h0M328.3 180.2h0M328.4 177.2h0M328.5 179.6h0M328.9 181.5h0M329.3 181.3h0M329.8 180.7h0M329.7 181.1h0M330.1 179h0M330.5 177.2h0M330.6 179.3h0M331.2 176.4h0M331.2 180.5h0M330.9 180.4h0M331.2 180.3h0M330.8 178.1h0M331.3 177.9h0M331.3 179.2h0M332 179.2h0M332.1 181h0M332.4 180.9h0M332.5 180.6h0M332.6 177.8h0M332.5 177.8h0M333.4 180.1h0M333.6 180.8h0M334.3 179.4h0M334.1 179.6h0M333.8 180.3h0M334.2 179.9h0M333.8 177.2h0M334.3 178.4h0M334.7 181.1h0M334.6 180.4h0M334.5 182.8h0M334.3 180.6h0M334.5 178.9h0M334.8 176.6h0"/>
<path stroke="#2d4760" stroke-width="1.9" stroke-linecap="round" d="M65.1 173.8h0M50.3 174.5h0M47.5 174.5h0M43 171.7h0M44 174.4h0M61.8 173.3h0M45.6 172.4h0M52.1 173.5h0M90 171.6h0M94.9 173.7h0M84.1 174.4h0M71.2 174.1h0M97.4 171.2h0M88.9 173.2h0M110.3 173.9h0M120.2 173.5h0M114.7 174.5h0M123.6 173.2h0M118.2 173.2h0M123.1 172.1h0M121.5 174h0M100 171.7h0M100.4 174.4h0M115.8 174.4h0M150.6 172.5h0M136.6 173.4h0M142.9 172.6h0M142 174h0M177.6 173.6h0M174.2 171.2h0M164.2 174.1h0M160.8 174h0M177.6 173.1h0M162.8 174.4h0M178.4 174.5h0M171.7 171h0M198.7 172.6h0M189.6 174.6h0M191.4 172.2h0M197.9 174.5h0M201.6 172.1h0M221.6 174.1h0M212.8 171.4h0M220.8 173h0M217.1 172.8h0M233.2 173.7h0M245.1 173.3h0M249.4 173.9h0M235.9 174h0M243.5 173.1h0M267.4 173.7h0M254.6 173.7h0M284.1 174.4h0M278.5 172.3h0M273.6 173.6h0M302.2 174.5h0M289.9 174.3h0M328.2 174.5h0M313.4 170.2h0M314.8 174.1h0M317.1 171.7h0M75.6 170.9h0M76.7 170.5h0M76 171.9h0M77 171.8h0M75.7 172.6h0M76.7 172.6h0M75.9 173.6h0M76.7 173.8h0M75.6 174.7h0M77 174.5h0M181.7 169.9h0M182.5 170.1h0M181.5 170.8h0M182.7 170.8h0M181.6 171.8h0M182.7 172.2h0M181.5 172.9h0M182.6 173.1h0M181.7 174.2h0M182.8 173.8h0M225 169.7h0M226 169.8h0M224.6 170.7h0M225.6 170.4h0M224.9 171.4h0M226 171.7h0M224.8 172.6h0M225.6 172.8h0M224.6 173.7h0M225.7 173.5h0M224.9 174.7h0M226 174.5h0M242.6 170.9h0M243.6 170.8h0M242.7 171.8h0M243.5 171.7h0M242.5 172.9h0M243.7 172.6h0M242.7 173.5h0M243.3 173.5h0M242.5 174.5h0M243.7 174.6h0M293.2 169.4h0M294 169.7h0M293.1 170.6h0M293.8 170.8h0M292.9 171.6h0M293.9 171.6h0M293.2 172.5h0M293.9 172.6h0M293.1 173.6h0M294.2 173.6h0M293.2 174.8h0M294.1 174.6h0M326.2 170h0M327.2 170h0M326.1 171h0M327.3 170.7h0M326.1 172h0M326.9 172h0M326.2 172.9h0M327 173h0M325.9 173.8h0M327.3 174.1h0M195.6 169.6h0M196.3 169.5h0M195.5 170.4h0M196.3 170.6h0M195.4 171.7h0M196.4 171.6h0M195.7 172.6h0M196.6 172.3h0M195.4 173.5h0M196.3 173.7h0M195.5 174.6h0M196.4 174.7h0M231.4 169.8h0M232.5 169.8h0M231.4 170.9h0M232.7 170.7h0M231.6 171.9h0M232.7 171.9h0M231.6 172.6h0M232.4 172.6h0M231.4 173.9h0M232.5 174h0M124.5 170.5h0M125.5 170.7h0M124.2 171.5h0M125.2 171.4h0M124.5 172.7h0M125.3 172.7h0M124.3 173.5h0M125.1 173.6h0M124.3 174.4h0M125.3 174.4h0"/>
<path stroke="#c43c48" stroke-width="1.9" stroke-linecap="round" d="M76.2 163.9h0M76.1 165.2h0M76.3 166.4h0M76.3 167.9h0M76.2 169.2h0M182 142.2h0M182.2 148.5h0M182.1 160.4h0M182 161.4h0M182.2 162.9h0M182.3 164.5h0M182.3 165.6h0M182.1 167.1h0M182.3 168.8h0M225.2 166.7h0M225.1 168h0M243.1 166.3h0M243.1 168.1h0M243.1 169.2h0M293.6 162.8h0M293.7 163.8h0M293.3 165.3h0M293.6 166.8h0M293.7 168.3h0M326.4 162.6h0M326.5 168.3h0M232.1 166.8h0M124.8 169h0M133.6 167.8h0M147.8 165.3h0M147.8 167.5h0M147.8 168.7h0M185.5 162.8h0"/>
<path d="M77.5 161L78.7 155.9L82.4 159.2Z" fill="#f00"/><path d="M80.5 157.5L82.4 155.4" stroke="#f00" stroke-width="0.65"/>
<path d="M225.6 162.8L226.8 157.7L230.5 161Z" fill="#f00"/><path d="M228.6 159.3L230.5 157.2" stroke="#f00" stroke-width="0.65"/>
<path d="M233 163.9L234.2 158.8L237.9 162.1Z" fill="#f00"/><path d="M236 160.4L237.9 158.3" stroke="#f00" stroke-width="0.65"/>
<path d="M244.2 163.4L245.4 158.3L249.1 161.6Z" fill="#f00"/><path d="M247.2 159.9L249.1 157.8" stroke="#f00" stroke-width="0.65"/>
<path d="M293.7 160.1L294.9 155L298.6 158.3Z" fill="#f00"/><path d="M296.7 156.6L298.6 154.5" stroke="#f00" stroke-width="0.65"/>
<path d="M183.1 138.6L184.3 133.5L188 136.8Z" fill="#000"/><path d="M186.1 135.1L188 133" stroke="#000" stroke-width="0.65"/>
<text transform="translate(348 120.9) scale(1.0 1)" font-size="12.1" fill="#111" stroke="#111" stroke-width="0.25">D</text>
<path d="M383.4 133.6V186.4" stroke="#808080" stroke-width="1"/>
<path d="M380 186.4H383.3" stroke="#555" stroke-width="0.9"/>
<text x="376.2" y="188.6" class="t" text-anchor="end">0</text>
<path d="M380 173.2H383.3" stroke="#555" stroke-width="0.9"/>
<text x="376.2" y="175.4" class="t" text-anchor="end">5</text>
<path d="M380 160H383.3" stroke="#555" stroke-width="0.9"/>
<text x="376.2" y="162.2" class="t" text-anchor="end">10</text>
<path d="M380 146.8H383.3" stroke="#555" stroke-width="0.9"/>
<text x="376.2" y="149" class="t" text-anchor="end">15</text>
<path d="M380 133.6H383.3" stroke="#555" stroke-width="0.9"/>
<text x="376.2" y="135.8" class="t" text-anchor="end">20</text>
<g transform="translate(357.6 0) rotate(-90)" class="yl"><text x="-172.7" y="-0.4" font-size="5.4">&#8722;</text><text x="-168.5" y="0">log</text><text x="-160" y="1.4" font-size="4.5">10</text><text x="-155.6" y="-0.4" font-size="9.2" fill="#777" stroke="none">(</text><text x="-153.1" y="0" font-style="italic">p</text><text x="-148.9" y="-0.4" font-size="9.2" fill="#777" stroke="none">)</text></g>
<path d="M383.6 188.7H683" stroke="#6a6a6a" stroke-width="1.1"/>
<path d="M383.8 188.7V192.2" stroke="#5a5a5a" stroke-width="0.9"/>
<path d="M401.4 188.7V192.2" stroke="#5a5a5a" stroke-width="0.9"/>
<path d="M433 188.7V192.2" stroke="#5a5a5a" stroke-width="0.9"/>
<path d="M462 188.7V192.2" stroke="#5a5a5a" stroke-width="0.9"/>
<path d="M490.6 188.7V192.2" stroke="#5a5a5a" stroke-width="0.9"/>
<path d="M517 188.7V192.2" stroke="#5a5a5a" stroke-width="0.9"/>
<path d="M541.5 188.7V192.2" stroke="#5a5a5a" stroke-width="0.9"/>
<path d="M566 188.7V192.2" stroke="#5a5a5a" stroke-width="0.9"/>
<path d="M589.4 188.7V192.2" stroke="#5a5a5a" stroke-width="0.9"/>
<path d="M609.6 188.7V192.2" stroke="#5a5a5a" stroke-width="0.9"/>
<path d="M628.4 188.7V192.2" stroke="#5a5a5a" stroke-width="0.9"/>
<path d="M649.4 188.7V192.2" stroke="#5a5a5a" stroke-width="0.9"/>
<path d="M671.6 188.7V192.2" stroke="#5a5a5a" stroke-width="0.9"/>
<text x="383.8" y="202.1" class="t" text-anchor="middle">Chr</text>
<text x="401.4" y="202.1" class="t" text-anchor="middle">1</text>
<text x="433" y="202.1" class="t" text-anchor="middle">2</text>
<text x="462" y="202.1" class="t" text-anchor="middle">3</text>
<text x="490.6" y="202.1" class="t" text-anchor="middle">4</text>
<text x="517" y="202.1" class="t" text-anchor="middle">5</text>
<text x="541.5" y="202.1" class="t" text-anchor="middle">6</text>
<text x="566" y="202.1" class="t" text-anchor="middle">7</text>
<text x="589.4" y="202.1" class="t" text-anchor="middle">8</text>
<text x="609.6" y="202.1" class="t" text-anchor="middle">9</text>
<text x="628.4" y="202.1" class="t" text-anchor="middle">10</text>
<text x="649.4" y="202.1" class="t" text-anchor="middle">11</text>
<text x="671.6" y="202.1" class="t" text-anchor="middle">12</text>
<path d="M383.8 167.4H683.4" stroke="#e3949a" stroke-width="0.7" stroke-dasharray="2.1 1.1"/>
<path d="M383.8 170.5H683.4" stroke="#a4adb6" stroke-width="0.7" stroke-dasharray="2.1 1.1"/>
<path fill="#d95f02" d="M383.5 187.2L383.5 169.4L384.1 169.4L384.1 171.3L384.7 171.3L384.7 171.2L385.3 171.2L385.3 170.4L385.9 170.4L385.9 175.9L386.5 175.9L386.5 177.5L387.1 177.5L387.1 176.2L387.7 176.2L387.7 176.3L388.3 176.3L388.3 178.6L388.9 178.6L388.9 177.4L389.5 177.4L389.5 177.7L390.1 177.7L390.1 177L390.7 177L390.7 178.8L391.3 178.8L391.3 178.4L391.9 178.4L391.9 179.2L392.5 179.2L392.5 178.4L393.1 178.4L393.1 174.9L393.7 174.9L393.7 174.8L394.3 174.8L394.3 174.8L394.9 174.8L394.9 178.4L395.5 178.4L395.5 178.6L396.1 178.6L396.1 180.6L396.7 180.6L396.7 179.4L397.3 179.4L397.3 179.1L397.9 179.1L397.9 175.4L398.5 175.4L398.5 175.1L399.1 175.1L399.1 180.5L399.7 180.5L399.7 179.3L400.3 179.3L400.3 180.7L400.9 180.7L400.9 180.6L401.5 180.6L401.5 180.1L402.1 180.1L402.1 181L402.7 181L402.7 176.2L403.3 176.2L403.3 176.5L403.9 176.5L403.9 181L404.5 181L404.5 179.6L405.1 179.6L405.1 179.4L405.7 179.4L405.7 180L406.3 180L406.3 181.1L406.9 181.1L406.9 181.6L407.5 181.6L407.5 179.7L408.1 179.7L408.1 182.2L408.7 182.2L408.7 180.2L409.3 180.2L409.3 179.4L409.9 179.4L409.9 180.2L410.5 180.2L410.5 170.8L411.1 170.8L411.1 170.9L411.7 170.9L411.7 171L412.3 171L412.3 179.6L412.9 179.6L412.9 180.1L413.5 180.1L413.5 180.6L414.1 180.6L414.1 180.8L414.7 180.8L414.7 180.4L415.3 180.4L415.3 179.2L415.9 179.2L415.9 180.1L416.5 180.1L416.5 178.9L417.1 178.9L417.1 179.2L417.7 179.2L417.7 177L418 177L418 187.2ZM446.8 187.2L446.8 180.3L447.4 180.3L447.4 181.1L448 181.1L448 181.2L448.6 181.2L448.6 181.3L449.2 181.3L449.2 180.6L449.8 180.6L449.8 181.3L450.4 181.3L450.4 180.7L451 180.7L451 180.4L451.6 180.4L451.6 182.2L452.2 182.2L452.2 183.6L452.8 183.6L452.8 182.2L453.4 182.2L453.4 183.5L454 183.5L454 182L454.6 182L454.6 180.9L455.2 180.9L455.2 172.1L455.8 172.1L455.8 172.3L456.4 172.3L456.4 172.8L457 172.8L457 180.5L457.6 180.5L457.6 182.4L458.2 182.4L458.2 182.4L458.8 182.4L458.8 181.3L459.4 181.3L459.4 181.1L460 181.1L460 175.2L460.6 175.2L460.6 175.1L461.2 175.1L461.2 181.5L461.8 181.5L461.8 180.9L462.4 180.9L462.4 180.9L463 180.9L463 181.6L463.6 181.6L463.6 180.9L464.2 180.9L464.2 178.7L464.8 178.7L464.8 180.7L465.4 180.7L465.4 180.4L466 180.4L466 180L466.6 180L466.6 181.4L467.2 181.4L467.2 181.1L467.8 181.1L467.8 182.5L468.4 182.5L468.4 179.4L469 179.4L469 178.6L469.6 178.6L469.6 177.8L470.2 177.8L470.2 177.9L470.8 177.9L470.8 177.7L471.4 177.7L471.4 176.9L472 176.9L472 171.8L472.6 171.8L472.6 172L473.2 172L473.2 172.1L473.8 172.1L473.8 176.5L474.4 176.5L474.4 175.9L475 175.9L475 175.3L475.6 175.3L475.6 172.7L475.7 172.7L475.7 187.2ZM504 187.2L504 176.2L504.6 176.2L504.6 173.5L505.2 173.5L505.2 173.2L505.8 173.2L505.8 173L506.4 173L506.4 177.5L507 177.5L507 177.8L507.6 177.8L507.6 178L508.2 178L508.2 178.9L508.8 178.9L508.8 180.8L509.4 180.8L509.4 180.1L510 180.1L510 180.1L510.6 180.1L510.6 179.8L511.2 179.8L511.2 178.7L511.8 178.7L511.8 177.4L512.4 177.4L512.4 177.4L513 177.4L513 178.2L513.6 178.2L513.6 177.7L514.2 177.7L514.2 177.1L514.8 177.1L514.8 177.6L515.4 177.6L515.4 176.3L516 176.3L516 175.7L516.6 175.7L516.6 177L517.2 177L517.2 175.1L517.8 175.1L517.8 174L518.4 174L518.4 174.6L519 174.6L519 174.5L519.6 174.5L519.6 174.5L520.2 174.5L520.2 173L520.8 173L520.8 172.8L521.4 172.8L521.4 174.3L522 174.3L522 173.5L522.6 173.5L522.6 174.1L523.2 174.1L523.2 174.1L523.8 174.1L523.8 175.8L524.4 175.8L524.4 175.9L525 175.9L525 177.4L525.6 177.4L525.6 179.6L526.2 179.6L526.2 179.2L526.8 179.2L526.8 178.5L527.4 178.5L527.4 178L528 178L528 169.2L528.2 169.2L528.2 187.2ZM553.1 187.2L553.1 177.9L553.7 177.9L553.7 176L554.3 176L554.3 175L554.9 175L554.9 176.2L555.5 176.2L555.5 176.1L556.1 176.1L556.1 175.6L556.7 175.6L556.7 176.2L557.3 176.2L557.3 176.6L557.9 176.6L557.9 178.3L558.5 178.3L558.5 176.3L559.1 176.3L559.1 176L559.7 176L559.7 175.7L560.3 175.7L560.3 175.3L560.9 175.3L560.9 173.9L561.5 173.9L561.5 174.4L562.1 174.4L562.1 172.2L562.7 172.2L562.7 172.4L563.3 172.4L563.3 173.1L563.9 173.1L563.9 174.8L564.5 174.8L564.5 177L565.1 177L565.1 175.7L565.7 175.7L565.7 177.1L566.3 177.1L566.3 174.1L566.9 174.1L566.9 174.9L567.5 174.9L567.5 174.9L568.1 174.9L568.1 175.5L568.7 175.5L568.7 176.9L569.3 176.9L569.3 178.6L569.9 178.6L569.9 177.4L570.5 177.4L570.5 177.8L571.1 177.8L571.1 177L571.7 177L571.7 178L572.3 178L572.3 179.4L572.9 179.4L572.9 178.6L573.5 178.6L573.5 178.6L574.1 178.6L574.1 178.8L574.7 178.8L574.7 178.7L575.3 178.7L575.3 178.8L575.9 178.8L575.9 178.6L576.5 178.6L576.5 180.1L577.1 180.1L577.1 187.2ZM599.9 187.2L599.9 172.3L600.5 172.3L600.5 172.3L601.1 172.3L601.1 173.2L601.7 173.2L601.7 176.7L602.3 176.7L602.3 176.4L602.9 176.4L602.9 174.3L603.5 174.3L603.5 175.7L604.1 175.7L604.1 177L604.7 177L604.7 173.7L605.3 173.7L605.3 173.3L605.9 173.3L605.9 173.5L606.5 173.5L606.5 176.5L607.1 176.5L607.1 176.4L607.7 176.4L607.7 176.1L608.3 176.1L608.3 177.2L608.9 177.2L608.9 176.5L609.5 176.5L609.5 178.5L610.1 178.5L610.1 176.6L610.7 176.6L610.7 176.5L611.3 176.5L611.3 177.2L611.9 177.2L611.9 178.6L612.5 178.6L612.5 179.7L613.1 179.7L613.1 180.7L613.7 180.7L613.7 180.2L614.3 180.2L614.3 179.7L614.9 179.7L614.9 180L615.5 180L615.5 181.4L616.1 181.4L616.1 181.3L616.7 181.3L616.7 181L617.3 181L617.3 180.8L617.9 180.8L617.9 180.7L618.1 180.7L618.1 187.2ZM636.8 187.2L636.8 179.2L637.4 179.2L637.4 177.9L638 177.9L638 178.1L638.6 178.1L638.6 178.2L639.2 178.2L639.2 179.1L639.8 179.1L639.8 178.9L640.4 178.9L640.4 178.6L641 178.6L641 172.8L641.6 172.8L641.6 172.6L642.2 172.6L642.2 172.5L642.8 172.5L642.8 179.2L643.4 179.2L643.4 179L644 179L644 179.1L644.6 179.1L644.6 181.8L645.2 181.8L645.2 180L645.8 180L645.8 179.5L646.4 179.5L646.4 178.9L647 178.9L647 179.6L647.6 179.6L647.6 180.1L648.2 180.1L648.2 178.9L648.8 178.9L648.8 179.5L649.4 179.5L649.4 173L650 173L650 173.1L650.6 173.1L650.6 178.8L651.2 178.8L651.2 180.8L651.8 180.8L651.8 179.8L652.4 179.8L652.4 181.4L653 181.4L653 179.1L653.6 179.1L653.6 178.8L654.2 178.8L654.2 179.1L654.8 179.1L654.8 173.3L655.4 173.3L655.4 174L656 174L656 173.2L656.6 173.2L656.6 176.5L657.2 176.5L657.2 177.2L657.8 177.2L657.8 177.5L658.4 177.5L658.4 179.2L659 179.2L659 172.9L659.6 172.9L659.6 172.6L660.1 172.6L660.1 187.2Z"/>
<path fill="#89a8a5" d="M418 187.2L418 172.8L418.6 172.8L418.6 171.9L419.2 171.9L419.2 173.2L419.8 173.2L419.8 173.5L420.4 173.5L420.4 174.3L421 174.3L421 174.6L421.6 174.6L421.6 172.5L422.2 172.5L422.2 171.3L422.8 171.3L422.8 172.7L423.4 172.7L423.4 173.1L424 173.1L424 172.9L424.6 172.9L424.6 174.8L425.2 174.8L425.2 175.4L425.8 175.4L425.8 177L426.4 177L426.4 178.3L427 178.3L427 178.5L427.6 178.5L427.6 182L428.2 182L428.2 183.2L428.8 183.2L428.8 182.3L429.4 182.3L429.4 183.1L430 183.1L430 183.4L430.6 183.4L430.6 181.6L431.2 181.6L431.2 182.2L431.8 182.2L431.8 181.2L432.4 181.2L432.4 179.1L433 179.1L433 179.4L433.6 179.4L433.6 177.4L434.2 177.4L434.2 174.7L434.8 174.7L434.8 172.5L435.4 172.5L435.4 172.2L436 172.2L436 174.5L436.6 174.5L436.6 174L437.2 174L437.2 175.5L437.8 175.5L437.8 177.7L438.4 177.7L438.4 176.8L439 176.8L439 177.7L439.6 177.7L439.6 177.5L440.2 177.5L440.2 178.7L440.8 178.7L440.8 178.7L441.4 178.7L441.4 178.1L442 178.1L442 178.7L442.6 178.7L442.6 178.8L443.2 178.8L443.2 177.9L443.8 177.9L443.8 179.3L444.4 179.3L444.4 178.7L445 178.7L445 178.9L445.6 178.9L445.6 177.5L446.2 177.5L446.2 176.5L446.8 176.5L446.8 187.2ZM475.7 187.2L475.7 173.7L476.3 173.7L476.3 172.8L476.9 172.8L476.9 173.2L477.5 173.2L477.5 175.3L478.1 175.3L478.1 172.7L478.7 172.7L478.7 173.1L479.3 173.1L479.3 173.4L479.9 173.4L479.9 174.2L480.5 174.2L480.5 173.3L481.1 173.3L481.1 175.3L481.7 175.3L481.7 175.7L482.3 175.7L482.3 174.7L482.9 174.7L482.9 176.1L483.5 176.1L483.5 176L484.1 176L484.1 174.9L484.7 174.9L484.7 174.6L485.3 174.6L485.3 175.4L485.9 175.4L485.9 175.8L486.5 175.8L486.5 176.2L487.1 176.2L487.1 174.6L487.7 174.6L487.7 174.9L488.3 174.9L488.3 175.3L488.9 175.3L488.9 174.9L489.5 174.9L489.5 173.6L490.1 173.6L490.1 173.9L490.7 173.9L490.7 175.1L491.3 175.1L491.3 174.4L491.9 174.4L491.9 176.1L492.5 176.1L492.5 174.3L493.1 174.3L493.1 175.1L493.7 175.1L493.7 175.7L494.3 175.7L494.3 175.9L494.9 175.9L494.9 176.3L495.5 176.3L495.5 176.6L496.1 176.6L496.1 175.3L496.7 175.3L496.7 176L497.3 176L497.3 175.1L497.9 175.1L497.9 175.6L498.5 175.6L498.5 175L499.1 175L499.1 174.8L499.7 174.8L499.7 176.6L500.3 176.6L500.3 173.7L500.9 173.7L500.9 174.7L501.5 174.7L501.5 175.6L502.1 175.6L502.1 174.7L502.7 174.7L502.7 174.5L503.3 174.5L503.3 172.6L503.9 172.6L503.9 175.3L504 175.3L504 187.2ZM528.2 187.2L528.2 168.6L528.8 168.6L528.8 169.6L529.4 169.6L529.4 170.2L530 170.2L530 168.7L530.6 168.7L530.6 171.9L531.2 171.9L531.2 173.8L531.8 173.8L531.8 174.2L532.4 174.2L532.4 174.1L533 174.1L533 175.6L533.6 175.6L533.6 174.5L534.2 174.5L534.2 173.7L534.8 173.7L534.8 175.9L535.4 175.9L535.4 177.3L536 177.3L536 179.3L536.6 179.3L536.6 179L537.2 179L537.2 179.8L537.8 179.8L537.8 180L538.4 180L538.4 180.1L539 180.1L539 179.9L539.6 179.9L539.6 178.8L540.2 178.8L540.2 178.4L540.8 178.4L540.8 178.2L541.4 178.2L541.4 179.4L542 179.4L542 178.6L542.6 178.6L542.6 179.7L543.2 179.7L543.2 179.1L543.8 179.1L543.8 178.2L544.4 178.2L544.4 178.5L545 178.5L545 179.1L545.6 179.1L545.6 178.1L546.2 178.1L546.2 175.8L546.8 175.8L546.8 175.7L547.4 175.7L547.4 176.2L548 176.2L548 175.6L548.6 175.6L548.6 176.5L549.2 176.5L549.2 178.2L549.8 178.2L549.8 176.8L550.4 176.8L550.4 178.4L551 178.4L551 177.7L551.6 177.7L551.6 177.7L552.2 177.7L552.2 177.3L552.8 177.3L552.8 177.5L553.1 177.5L553.1 187.2ZM577.1 187.2L577.1 176.1L577.7 176.1L577.7 176.6L578.3 176.6L578.3 176.1L578.9 176.1L578.9 177.4L579.5 177.4L579.5 175.8L580.1 175.8L580.1 176.3L580.7 176.3L580.7 177.5L581.3 177.5L581.3 178.6L581.9 178.6L581.9 179.2L582.5 179.2L582.5 180.2L583.1 180.2L583.1 178.7L583.7 178.7L583.7 178.2L584.3 178.2L584.3 179.4L584.9 179.4L584.9 179.2L585.5 179.2L585.5 179.4L586.1 179.4L586.1 178.3L586.7 178.3L586.7 179.3L587.3 179.3L587.3 178.7L587.9 178.7L587.9 178.5L588.5 178.5L588.5 175.4L589.1 175.4L589.1 175.7L589.7 175.7L589.7 173.6L590.3 173.6L590.3 172.1L590.9 172.1L590.9 170.3L591.5 170.3L591.5 171.3L592.1 171.3L592.1 171.6L592.7 171.6L592.7 173.1L593.3 173.1L593.3 175.8L593.9 175.8L593.9 177.9L594.5 177.9L594.5 177.7L595.1 177.7L595.1 178L595.7 178L595.7 177L596.3 177L596.3 177.8L596.9 177.8L596.9 177.3L597.5 177.3L597.5 177.6L598.1 177.6L598.1 178.9L598.7 178.9L598.7 179L599.3 179L599.3 178.1L599.9 178.1L599.9 187.2ZM618.1 187.2L618.1 176.3L618.7 176.3L618.7 177.3L619.3 177.3L619.3 176L619.9 176L619.9 176.9L620.5 176.9L620.5 176.4L621.1 176.4L621.1 176.8L621.7 176.8L621.7 176.3L622.3 176.3L622.3 178L622.9 178L622.9 177.3L623.5 177.3L623.5 177.5L624.1 177.5L624.1 177.8L624.7 177.8L624.7 177.7L625.3 177.7L625.3 176.3L625.9 176.3L625.9 176L626.5 176L626.5 176.6L627.1 176.6L627.1 176.6L627.7 176.6L627.7 177.2L628.3 177.2L628.3 177.5L628.9 177.5L628.9 177.6L629.5 177.6L629.5 177L630.1 177L630.1 178.4L630.7 178.4L630.7 177.7L631.3 177.7L631.3 177.1L631.9 177.1L631.9 177.3L632.5 177.3L632.5 176.7L633.1 176.7L633.1 176L633.7 176L633.7 175.7L634.3 175.7L634.3 176.2L634.9 176.2L634.9 178.3L635.5 178.3L635.5 177.1L636.1 177.1L636.1 177.5L636.7 177.5L636.7 179.9L636.8 179.9L636.8 187.2ZM660.1 187.2L660.1 176.4L660.7 176.4L660.7 176.8L661.3 176.8L661.3 175.9L661.9 175.9L661.9 175.7L662.5 175.7L662.5 174.5L663.1 174.5L663.1 176.5L663.7 176.5L663.7 176.1L664.3 176.1L664.3 176L664.9 176L664.9 178.8L665.5 178.8L665.5 178.5L666.1 178.5L666.1 177.5L666.7 177.5L666.7 177.2L667.3 177.2L667.3 176.6L667.9 176.6L667.9 176.5L668.5 176.5L668.5 176.7L669.1 176.7L669.1 177L669.7 177L669.7 178L670.3 178L670.3 177.5L670.9 177.5L670.9 177.4L671.5 177.4L671.5 175L672.1 175L672.1 175.7L672.7 175.7L672.7 176L673.3 176L673.3 176.6L673.9 176.6L673.9 176.1L674.5 176.1L674.5 175.1L675.1 175.1L675.1 176.6L675.7 176.6L675.7 176.9L676.3 176.9L676.3 177.9L676.9 177.9L676.9 178L677.5 178L677.5 179.7L678.1 179.7L678.1 178.7L678.7 178.7L678.7 178.1L679.3 178.1L679.3 178L679.9 178L679.9 179.7L680.5 179.7L680.5 178.3L681.1 178.3L681.1 178.1L681.7 178.1L681.7 181.7L682.3 181.7L682.3 180.2L682.9 180.2L682.9 180.3L683.5 180.3L683.5 179.1L683.7 179.1L683.7 187.2Z"/>
<path stroke="#d95f02" stroke-width="1.9" stroke-linecap="round" d="M392.9 177.1h0M394.7 174.5h0M395 177.1h0M395.4 178.2h0M396.1 178.1h0M400.3 178.4h0M400.8 178.3h0M400.7 179.3h0M403.2 176h0M402.8 175.6h0M410 175h0M410.2 179.9h0M411.7 170.6h0M417.1 176.8h0M447.8 180h0M449 181h0M449.5 180.3h0M450.2 180.5h0M451.4 179.9h0M454.8 179.9h0M464.1 179.9h0M464.4 177.9h0M465.4 178.8h0M467.8 180h0M470.2 177.8h0M471.8 175.7h0M473.8 171.9h0M510.3 178.7h0M511 178.1h0M517.8 173.8h0M519 173.8h0M522.1 172.7h0M525 174.7h0M526.8 176.9h0M554.1 175.9h0M555 175.4h0M560.1 174.9h0M562.2 171.2h0M565 175.4h0M571.1 174.7h0M573.6 178.1h0M600.9 172.3h0M603.4 174h0M605.2 173.2h0M605.5 171.9h0M610.3 176.6h0M613.9 179.5h0M617.1 180.2h0M639.9 178.6h0M643 178h0M643.2 178.8h0M643.8 176.2h0M644.6 179h0M650.9 178h0M655.5 173.7h0"/>
<path stroke="#89a8a5" stroke-width="1.9" stroke-linecap="round" d="M422 172.2h0M423 172.5h0M423 172.2h0M423.5 172.1h0M425.5 175h0M426.4 177.9h0M431 178.2h0M432.9 177.6h0M433 178.7h0M437.9 176.4h0M438.5 175.9h0M439.2 177.2h0M439.5 177.3h0M439.8 176.6h0M440.7 178.2h0M440.5 177.9h0M444.7 174.4h0M476.9 173.2h0M477.5 173h0M481.2 175.2h0M485.2 173h0M490 171.8h0M493.1 174.9h0M494.9 175.7h0M497.3 174.8h0M499.4 174.6h0M533.5 173.8h0M536.9 177.1h0M537.5 178.5h0M540.9 177.4h0M541.4 179h0M542 178.4h0M543 178h0M548.7 174.2h0M552.1 177.2h0M552.1 174h0M578.7 175.8h0M578.4 173.8h0M579.2 174.8h0M581.8 177.9h0M582.5 176.2h0M584.3 179.3h0M585.7 178.8h0M589.6 175.6h0M591.9 170.9h0M592 171.2h0M596.3 174.8h0M596.5 177.7h0M597.2 176.3h0M619.1 174.8h0M619.8 173.7h0M622.4 177h0M622.8 177.6h0M624.1 175h0M630.1 175.7h0M661.1 172.9h0M661.9 175.7h0M666.4 177.3h0M672.6 174.6h0M674 174.8h0M675.3 176.2h0M677.1 177.9h0M679.1 176.9h0M680.3 178.6h0M681.8 180.7h0"/>
<path stroke="#2d4760" stroke-width="1.9" stroke-linecap="round" d="M384.5 169.5h0M385.6 169.4h0M384.7 170.4h0M385.3 170.3h0M423 167.6h0M423.7 167.4h0M422.8 168.6h0M423.9 168.8h0M422.7 169.4h0M423.7 169.5h0M422.8 170.4h0M423.7 170.4h0M530.7 169.6h0M530.8 170.7h0M592.3 169.3h0M593.2 169.4h0M592.2 170.6h0M593.1 170.4h0"/>
<path stroke="#c43c48" stroke-width="1.9" stroke-linecap="round" d="M423.4 164.9h0M423.1 166.5h0M530.2 114.7h0M530.2 116.3h0M393.9 164.8h0M496 166.2h0"/>
<path d="M424 162.5L425.2 157.4L428.9 160.7Z" fill="#f00"/><path d="M427 159L428.9 156.9" stroke="#f00" stroke-width="0.65"/>
<path d="M593.4 165.2L594.6 160.1L598.3 163.4Z" fill="#f00"/><path d="M596.4 161.7L598.3 159.6" stroke="#f00" stroke-width="0.65"/>
<path d="M530.6 110.5L531.8 105.4L535.5 108.7Z" fill="#000"/><path d="M533.6 107L535.5 104.9" stroke="#000" stroke-width="0.65"/>
<text transform="translate(0.5 225.1) scale(0.765 1)" font-size="12.1" fill="#111" stroke="#111" stroke-width="0.25">E</text>
<path d="M35.4 237.4V290.5" stroke="#808080" stroke-width="1"/>
<path d="M32 290.5H35.3" stroke="#555" stroke-width="0.9"/>
<text x="28.2" y="292.7" class="t" text-anchor="end">0</text>
<path d="M32 279.9H35.3" stroke="#555" stroke-width="0.9"/>
<text x="28.2" y="282.1" class="t" text-anchor="end">5</text>
<path d="M32 269.3H35.3" stroke="#555" stroke-width="0.9"/>
<text x="28.2" y="271.5" class="t" text-anchor="end">10</text>
<path d="M32 258.6H35.3" stroke="#555" stroke-width="0.9"/>
<text x="28.2" y="260.8" class="t" text-anchor="end">15</text>
<path d="M32 248H35.3" stroke="#555" stroke-width="0.9"/>
<text x="28.2" y="250.2" class="t" text-anchor="end">20</text>
<path d="M32 237.4H35.3" stroke="#555" stroke-width="0.9"/>
<text x="28.2" y="239.6" class="t" text-anchor="end">25</text>
<g transform="translate(9.6 0) rotate(-90)" class="yl"><text x="-277.4" y="-0.4" font-size="5.4">&#8722;</text><text x="-273.1" y="0">log</text><text x="-264.6" y="1.4" font-size="4.5">10</text><text x="-260.3" y="-0.4" font-size="9.2" fill="#777" stroke="none">(</text><text x="-257.8" y="0" font-style="italic">p</text><text x="-253.6" y="-0.4" font-size="9.2" fill="#777" stroke="none">)</text></g>
<path d="M35.6 292.6H335" stroke="#6a6a6a" stroke-width="1.1"/>
<path d="M35.8 292.6V296.1" stroke="#5a5a5a" stroke-width="0.9"/>
<path d="M53.4 292.6V296.1" stroke="#5a5a5a" stroke-width="0.9"/>
<path d="M85 292.6V296.1" stroke="#5a5a5a" stroke-width="0.9"/>
<path d="M114 292.6V296.1" stroke="#5a5a5a" stroke-width="0.9"/>
<path d="M142.6 292.6V296.1" stroke="#5a5a5a" stroke-width="0.9"/>
<path d="M169 292.6V296.1" stroke="#5a5a5a" stroke-width="0.9"/>
<path d="M193.5 292.6V296.1" stroke="#5a5a5a" stroke-width="0.9"/>
<path d="M218 292.6V296.1" stroke="#5a5a5a" stroke-width="0.9"/>
<path d="M241.4 292.6V296.1" stroke="#5a5a5a" stroke-width="0.9"/>
<path d="M261.6 292.6V296.1" stroke="#5a5a5a" stroke-width="0.9"/>
<path d="M280.4 292.6V296.1" stroke="#5a5a5a" stroke-width="0.9"/>
<path d="M301.4 292.6V296.1" stroke="#5a5a5a" stroke-width="0.9"/>
<path d="M323.6 292.6V296.1" stroke="#5a5a5a" stroke-width="0.9"/>
<text x="35.8" y="306.1" class="t" text-anchor="middle">Chr</text>
<text x="53.4" y="306.1" class="t" text-anchor="middle">1</text>
<text x="85" y="306.1" class="t" text-anchor="middle">2</text>
<text x="114" y="306.1" class="t" text-anchor="middle">3</text>
<text x="142.6" y="306.1" class="t" text-anchor="middle">4</text>
<text x="169" y="306.1" class="t" text-anchor="middle">5</text>
<text x="193.5" y="306.1" class="t" text-anchor="middle">6</text>
<text x="218" y="306.1" class="t" text-anchor="middle">7</text>
<text x="241.4" y="306.1" class="t" text-anchor="middle">8</text>
<text x="261.6" y="306.1" class="t" text-anchor="middle">9</text>
<text x="280.4" y="306.1" class="t" text-anchor="middle">10</text>
<text x="301.4" y="306.1" class="t" text-anchor="middle">11</text>
<text x="323.6" y="306.1" class="t" text-anchor="middle">12</text>
<path d="M35.8 279.1H335.4" stroke="#e3949a" stroke-width="0.7" stroke-dasharray="2.1 1.1"/>
<path d="M35.8 280.7H335.4" stroke="#a4adb6" stroke-width="0.7" stroke-dasharray="2.1 1.1"/>
<path fill="#d95f02" d="M35.5 291.3L35.5 284.9L36.1 284.9L36.1 284.9L36.7 284.9L36.7 284.9L37.3 284.9L37.3 283.6L37.9 283.6L37.9 283.7L38.5 283.7L38.5 284.9L39.1 284.9L39.1 284.9L39.7 284.9L39.7 285.5L40.3 285.5L40.3 286.8L40.9 286.8L40.9 286.1L41.5 286.1L41.5 286.2L42.1 286.2L42.1 285.8L42.7 285.8L42.7 286L43.3 286L43.3 285.6L43.9 285.6L43.9 285L44.5 285L44.5 285.3L45.1 285.3L45.1 286.1L45.7 286.1L45.7 285.1L46.3 285.1L46.3 285.6L46.9 285.6L46.9 284.7L47.5 284.7L47.5 283.4L48.1 283.4L48.1 284.6L48.7 284.6L48.7 285.4L49.3 285.4L49.3 284.5L49.9 284.5L49.9 284L50.5 284L50.5 284.2L51.1 284.2L51.1 284.2L51.7 284.2L51.7 283.8L52.3 283.8L52.3 285.1L52.9 285.1L52.9 284.8L53.5 284.8L53.5 285.3L54.1 285.3L54.1 285.9L54.7 285.9L54.7 284.9L55.3 284.9L55.3 283.2L55.9 283.2L55.9 282.2L56.5 282.2L56.5 283.5L57.1 283.5L57.1 284.4L57.7 284.4L57.7 283.6L58.3 283.6L58.3 283.7L58.9 283.7L58.9 284.5L59.5 284.5L59.5 285.4L60.1 285.4L60.1 284.9L60.7 284.9L60.7 285.3L61.3 285.3L61.3 284.2L61.9 284.2L61.9 284.8L62.5 284.8L62.5 284.8L63.1 284.8L63.1 283.8L63.7 283.8L63.7 283.2L64.3 283.2L64.3 284.2L64.9 284.2L64.9 283.9L65.5 283.9L65.5 284.8L66.1 284.8L66.1 285.4L66.7 285.4L66.7 285.7L67.3 285.7L67.3 284.6L67.9 284.6L67.9 284.2L68.5 284.2L68.5 284.2L69.1 284.2L69.1 284.6L69.7 284.6L69.7 284.5L70 284.5L70 291.3ZM98.8 291.3L98.8 284.2L99.4 284.2L99.4 283.5L100 283.5L100 284.1L100.6 284.1L100.6 284.2L101.2 284.2L101.2 285.8L101.8 285.8L101.8 285.1L102.4 285.1L102.4 284.4L103 284.4L103 284.5L103.6 284.5L103.6 285L104.2 285L104.2 285.8L104.8 285.8L104.8 286.4L105.4 286.4L105.4 286.8L106 286.8L106 287.5L106.6 287.5L106.6 286.8L107.2 286.8L107.2 286.4L107.8 286.4L107.8 287.5L108.4 287.5L108.4 286.6L109 286.6L109 286.3L109.6 286.3L109.6 286L110.2 286L110.2 285.5L110.8 285.5L110.8 285.8L111.4 285.8L111.4 285.4L112 285.4L112 285.9L112.6 285.9L112.6 286L113.2 286L113.2 284.4L113.8 284.4L113.8 284.7L114.4 284.7L114.4 284L115 284L115 285.6L115.6 285.6L115.6 286.8L116.2 286.8L116.2 287.6L116.8 287.6L116.8 286.4L117.4 286.4L117.4 287L118 287L118 287.3L118.6 287.3L118.6 287.2L119.2 287.2L119.2 286.1L119.8 286.1L119.8 286.4L120.4 286.4L120.4 285.9L121 285.9L121 286.6L121.6 286.6L121.6 286.8L122.2 286.8L122.2 286.2L122.8 286.2L122.8 285.4L123.4 285.4L123.4 285.4L124 285.4L124 284.8L124.6 284.8L124.6 285.6L125.2 285.6L125.2 285.3L125.8 285.3L125.8 285L126.4 285L126.4 284.8L127 284.8L127 285.3L127.6 285.3L127.6 285L127.7 285L127.7 291.3ZM156 291.3L156 285.7L156.6 285.7L156.6 286.4L157.2 286.4L157.2 286.3L157.8 286.3L157.8 286.4L158.4 286.4L158.4 286.7L159 286.7L159 286L159.6 286L159.6 286.1L160.2 286.1L160.2 286.8L160.8 286.8L160.8 285.7L161.4 285.7L161.4 285.9L162 285.9L162 285.9L162.6 285.9L162.6 286.4L163.2 286.4L163.2 286.6L163.8 286.6L163.8 286.6L164.4 286.6L164.4 286.6L165 286.6L165 286.8L165.6 286.8L165.6 286.5L166.2 286.5L166.2 286.6L166.8 286.6L166.8 287.1L167.4 287.1L167.4 287.3L168 287.3L168 287.1L168.6 287.1L168.6 287.7L169.2 287.7L169.2 287.2L169.8 287.2L169.8 287.4L170.4 287.4L170.4 287.2L171 287.2L171 286.8L171.6 286.8L171.6 286.6L172.2 286.6L172.2 286.6L172.8 286.6L172.8 286.9L173.4 286.9L173.4 286.5L174 286.5L174 287.8L174.6 287.8L174.6 287L175.2 287L175.2 287.1L175.8 287.1L175.8 287L176.4 287L176.4 285.7L177 285.7L177 287.2L177.6 287.2L177.6 286.1L178.2 286.1L178.2 286.9L178.8 286.9L178.8 286.1L179.4 286.1L179.4 286.4L180 286.4L180 286.6L180.2 286.6L180.2 291.3ZM205.1 291.3L205.1 285.3L205.7 285.3L205.7 286L206.3 286L206.3 287.5L206.9 287.5L206.9 287.5L207.5 287.5L207.5 287L208.1 287L208.1 285.9L208.7 285.9L208.7 285.3L209.3 285.3L209.3 284.7L209.9 284.7L209.9 285L210.5 285L210.5 286.6L211.1 286.6L211.1 286.5L211.7 286.5L211.7 287.6L212.3 287.6L212.3 289.1L212.9 289.1L212.9 286.4L213.5 286.4L213.5 284L214.1 284L214.1 288.7L214.7 288.7L214.7 288.9L215.3 288.9L215.3 287.7L215.9 287.7L215.9 285.9L216.5 285.9L216.5 287L217.1 287L217.1 286.1L217.7 286.1L217.7 282.8L218.3 282.8L218.3 287L218.9 287L218.9 286.6L219.5 286.6L219.5 286.4L220.1 286.4L220.1 284.9L220.7 284.9L220.7 287.8L221.3 287.8L221.3 286.9L221.9 286.9L221.9 285.8L222.5 285.8L222.5 287L223.1 287L223.1 288.3L223.7 288.3L223.7 287.4L224.3 287.4L224.3 288L224.9 288L224.9 282.6L225.5 282.6L225.5 283.8L226.1 283.8L226.1 286L226.7 286L226.7 283.5L227.3 283.5L227.3 283.4L227.9 283.4L227.9 284.9L228.5 284.9L228.5 287.1L229.1 287.1L229.1 291.3ZM251.9 291.3L251.9 287.1L252.5 287.1L252.5 287.7L253.1 287.7L253.1 287.9L253.7 287.9L253.7 286.9L254.3 286.9L254.3 283.8L254.9 283.8L254.9 288.1L255.5 288.1L255.5 288.2L256.1 288.2L256.1 289.9L256.7 289.9L256.7 288L257.3 288L257.3 286.4L257.9 286.4L257.9 288.1L258.5 288.1L258.5 290.3L259.1 290.3L259.1 286.6L259.7 286.6L259.7 288.1L260.3 288.1L260.3 287.8L260.9 287.8L260.9 288.1L261.5 288.1L261.5 287L262.1 287L262.1 285.4L262.7 285.4L262.7 290.5L263.3 290.5L263.3 289.8L263.9 289.8L263.9 288.4L264.5 288.4L264.5 287.3L265.1 287.3L265.1 288.4L265.7 288.4L265.7 285.6L266.3 285.6L266.3 288.5L266.9 288.5L266.9 286.5L267.5 286.5L267.5 287.6L268.1 287.6L268.1 287.2L268.7 287.2L268.7 285.6L269.3 285.6L269.3 287.3L269.9 287.3L269.9 286.9L270.1 286.9L270.1 291.3ZM288.8 291.3L288.8 286.4L289.4 286.4L289.4 285.3L290 285.3L290 286.5L290.6 286.5L290.6 285.3L291.2 285.3L291.2 285.7L291.8 285.7L291.8 286.2L292.4 286.2L292.4 285.7L293 285.7L293 286.3L293.6 286.3L293.6 286.5L294.2 286.5L294.2 285.8L294.8 285.8L294.8 285.6L295.4 285.6L295.4 286L296 286L296 285.3L296.6 285.3L296.6 287L297.2 287L297.2 285.6L297.8 285.6L297.8 287L298.4 287L298.4 286.6L299 286.6L299 287.8L299.6 287.8L299.6 287.2L300.2 287.2L300.2 286.7L300.8 286.7L300.8 287.3L301.4 287.3L301.4 287.1L302 287.1L302 287.6L302.6 287.6L302.6 288.1L303.2 288.1L303.2 287.2L303.8 287.2L303.8 287.1L304.4 287.1L304.4 285L305 285L305 285L305.6 285L305.6 284.9L306.2 284.9L306.2 286.4L306.8 286.4L306.8 285.3L307.4 285.3L307.4 285.8L308 285.8L308 286.1L308.6 286.1L308.6 287.7L309.2 287.7L309.2 286.3L309.8 286.3L309.8 286.7L310.4 286.7L310.4 286.8L311 286.8L311 286.5L311.6 286.5L311.6 286.5L312.1 286.5L312.1 291.3Z"/>
<path fill="#89a8a5" d="M70 291.3L70 283.3L70.6 283.3L70.6 283.4L71.2 283.4L71.2 284.2L71.8 284.2L71.8 285L72.4 285L72.4 283.3L73 283.3L73 284.2L73.6 284.2L73.6 283.7L74.2 283.7L74.2 285.3L74.8 285.3L74.8 285.3L75.4 285.3L75.4 285.8L76 285.8L76 284.5L76.6 284.5L76.6 284.9L77.2 284.9L77.2 284.9L77.8 284.9L77.8 285.4L78.4 285.4L78.4 284.5L79 284.5L79 284.4L79.6 284.4L79.6 285L80.2 285L80.2 284.7L80.8 284.7L80.8 284.7L81.4 284.7L81.4 284.4L82 284.4L82 284.5L82.6 284.5L82.6 285.3L83.2 285.3L83.2 284.6L83.8 284.6L83.8 285L84.4 285L84.4 284.2L85 284.2L85 284.5L85.6 284.5L85.6 285.2L86.2 285.2L86.2 284.5L86.8 284.5L86.8 284.3L87.4 284.3L87.4 284.4L88 284.4L88 284.2L88.6 284.2L88.6 284.8L89.2 284.8L89.2 283.7L89.8 283.7L89.8 284.6L90.4 284.6L90.4 284.1L91 284.1L91 286.1L91.6 286.1L91.6 286.4L92.2 286.4L92.2 286.4L92.8 286.4L92.8 285.9L93.4 285.9L93.4 285.1L94 285.1L94 285.4L94.6 285.4L94.6 285.6L95.2 285.6L95.2 284.6L95.8 284.6L95.8 285.8L96.4 285.8L96.4 285.8L97 285.8L97 286.6L97.6 286.6L97.6 286.8L98.2 286.8L98.2 286.2L98.8 286.2L98.8 291.3ZM127.7 291.3L127.7 286.1L128.3 286.1L128.3 288.6L128.9 288.6L128.9 286.5L129.5 286.5L129.5 287.3L130.1 287.3L130.1 288.8L130.7 288.8L130.7 288.3L131.3 288.3L131.3 287L131.9 287L131.9 288.6L132.5 288.6L132.5 285L133.1 285L133.1 284.9L133.7 284.9L133.7 284.6L134.3 284.6L134.3 283.5L134.9 283.5L134.9 286.7L135.5 286.7L135.5 284.1L136.1 284.1L136.1 284.4L136.7 284.4L136.7 286.9L137.3 286.9L137.3 289.5L137.9 289.5L137.9 288.8L138.5 288.8L138.5 288.7L139.1 288.7L139.1 289.9L139.7 289.9L139.7 290.2L140.3 290.2L140.3 289L140.9 289L140.9 288.5L141.5 288.5L141.5 285.6L142.1 285.6L142.1 289.3L142.7 289.3L142.7 285.9L143.3 285.9L143.3 286.2L143.9 286.2L143.9 287.4L144.5 287.4L144.5 288.1L145.1 288.1L145.1 285L145.7 285L145.7 285.1L146.3 285.1L146.3 284.5L146.9 284.5L146.9 289.2L147.5 289.2L147.5 287.4L148.1 287.4L148.1 285.9L148.7 285.9L148.7 287.8L149.3 287.8L149.3 288.8L149.9 288.8L149.9 287L150.5 287L150.5 285.7L151.1 285.7L151.1 286.8L151.7 286.8L151.7 289.6L152.3 289.6L152.3 288.6L152.9 288.6L152.9 287.9L153.5 287.9L153.5 287.2L154.1 287.2L154.1 288.4L154.7 288.4L154.7 287.2L155.3 287.2L155.3 289.2L155.9 289.2L155.9 288.4L156 288.4L156 291.3ZM180.2 291.3L180.2 285.5L180.8 285.5L180.8 285.2L181.4 285.2L181.4 285.9L182 285.9L182 285.6L182.6 285.6L182.6 285.7L183.2 285.7L183.2 285.9L183.8 285.9L183.8 285.6L184.4 285.6L184.4 286.1L185 286.1L185 285.4L185.6 285.4L185.6 286.2L186.2 286.2L186.2 284.5L186.8 284.5L186.8 284.8L187.4 284.8L187.4 284.8L188 284.8L188 284.3L188.6 284.3L188.6 284.9L189.2 284.9L189.2 285.4L189.8 285.4L189.8 285.6L190.4 285.6L190.4 283.8L191 283.8L191 284.1L191.6 284.1L191.6 284.9L192.2 284.9L192.2 284.6L192.8 284.6L192.8 285.5L193.4 285.5L193.4 286.2L194 286.2L194 285.8L194.6 285.8L194.6 287.3L195.2 287.3L195.2 285.5L195.8 285.5L195.8 287.4L196.4 287.4L196.4 285.4L197 285.4L197 285.8L197.6 285.8L197.6 286.6L198.2 286.6L198.2 287.1L198.8 287.1L198.8 286.6L199.4 286.6L199.4 285.3L200 285.3L200 286.4L200.6 286.4L200.6 286.5L201.2 286.5L201.2 285.9L201.8 285.9L201.8 285.5L202.4 285.5L202.4 287.2L203 287.2L203 285.2L203.6 285.2L203.6 285.3L204.2 285.3L204.2 285.7L204.8 285.7L204.8 285.7L205.1 285.7L205.1 291.3ZM229.1 291.3L229.1 286.9L229.7 286.9L229.7 287.8L230.3 287.8L230.3 284.3L230.9 284.3L230.9 285.4L231.5 285.4L231.5 284.9L232.1 284.9L232.1 287.4L232.7 287.4L232.7 286.1L233.3 286.1L233.3 287.4L233.9 287.4L233.9 287.4L234.5 287.4L234.5 286.9L235.1 286.9L235.1 286.7L235.7 286.7L235.7 287.6L236.3 287.6L236.3 289.1L236.9 289.1L236.9 286.4L237.5 286.4L237.5 284.7L238.1 284.7L238.1 287.4L238.7 287.4L238.7 284.8L239.3 284.8L239.3 289.4L239.9 289.4L239.9 286.5L240.5 286.5L240.5 288.1L241.1 288.1L241.1 286.1L241.7 286.1L241.7 288.1L242.3 288.1L242.3 284.5L242.9 284.5L242.9 285.1L243.5 285.1L243.5 289.2L244.1 289.2L244.1 287.7L244.7 287.7L244.7 288L245.3 288L245.3 290L245.9 290L245.9 290.6L246.5 290.6L246.5 288.9L247.1 288.9L247.1 289.3L247.7 289.3L247.7 290.5L248.3 290.5L248.3 288.1L248.9 288.1L248.9 286.6L249.5 286.6L249.5 288.8L250.1 288.8L250.1 288.6L250.7 288.6L250.7 287.6L251.3 287.6L251.3 287.3L251.9 287.3L251.9 291.3ZM270.1 291.3L270.1 283.8L270.7 283.8L270.7 288.1L271.3 288.1L271.3 285.3L271.9 285.3L271.9 286.4L272.5 286.4L272.5 286.1L273.1 286.1L273.1 287.3L273.7 287.3L273.7 283.7L274.3 283.7L274.3 286.8L274.9 286.8L274.9 285.3L275.5 285.3L275.5 285.7L276.1 285.7L276.1 286L276.7 286L276.7 286L277.3 286L277.3 285.4L277.9 285.4L277.9 286.7L278.5 286.7L278.5 287.1L279.1 287.1L279.1 286.2L279.7 286.2L279.7 285.4L280.3 285.4L280.3 283.3L280.9 283.3L280.9 283.8L281.5 283.8L281.5 283.9L282.1 283.9L282.1 284L282.7 284L282.7 286.5L283.3 286.5L283.3 288.3L283.9 288.3L283.9 286.1L284.5 286.1L284.5 285.6L285.1 285.6L285.1 285.5L285.7 285.5L285.7 285.9L286.3 285.9L286.3 285L286.9 285L286.9 285.5L287.5 285.5L287.5 283.9L288.1 283.9L288.1 284.3L288.7 284.3L288.7 288L288.8 288L288.8 291.3ZM312.1 291.3L312.1 287L312.7 287L312.7 287L313.3 287L313.3 286.1L313.9 286.1L313.9 286.8L314.5 286.8L314.5 286.6L315.1 286.6L315.1 286L315.7 286L315.7 285.7L316.3 285.7L316.3 285.2L316.9 285.2L316.9 285.7L317.5 285.7L317.5 286L318.1 286L318.1 287L318.7 287L318.7 287.1L319.3 287.1L319.3 286L319.9 286L319.9 286.5L320.5 286.5L320.5 287.6L321.1 287.6L321.1 288.1L321.7 288.1L321.7 286.9L322.3 286.9L322.3 287.1L322.9 287.1L322.9 286L323.5 286L323.5 286L324.1 286L324.1 286.3L324.7 286.3L324.7 285.9L325.3 285.9L325.3 286.2L325.9 286.2L325.9 287.3L326.5 287.3L326.5 286.2L327.1 286.2L327.1 286.2L327.7 286.2L327.7 286.3L328.3 286.3L328.3 285.8L328.9 285.8L328.9 286.2L329.5 286.2L329.5 286.5L330.1 286.5L330.1 286.4L330.7 286.4L330.7 287.6L331.3 287.6L331.3 286.4L331.9 286.4L331.9 285.7L332.5 285.7L332.5 286.4L333.1 286.4L333.1 285.9L333.7 285.9L333.7 286L334.3 286L334.3 287L334.9 287L334.9 286.9L335.5 286.9L335.5 285.5L335.7 285.5L335.7 291.3Z"/>
<path stroke="#d95f02" stroke-width="1.9" stroke-linecap="round" d="M36.5 282.4h0M36.5 284.4h0M36.6 282.4h0M36.6 284.7h0M36.6 282.7h0M36.6 283.7h0M36.5 284.3h0M36.7 282.8h0M36.5 282.2h0M37.1 284.6h0M37.1 283.7h0M37.1 282.5h0M37.4 283.6h0M37.5 282.2h0M37.7 282.2h0M37.4 282.5h0M37.7 282.3h0M37.4 282.9h0M37.5 280.8h0M39 284.8h0M39.1 284.7h0M38.6 284.7h0M39.6 283.5h0M39.1 284.5h0M39.6 283.9h0M40.2 283.9h0M40 285.3h0M40.4 285.3h0M40.5 283.4h0M40.9 285h0M41.1 285.6h0M41.3 284.9h0M41.6 284.3h0M42 284.9h0M41.7 283.4h0M41.7 286.1h0M42 286h0M42.2 282.5h0M42.7 282.8h0M42.3 284.2h0M42.7 284.4h0M42.8 285.7h0M43 283.8h0M43.2 285.2h0M43.9 284.2h0M43.7 284.2h0M43.9 281.8h0M44 284.8h0M44.6 285.3h0M44.8 284h0M44.7 285h0M44.7 285.1h0M44.5 285.2h0M45.5 285.9h0M45.3 285.4h0M45.2 284.9h0M45.4 284.5h0M45.7 285.2h0M45.5 283.4h0M45.2 285.9h0M45.8 284.3h0M46.1 284.8h0M46.2 283.5h0M46.1 283.6h0M46.2 283.2h0M46 284.5h0M46.7 284.9h0M46.9 284.4h0M46.6 284.5h0M47.2 283.8h0M47.1 283.5h0M47.6 283.2h0M47.8 283.1h0M47.6 282.7h0M48.2 283.9h0M48.4 281.3h0M48.4 283.6h0M48.6 283.1h0M48.7 285.3h0M49.2 284.8h0M49.8 282.3h0M50.2 283.9h0M49.9 283.4h0M50 283.9h0M50 283.3h0M50 283.2h0M50.8 283.4h0M50.9 282.4h0M51.3 282.6h0M51.5 281.4h0M51.5 281.4h0M52 281.1h0M52 282h0M52.2 282.3h0M52.2 281.4h0M51.9 281.3h0M52 283.3h0M52.2 283h0M52.2 282.5h0M52.2 283.3h0M51.8 283.3h0M52.3 284.6h0M52.4 285h0M52.7 284.9h0M53 284.3h0M53.2 282.1h0M53 283.5h0M53.4 282.1h0M53.2 284.4h0M53.7 280.9h0M53.8 284.3h0M54.1 283.6h0M54.6 285.5h0M54.2 283.5h0M54.7 285.9h0M54.3 285.3h0M54.3 285.7h0M55.2 284.4h0M55 282h0M55.2 284.2h0M55.1 282.7h0M55.5 281.5h0M55.6 282.5h0M56.1 281.8h0M56 281.5h0M56 281.3h0M56.9 282.7h0M56.9 281.9h0M56.7 283.5h0M56.6 283h0M57.3 283.6h0M57.2 282.2h0M57.5 284.1h0M57.5 283.7h0M57.5 282.6h0M58.1 283.5h0M57.9 281.7h0M58.1 283.3h0M58.3 283.1h0M58.5 283.3h0M59.1 284.4h0M59.2 283.2h0M59.1 283.5h0M59.4 284.3h0M59.2 284.5h0M59.7 283.7h0M60.1 285h0M59.6 285.2h0M60 285.1h0M60.4 284.4h0M60.4 283.6h0M60.4 281.5h0M60.2 283.9h0M60.3 283.9h0M61 284.9h0M61 284.8h0M61.3 283.7h0M61.7 282.3h0M61.3 284h0M61.9 282.7h0M62.4 283h0M61.9 282h0M62.3 283.7h0M62.5 283.8h0M62.7 284.5h0M62.8 284.7h0M62.9 284.2h0M62.5 283.3h0M63.3 283.3h0M63.3 283.1h0M63.5 282h0M63.6 282.3h0M63.2 283.5h0M63.6 281.3h0M63.7 282.5h0M63.8 283.2h0M64.3 284.1h0M64.6 282h0M64.4 283.2h0M64.7 283.1h0M65.4 282.6h0M65.4 283.3h0M65.3 283.3h0M65.4 283h0M65.2 283.3h0M65.8 284.7h0M65.8 283.5h0M65.6 284.7h0M66.1 284.5h0M65.7 284.7h0M66.2 281.9h0M66.5 284.6h0M66.7 285.1h0M66.8 285.6h0M66.9 284.3h0M67.2 282.9h0M67.9 283.9h0M67.6 284.3h0M67.4 283.6h0M67.6 284h0M67.6 283.6h0M68.1 283.7h0M68.4 281.6h0M68.9 283.2h0M68.9 283.3h0M68.6 283.5h0M68.8 282.2h0M68.5 282.2h0M69 283.1h0M69 283h0M69 282.9h0M69 284.4h0M69 282.8h0M69 284.4h0M69 284.2h0M69 284h0M69 282.7h0M69 283.9h0M99.8 283.8h0M99.8 284h0M99.8 284.1h0M99.8 283.4h0M99.9 282.2h0M99.8 282.9h0M99.8 283.3h0M100 282h0M99.8 281.5h0M100.2 283.7h0M100.6 281.8h0M100.4 283.6h0M100.5 280.9h0M100.9 281.4h0M100.6 283.9h0M101 284.1h0M101.7 285.7h0M101.6 285.3h0M101.7 285.2h0M101.4 285.2h0M101.4 285h0M101.5 284.3h0M102.1 283.3h0M102.2 284.4h0M102.9 282.7h0M102.7 283.5h0M102.5 282.2h0M102.8 283.6h0M103.3 280.9h0M103.4 284.2h0M103.2 284h0M103.2 283.1h0M103.6 284.4h0M103.8 284.8h0M104.5 285h0M104.3 283.7h0M104.7 285.3h0M104.3 284.9h0M105.4 284.2h0M104.9 284.7h0M105 285.9h0M104.9 284h0M105.6 285.1h0M105.9 285h0M105.4 286.5h0M106.2 286.7h0M106.4 287h0M106.3 284.9h0M106.4 287.3h0M106.4 287.2h0M106 285.4h0M107 286.2h0M106.8 286.2h0M106.8 286.8h0M107.1 286.5h0M106.9 286h0M107.1 285.2h0M106.9 285.4h0M107.7 285.5h0M107.5 283.5h0M107.5 285.9h0M108.1 285.8h0M108.1 287.1h0M108 284.9h0M108.2 286.7h0M108.9 281.5h0M108.5 285.8h0M108.7 285.8h0M109.3 285.3h0M109.3 284h0M109.7 285.6h0M110.1 285.4h0M109.6 285.2h0M110.1 283.5h0M110.7 285.4h0M110.2 284.5h0M110.6 284.6h0M110.7 285.1h0M110.6 285.4h0M111 284.4h0M111.1 285.5h0M110.9 282.6h0M110.9 285h0M111.2 285.6h0M111.2 285.4h0M110.8 281.4h0M111.5 284.1h0M111.7 284.2h0M111.9 284.2h0M111.8 282.3h0M112 284.2h0M111.6 284.7h0M111.8 281.1h0M112.6 285h0M112.4 284.9h0M112.2 284.7h0M112.6 282.5h0M112.7 283.1h0M112.6 285.4h0M113 283.7h0M113.4 282.1h0M113.5 284.1h0M113.5 283.5h0M113.6 284.1h0M113.4 283.7h0M113.5 283h0M114.3 284.1h0M113.9 284h0M114.4 282.4h0M114 282.9h0M113.9 282.8h0M114 283.8h0M115 282.9h0M114.5 283.3h0M114.4 283.7h0M114.6 283.2h0M114.4 283.9h0M114.5 283.2h0M115.4 283.9h0M115.1 282.5h0M115.4 282.7h0M115.3 283.9h0M115.3 284.9h0M115.7 285.4h0M116.1 286.7h0M116.1 286.6h0M116.2 284.8h0M116.3 285.6h0M116.8 284.7h0M116.5 287.3h0M116.8 287.5h0M116.7 286.8h0M116.5 286.1h0M116.7 285.9h0M117.3 283.6h0M117.4 285.8h0M117.3 286.2h0M117.3 285.9h0M116.9 283.1h0M116.9 286.1h0M117.5 286.8h0M118.3 286.5h0M118.2 286.8h0M118.1 287.3h0M118.5 286.5h0M118.9 286.3h0M118.9 285.8h0M118.7 286.7h0M119.6 285.8h0M119.5 285.9h0M119.6 285.9h0M119.7 285.8h0M119.4 285.4h0M119.6 285.1h0M119.9 281.2h0M120.4 286.3h0M119.8 285.8h0M120.1 283.9h0M120 285.7h0M120 284.3h0M120.4 285h0M120.3 283.6h0M120.6 285.3h0M120.4 285.6h0M120.4 285.4h0M121.2 286h0M121.3 286h0M122.2 286.4h0M122 284.8h0M121.8 285.8h0M122.4 286h0M122.6 281.7h0M122.7 285.6h0M122.8 286h0M122.5 283.9h0M122.8 285h0M123 283.9h0M123.3 282h0M122.9 285.4h0M123.1 284.6h0M123.3 285.1h0M122.9 283.9h0M123.7 282.6h0M123.9 284.1h0M123.9 285.2h0M123.8 284.2h0M123.9 284.9h0M123.9 284.3h0M124 284h0M123.8 285.1h0M124.2 284.7h0M124.2 284.8h0M124.3 284.5h0M124.4 284.2h0M125 285.4h0M125 285h0M124.7 284.9h0M124.7 282.7h0M124.9 285.5h0M125.7 283.7h0M125.3 283.2h0M125.3 284.2h0M125.2 285h0M125.4 284.3h0M126.1 284.6h0M126.2 284.5h0M126.7 282.5h0M126.6 283.6h0M126.8 283.2h0M126.8 282.6h0M126.7 284.7h0M126.7 283.6h0M126.5 282h0M126.8 285h0M126.8 282.9h0M126.8 282.4h0M126.8 284.3h0M126.8 283.8h0M126.8 284.8h0M156.9 285.7h0M156.9 285.7h0M156.9 285.3h0M156.9 285h0M156.9 285.1h0M156.9 285.4h0M156.9 284h0M156.9 285.5h0M156.9 285h0M156.9 285h0M156.9 283.7h0M157 286.3h0M157.1 284.9h0M156.9 285.6h0M156.9 285.5h0M156.9 286.1h0M157.2 285h0M156.9 285.7h0M156.9 286.1h0M157.2 286.1h0M156.9 285.7h0M157 284.8h0M157 285.8h0M157 286.4h0M157.7 285h0M157.5 285.2h0M157.5 286.1h0M157.7 285.7h0M157.7 286.1h0M157.3 283.8h0M157.3 285.7h0M157.5 285.8h0M157.9 286.3h0M158.1 284.1h0M158.1 286.3h0M157.8 285.5h0M158 284.5h0M158.1 286.4h0M157.9 286h0M158.1 284.7h0M158.3 284.9h0M158.2 285.6h0M158.1 284.9h0M158.6 284.9h0M159 284.8h0M158.5 285.9h0M158.7 285h0M158.9 286.1h0M158.6 286.5h0M158.7 286.1h0M159 286.4h0M158.9 286.6h0M158.4 285.6h0M158.8 285.5h0M158.8 285.1h0M159.1 285.9h0M159.2 284.2h0M159.4 285.4h0M159.4 285.4h0M159.4 285.8h0M159.6 285.6h0M159.4 285.4h0M159 285.9h0M159.2 285.8h0M160.1 285.8h0M159.7 284.6h0M160 284.9h0M159.7 284.3h0M159.9 285.1h0M160 285h0M160.1 285.3h0M159.6 285.6h0M159.7 286h0M159.8 284.6h0M159.7 284.8h0M160.4 286.6h0M160.8 284.8h0M160.7 286.5h0M160.4 286.5h0M160.3 286.7h0M160.7 284.9h0M160.3 286.5h0M160.4 286.5h0M160.5 285.5h0M160.3 286.6h0M160.4 285.7h0M161.1 285.3h0M160.9 284.7h0M160.9 285.3h0M160.8 284.8h0M161.3 285.2h0M160.9 285.7h0M161.1 284.3h0M161.9 284.3h0M161.5 285.7h0M161.7 285.8h0M161.8 283.9h0M161.9 285h0M162 284.6h0M161.7 283.3h0M161.7 285.7h0M161.4 284.6h0M162.5 285.7h0M162 284.1h0M162.2 285.7h0M162.1 283.1h0M162.3 285.4h0M162.5 285.1h0M162.4 285.4h0M162.1 284.9h0M162.3 283.9h0M162.2 285.2h0M162.2 285.4h0M162.1 285.9h0M162 285.3h0M162.3 283.5h0M162.1 285.6h0M163 285.7h0M162.9 285.9h0M163.1 286.4h0M162.7 285.5h0M162.8 286.2h0M162.8 285.9h0M162.7 286.2h0M163 285.9h0M163.1 284.8h0M163 285.6h0M163.2 285.5h0M163 284.7h0M162.8 285.4h0M162.8 286.4h0M163.1 285.6h0M162.9 283.7h0M162.8 283.4h0M162.9 286.3h0M163.2 284.4h0M163.4 286.4h0M163.3 285.4h0M163.6 285.6h0M163.3 285.7h0M163.2 285.3h0M163.6 286h0M163.3 285.7h0M163.3 286.5h0M163.8 284.7h0M163.3 285.2h0M163.3 285.7h0M163.3 285.5h0M163.6 284.6h0M164.4 284.1h0M164.2 285.6h0M164.2 286h0M164.3 286.3h0M164.4 286.3h0M164 285.7h0M163.9 286.2h0M163.9 285.9h0M164.1 285.9h0M164.3 285.6h0M164.3 286.4h0M164.8 284.7h0M164.8 285.6h0M164.7 286.3h0M165 284.1h0M164.9 286.4h0M164.7 284.7h0M164.4 285.8h0M165 282.6h0M164.6 285.8h0M164.8 286.1h0M164.6 286.2h0M164.7 286.2h0M164.9 286.3h0M164.9 285.8h0M165.3 286.5h0M165.2 286.8h0M165.2 282.4h0M165.4 286.7h0M165.6 285.8h0M165.4 286.1h0M165 284.6h0M165.5 286.8h0M165.4 286.1h0M166.1 286.4h0M165.7 280.7h0M166 285.3h0M165.7 285.7h0M165.9 286.5h0M165.9 285.5h0M166.2 286.3h0M165.9 286h0M166.1 286.4h0M165.9 286.3h0M165.9 285.8h0M166 285.2h0M166.2 284.8h0M166.4 286.5h0M166.4 286.1h0M166.7 286.3h0M166.7 285.5h0M166.4 286.2h0M166.3 285.7h0M166.6 286h0M167.2 285.9h0M167 286.4h0M166.8 286.8h0M167 286.7h0M167 287.1h0M167 286.9h0M167 286.5h0M166.9 285.1h0M167.2 287.1h0M167 286.9h0M167.1 286.9h0M167.9 285.7h0M167.6 286.6h0M167.5 287.2h0M168 284.6h0M167.8 287.1h0M167.4 283.8h0M168 286.3h0M167.5 286.4h0M167.6 284.7h0M167.8 286.7h0M168 285.9h0M168 286.5h0M168.5 286.8h0M168.5 286.6h0M168.1 284.6h0M168.1 284.9h0M168.5 283.5h0M168.6 287h0M168.3 286.6h0M168.2 287.1h0M168.1 283.5h0M168.2 287h0M168.3 286.6h0M169.1 284.6h0M168.8 287.5h0M168.9 287h0M168.8 287.6h0M169.1 286h0M169 286.5h0M169.1 287.6h0M168.8 287.4h0M168.7 286.3h0M168.9 287.5h0M169.3 286.7h0M169.6 285.8h0M169.7 286.1h0M169.8 284.2h0M169.6 286h0M169.3 287.1h0M169.7 286.6h0M169.2 284.4h0M169.6 286.1h0M169.5 286.9h0M169.4 287.1h0M169.7 287h0M170.4 287.1h0M170.3 286.6h0M169.9 285.6h0M169.8 286.7h0M170 287.2h0M170.3 286.8h0M170.3 287h0M170.1 287.3h0M170 287.3h0M169.9 287.3h0M170 286.9h0M170 285.7h0M170.1 286h0M170.4 287.1h0M169.8 287.3h0M170.2 287.4h0M170.1 285.9h0M170.2 287.1h0M170.8 285h0M170.8 286.5h0M170.6 284.7h0M170.5 285.9h0M170.4 286.1h0M170.8 286.1h0M170.6 286.5h0M170.5 286.1h0M171 286.6h0M170.6 286.2h0M171 286.7h0M171.5 286.2h0M171.3 284.4h0M171.2 286.3h0M171.5 286.3h0M171.2 284.8h0M171.8 285.5h0M171.9 285h0M172.1 286.4h0M171.8 286.1h0M171.8 286.5h0M172.2 282.7h0M171.9 286.4h0M172 285.8h0M172.5 285.3h0M172.8 285.9h0M172.8 284.8h0M172.6 286.6h0M172.8 283.4h0M172.7 286.6h0M172.6 286h0M172.3 285.8h0M173 286.8h0M172.8 286h0M172.9 285.7h0M173 285.1h0M172.8 286h0M173.3 286h0M172.8 286.7h0M173.8 285.6h0M174 285.7h0M173.8 285.7h0M173.6 285.5h0M173.6 285h0M173.8 284.1h0M173.8 283.5h0M173.6 285.7h0M173.4 286h0M173.6 286.4h0M173.7 285h0M173.8 284.2h0M174.1 287.5h0M174.4 285.6h0M174.6 287.6h0M174.3 286.7h0M174.3 287.2h0M174.2 287.4h0M174.1 285.9h0M174.2 286.3h0M174.5 287.5h0M174 286.8h0M174.4 286.4h0M174.3 286.5h0M174 286.1h0M174.7 286h0M175.1 286.4h0M175.2 285.6h0M174.7 286.9h0M174.8 285.6h0M174.9 286.4h0M174.7 285.9h0M175 286.9h0M174.6 286.5h0M174.6 286.3h0M174.6 286.3h0M175 286.9h0M174.7 286.1h0M175.6 287h0M175.8 286.9h0M175.6 286.9h0M175.4 286.7h0M175.5 287h0M175.8 287h0M175.3 285.9h0M175.4 285.7h0M175.8 286.8h0M175.4 285.5h0M175.7 286.6h0M175.9 286.9h0M176.2 284.2h0M176.2 285.7h0M176.4 285.6h0M176.1 286.6h0M176.2 286.3h0M176.1 286.4h0M176 286.4h0M176.3 286.3h0M176.3 283.7h0M175.9 285.5h0M176.1 287h0M176.5 285.1h0M176.9 284.5h0M176.7 285.4h0M176.6 285.3h0M176.5 285.7h0M176.9 285.7h0M176.8 285.1h0M176.9 285.5h0M177.3 286.5h0M177.4 286.9h0M177 286.9h0M177.2 286.2h0M177.4 285.8h0M177.4 284.5h0M177.2 287.1h0M177.5 285.7h0M177.8 285.9h0M178.1 285.7h0M178 285.6h0M177.8 286h0M177.8 286.1h0M177.8 286h0M178.1 284.9h0M178 286.1h0M177.6 285.6h0M178 282.9h0M177.7 286h0M177.8 285.9h0M178.5 281.1h0M178.5 285.5h0M178.7 286h0M178.7 284.7h0M178.5 286.8h0M178.8 286.1h0M178.4 281.8h0M178.9 286.1h0M179.2 283.9h0M178.9 285.6h0M179.2 285h0M179.2 286.1h0M178.9 286h0M178.9 285h0M179.2 285.3h0M179.1 284.9h0M179.1 285.5h0M179.2 285.3h0M179.2 283.7h0M179.1 285.5h0M179.2 284.8h0M179.2 286.1h0M179.2 285.7h0M179.2 283.2h0M179.2 284.8h0M179.2 285.2h0M179.2 284.7h0M179.2 285.5h0M179.2 285.5h0M179.2 285.4h0M179.2 284.7h0M179.2 286h0M179.2 285.4h0M179.2 286.4h0M179.2 285.3h0M179.2 286.4h0M179.2 286.5h0M206 285h0M206 284.8h0M206 285.1h0M206 284.9h0M206 284.7h0M206 284.6h0M206 285.8h0M206.6 284.6h0M206.9 284.9h0M206.5 286.5h0M206.8 286.1h0M206.4 284.9h0M207.4 285.7h0M207.1 285.7h0M207.1 284h0M207 286.8h0M207.4 286.3h0M208 286.2h0M207.7 284.2h0M207.9 286.8h0M208.1 285.6h0M207.9 286.7h0M207.9 286.3h0M207.7 286.7h0M207.6 285.5h0M208.5 282.7h0M208.2 284.8h0M209 285.1h0M209 283.8h0M209 284.5h0M208.8 284.9h0M209.3 282.1h0M209.1 282.6h0M208.9 285.2h0M209.4 284.7h0M209.7 284.3h0M209.4 284.3h0M209.9 283.6h0M209.6 283.8h0M210.2 283.3h0M210 283.7h0M210 284.2h0M210.9 286h0M211.1 286.6h0M210.6 286.2h0M211.4 284.7h0M211.1 285.7h0M211.3 286.3h0M211.3 285.4h0M211.2 285.3h0M211.8 284.7h0M212 287.2h0M212.2 286.6h0M211.8 287.5h0M212.4 285.8h0M212.6 288.4h0M212.9 288.8h0M212.7 287.3h0M212.7 288.9h0M212.9 285.1h0M213.5 286h0M212.9 284.8h0M213.1 284h0M212.9 284.7h0M213.1 284.5h0M213.6 282.7h0M213.9 283.2h0M213.7 283.6h0M214.5 287.3h0M214.5 288.5h0M214.7 288.5h0M214.2 285.3h0M214.5 288.5h0M214.3 287.4h0M215 287.5h0M215.2 288.5h0M215.6 286.4h0M215.5 286.4h0M215.9 285.8h0M215.9 287.3h0M216.5 285.2h0M216.3 283.6h0M216.2 285.2h0M216.3 284.8h0M216.5 284.4h0M216 285.8h0M216.3 285.5h0M216.4 284.4h0M216.9 286.6h0M217.1 284.6h0M216.6 284.6h0M217 287h0M216.6 286.7h0M217.4 283.9h0M217.6 283.6h0M217.3 285.1h0M217.3 286h0M218 282.3h0M217.7 282.5h0M218 282.5h0M218.9 284.8h0M218.7 282.9h0M218.7 286.4h0M218.6 285.9h0M219.2 285.6h0M219 285.5h0M219.3 283.2h0M219.3 284.7h0M219.5 285.8h0M219.2 286.2h0M219.2 286.5h0M219.8 285.5h0M219.6 286h0M219.9 282.7h0M220.4 283.1h0M220.3 283h0M220.3 284.4h0M221.2 286h0M221.3 286.6h0M220.7 285.4h0M221 287.7h0M221.5 283.8h0M221.5 285.8h0M221.9 286.5h0M221.5 285.6h0M221.3 282.6h0M222.2 284.2h0M222 285.6h0M222.2 285.3h0M222.2 282.4h0M222.8 286.8h0M222.7 286.7h0M222.6 283.7h0M224 287.4h0M224.1 287.2h0M224.1 287.4h0M224.1 284.3h0M223.9 285.1h0M224.9 287h0M224.7 287.9h0M224.8 285.9h0M224.8 285.5h0M225.3 282.5h0M225.4 282h0M225.9 281.4h0M226 283.3h0M226.7 283.2h0M226.2 285h0M226.4 285.7h0M226.3 285.6h0M226.5 285.4h0M226.2 285h0M226.7 284.7h0M227 283.2h0M226.9 283h0M226.7 281.7h0M227 282.7h0M227.2 281.7h0M226.9 281.4h0M227.7 282.1h0M227.8 282.9h0M227.6 282.6h0M227.8 282.1h0M227.8 281.7h0M228.2 283.6h0M228.1 282.6h0M228.2 284.3h0M228.2 284.2h0M252.8 286.1h0M252.8 282.2h0M252.8 283.5h0M252.8 285.9h0M252.8 284.6h0M252.8 284.1h0M252.8 286.8h0M252.9 287.5h0M252.9 287.5h0M252.8 286.5h0M253.5 285.5h0M253.5 282.1h0M253.3 286.9h0M253.1 286.1h0M253.2 287h0M253.9 286.2h0M253.8 285.5h0M253.8 284.9h0M254.1 286.3h0M253.8 286h0M254.9 283.7h0M254.7 283.1h0M254.3 281.2h0M255.4 288.1h0M255.1 287.8h0M255.9 287.9h0M256 286.5h0M255.6 287.3h0M255.8 285.9h0M256.2 289.6h0M256.3 288.6h0M256.2 289.2h0M256.7 289.1h0M256.7 288.1h0M256.5 289.8h0M256.7 289.1h0M256.8 287.6h0M257.1 287.2h0M257 287.7h0M257.1 287.9h0M257.8 283.1h0M257.8 286.3h0M257.6 284h0M257.9 287.4h0M258.4 287.2h0M258.8 289.6h0M259 281.8h0M258.9 289.8h0M258.9 289.7h0M258.6 288.5h0M258.6 290.2h0M258.9 288.6h0M259.2 286.2h0M259.1 285.8h0M259.2 286.2h0M259.7 285.4h0M260.2 287.6h0M260 285.5h0M260.8 284.5h0M260.3 285.8h0M260.6 287.1h0M261 287.7h0M261.3 287.6h0M261.3 287.6h0M261.5 287.5h0M261.1 287h0M261.9 285.1h0M261.9 286.3h0M261.9 286.7h0M262 284.9h0M261.7 286.6h0M261.5 285.8h0M262 286.5h0M262.1 284.6h0M262.2 284.1h0M263.3 290.3h0M263 289.2h0M263.2 288.2h0M263.8 286.9h0M263.4 289.8h0M263.7 288.5h0M263.8 288.9h0M263.3 288.8h0M263.3 289.8h0M264.4 287.9h0M264.1 287.2h0M264.3 287.6h0M264.7 287.1h0M265.1 284.9h0M264.5 286.9h0M265 287h0M264.9 285.3h0M265 286.2h0M265.4 288.1h0M265.3 287.9h0M265.6 286.9h0M265.6 288.3h0M265.3 288.1h0M266 285.4h0M265.8 283.9h0M266.3 283.8h0M266.2 282.9h0M266.4 288.5h0M266.5 287.8h0M266.4 287.8h0M266.7 285.1h0M266.6 287.9h0M267.5 285.5h0M267.5 286.2h0M267.1 285.3h0M267.1 286.3h0M267.2 286.3h0M267.2 285.5h0M267.4 285.2h0M266.9 283.7h0M267.6 285.9h0M268 287.6h0M268.4 284.5h0M268.1 285.4h0M268.5 287h0M268.9 283.3h0M268.8 285.6h0M268.8 285.5h0M268.7 285.2h0M269.1 283.4h0M268.9 285.6h0M269.2 285.9h0M289.8 284.3h0M289.8 285.9h0M289.8 285.8h0M289.8 286.2h0M289.8 282.3h0M289.8 285.6h0M289.8 284.7h0M289.8 284.8h0M289.8 284.5h0M289.9 285h0M289.8 283.5h0M289.8 284.5h0M289.8 285h0M290 285h0M290 285.5h0M290.2 284.4h0M290.4 285.4h0M290.4 284.5h0M290.1 286.3h0M290.1 281.3h0M290.8 285.1h0M291.7 284.8h0M291.6 283h0M291.5 285.6h0M291.4 283.2h0M291.4 284.7h0M292.2 285.2h0M291.9 285.8h0M292 285.2h0M292.4 285.3h0M292.1 285.2h0M292.3 285.9h0M292.5 283.5h0M292.9 285.6h0M292.7 284.2h0M292.8 285.3h0M293.1 281.4h0M293 285.8h0M293.5 285.6h0M293.4 284.1h0M293.3 283.4h0M293.8 284.9h0M294.2 284.4h0M294.2 286.5h0M294.2 286h0M293.9 285.6h0M294.2 283.9h0M294.6 285.4h0M294.8 285.6h0M295.1 284.6h0M295.3 282.5h0M295 284.2h0M295.5 285.2h0M295.6 286h0M295.8 285h0M295.9 285.7h0M296 284.5h0M296.1 284h0M296.1 283.3h0M296.4 285.1h0M296.3 284.6h0M296.9 285.4h0M297.1 285.7h0M296.8 286.7h0M297.2 285.8h0M297 284.6h0M297.2 286.3h0M297.7 284.6h0M297.7 281.5h0M297.7 283.8h0M297.6 284.9h0M297.4 285.5h0M298.1 286.8h0M297.8 284.6h0M298.4 286.9h0M298.1 286.4h0M298.3 286.9h0M297.9 282.1h0M298 286h0M298.7 286h0M299 285.4h0M298.6 284.2h0M299.3 286.9h0M299 287.5h0M299.4 285.5h0M299.4 286.1h0M299.1 285.9h0M299.1 287.6h0M299.1 287h0M300.7 285.8h0M300.5 286h0M300.3 283.5h0M300.3 286.4h0M300.6 285.8h0M301.2 286.9h0M301 285.9h0M300.9 286.5h0M301 285.9h0M301 285.1h0M301.9 285.7h0M301.7 286.9h0M301.8 285h0M302.3 287.5h0M302.4 285.5h0M302.7 286.3h0M302.6 285.9h0M302.8 287.7h0M303.1 287.9h0M302.9 287.7h0M303.1 287.2h0M303 287.3h0M302.8 284.9h0M303.7 286.2h0M303.7 287.1h0M303.3 281.3h0M304.2 286.4h0M303.8 282.9h0M303.9 286.2h0M304.3 286.9h0M304.2 284.9h0M304.5 282.9h0M304.6 283.2h0M304.6 284.6h0M304.7 283.7h0M305.3 284.1h0M305.4 283.9h0M306 283.5h0M305.9 284.8h0M305.7 284.7h0M305.7 283.3h0M306.2 285.4h0M306.3 286h0M306.7 286.1h0M306.3 286.1h0M306.3 286.2h0M307 282.5h0M307 284.9h0M307.2 284.9h0M307.1 282.6h0M307.2 285.2h0M307 283.5h0M307.2 284h0M307.5 285.3h0M307.8 285.4h0M307.7 285.3h0M307.4 285.7h0M307.5 285.3h0M308.4 284.7h0M308.1 285.2h0M308.3 285.6h0M308.2 282.9h0M309.1 287.3h0M309.3 284.3h0M309.6 285.2h0M309.7 286h0M309.7 286h0M310.2 285.8h0M310.4 285.6h0M310.3 286.2h0M310 286.5h0M310.3 285.4h0M311 286.6h0M310.6 286.8h0M311.2 286.5h0M311.2 286.4h0M311.1 285h0M311.2 286.2h0M311.2 283.7h0M311.2 286h0M311.2 284h0"/>
<path stroke="#89a8a5" stroke-width="1.9" stroke-linecap="round" d="M71 281.4h0M71 281.6h0M71 281.9h0M71.2 283h0M71.1 281.7h0M71.1 283.1h0M71 283.2h0M71.4 282.6h0M71.5 282.9h0M71.6 283.1h0M71.7 283h0M71.6 283.1h0M71.8 284h0M71.9 283.6h0M72.3 283.6h0M72 284.9h0M72.2 283.3h0M72.2 284.9h0M72.4 284.4h0M71.9 284.6h0M72 284.4h0M71.9 283.8h0M71.9 284.9h0M72.5 281.9h0M72.6 282.9h0M73 283.1h0M73.5 283.6h0M73.1 283.6h0M73.2 282.7h0M73 283.3h0M73.2 284.2h0M73.3 281.5h0M73.7 283.6h0M74.7 285.1h0M74.5 284.4h0M74.5 284.7h0M75 285.1h0M75.1 284.9h0M75.3 284.8h0M75.9 280.9h0M75.8 284h0M75.9 284.6h0M76 284.2h0M76.3 281.3h0M76.9 284.4h0M77.2 283.6h0M77 283.5h0M77.1 280.8h0M76.9 282.6h0M77 284.1h0M76.8 283.7h0M77.6 283.5h0M77.8 281.6h0M77.7 283.6h0M77.7 283.2h0M77.5 284.3h0M77.9 283.8h0M78.2 282.7h0M78 282.2h0M78.1 285.2h0M78.6 283.9h0M78.7 283.4h0M79.5 283.2h0M79.4 282.9h0M79.2 282.6h0M79.1 284.2h0M79.2 284.3h0M80 283.7h0M80.7 283.9h0M80.3 283.9h0M80.8 284.3h0M80.8 284.4h0M80.3 283.8h0M80.5 283.4h0M80.5 284.5h0M81.2 283.9h0M80.9 284.6h0M81.3 283.8h0M81.4 284h0M81.3 284.7h0M82 284.2h0M81.6 283.2h0M81.7 283.7h0M81.6 282.6h0M81.5 284.3h0M82.2 284.4h0M82.5 281.9h0M82.4 283.6h0M82.5 283.1h0M82 283.9h0M83 285.2h0M82.7 284.6h0M82.9 283.5h0M82.7 285.2h0M82.7 284.5h0M83.2 281h0M82.6 284.1h0M82.9 282.3h0M83.1 284.9h0M83.1 283.2h0M83.7 281.6h0M83.4 284.6h0M83.4 284.5h0M83.6 282.3h0M83.5 283.1h0M83.3 282.4h0M84.2 284.7h0M84 285h0M84.3 285h0M84.5 284.1h0M84.6 283.9h0M84.8 282.9h0M85.3 282.8h0M85 284.4h0M85.6 284h0M85.4 283h0M85.4 283.2h0M86.1 284.6h0M85.6 284.7h0M86.6 284h0M86.8 284.2h0M86.6 284.1h0M86.5 284h0M87 283.6h0M87 284.1h0M87.7 281.8h0M88.3 284.1h0M88.4 283.8h0M88.5 284h0M88.3 282h0M88.2 283.9h0M88.1 284h0M88.2 282.8h0M89.2 284.1h0M88.9 283.9h0M89.1 282.9h0M88.6 284.6h0M89.1 282.2h0M89.3 283.7h0M89.8 282.6h0M89.7 283.7h0M89.4 283.5h0M90 283.7h0M90.8 284h0M90.8 283.3h0M90.9 283.6h0M90.8 283h0M90.7 283.9h0M91.1 285.7h0M91.4 286h0M91.4 285.2h0M91.3 285.3h0M91.1 284.6h0M91.5 285.4h0M92.7 285.1h0M92.4 284.9h0M92.3 286h0M93 285.7h0M94.3 285.4h0M94.4 284.1h0M94.4 284h0M95.1 284.4h0M95.1 284.9h0M95 285.3h0M94.8 283.3h0M95 285.5h0M95.3 284.1h0M95.6 284h0M95.7 284.2h0M95.7 283.8h0M95.3 284.2h0M95.3 283.5h0M95.5 283.1h0M96.4 285.6h0M96.5 285h0M97 285h0M96.7 283.8h0M96.7 284.8h0M96.5 284.9h0M97.1 286.5h0M97.6 283.2h0M97.3 286h0M97.3 286.5h0M97.8 285.7h0M97.8 285.5h0M97.7 286.2h0M97.8 285.9h0M97.7 286.5h0M97.8 285.9h0M97.8 284.2h0M97.8 286h0M128.7 282.3h0M128.7 284.8h0M128.7 285.1h0M128.7 283.4h0M128.7 283.1h0M128.7 285.4h0M128.8 284.7h0M128.7 287.7h0M128.7 285.4h0M128.7 287.7h0M129.2 286.4h0M129.1 286.4h0M129.9 286.4h0M129.7 287h0M130.3 287.7h0M130.5 288.4h0M130.8 288h0M131 285.3h0M131.1 287.4h0M131.1 286.9h0M130.9 287.8h0M131.1 287.1h0M131.8 286.2h0M131.7 286.7h0M131.9 286.9h0M132.5 287.4h0M132.4 288.5h0M132.4 287.9h0M132.7 283.4h0M133.6 282.9h0M133.5 284.2h0M133.6 283.2h0M133.6 283.8h0M134.1 283.7h0M134.3 284.3h0M134.1 283.7h0M133.7 283.4h0M133.9 281.8h0M134.8 281.8h0M134.6 282h0M134.7 283.3h0M134.8 282.3h0M135.4 285.4h0M135.1 285.4h0M135.1 286.3h0M136 282.8h0M136 283h0M135.8 283.4h0M136.1 284h0M136.2 283.3h0M136.1 283.6h0M136.4 281.1h0M136.2 282.1h0M136.2 281.5h0M136.3 284.1h0M137.3 285.7h0M137 285.3h0M137.1 286.7h0M137.9 289.3h0M137.9 287.4h0M137.5 285.3h0M137.8 288.1h0M137.6 289.2h0M137.8 288.6h0M138 287.9h0M138.2 284.4h0M138.6 285.9h0M139.1 289.7h0M139.4 288.8h0M139.6 288.7h0M139.3 288.6h0M139.2 289.8h0M139.9 290h0M140.1 290.1h0M139.8 290.1h0M140.6 288h0M140.6 287h0M140.7 288.4h0M141.5 285.1h0M141.5 283.5h0M142 284.2h0M141.9 285.6h0M142 285.1h0M142 283.3h0M141.7 285.4h0M141.8 284.9h0M141.9 285.6h0M142.9 283.5h0M143 283.3h0M143 285.1h0M142.9 285.2h0M143.8 282.7h0M143.6 286.2h0M143.8 286.1h0M143.5 285.9h0M143.8 286.2h0M143.4 285.4h0M143.6 285h0M143.9 285.4h0M143.7 284.4h0M143.5 285.6h0M143.8 285.4h0M143.7 286.2h0M144.4 286.9h0M144.3 285.2h0M144 286.6h0M145.1 288h0M145.1 285.5h0M145 287.5h0M144.5 287.4h0M145.2 284.7h0M146.1 281.5h0M145.7 284.5h0M145.8 284.5h0M145.8 283.5h0M146.9 283h0M146.7 283.5h0M146.6 284.4h0M146.4 284.3h0M147.4 288.3h0M147.4 288.3h0M147.9 287.1h0M147.9 286.7h0M147.7 287.2h0M148.7 283.7h0M148.4 285.3h0M148.5 284.9h0M148.6 285.5h0M149.2 287.7h0M149 285.5h0M149 286.8h0M148.8 287.7h0M149 287.7h0M149 285h0M149.3 287.4h0M149.6 285.4h0M149.8 288.4h0M149.4 286.2h0M149.4 288h0M149.6 287h0M150 286.1h0M150 283h0M149.9 285.7h0M149.9 286.8h0M150 285.5h0M149.9 285.6h0M150.9 285.2h0M150.8 285h0M151 284.3h0M150.9 285.4h0M150.8 285.7h0M151.5 286h0M151.5 286.3h0M151.4 286.6h0M151.2 280.9h0M152.1 289.1h0M152.1 289.4h0M152.1 288.7h0M151.9 288.7h0M152 287.2h0M152 289.2h0M152.4 285.4h0M152.4 286.7h0M152.5 288.6h0M152.7 288.3h0M152.5 287.9h0M153.5 285.6h0M153.1 286.3h0M153.1 282.9h0M153.1 287.2h0M153.1 287h0M153 283.8h0M153.7 282.4h0M154.1 284.3h0M153.7 285.6h0M153.6 286.6h0M154 286.9h0M154.4 286.2h0M154.2 288.2h0M154.5 286.6h0M154.3 287.8h0M155.1 284.9h0M155.1 285.8h0M155.1 287.2h0M155 285.8h0M155.1 289.2h0M155.1 289h0M155.1 288.4h0M155.1 288.8h0M155.1 288.3h0M155.1 288.9h0M155.1 286.9h0M155.1 288.9h0M181.1 284.8h0M181.1 284.6h0M181.1 283.7h0M181.3 283.8h0M181.1 280.8h0M181.1 283.7h0M181.2 284.5h0M181.1 284.3h0M181.3 284.4h0M181.7 284.1h0M181.6 284.4h0M181.8 284.7h0M182.3 283.9h0M182 284.2h0M182.6 283.4h0M183.2 285.5h0M182.9 285.7h0M183.5 285.8h0M183.7 285h0M183.3 285.8h0M184.2 284.1h0M184.4 282.7h0M184.8 283.7h0M184.9 286.1h0M184.5 283.8h0M185.3 283.7h0M185.4 282.9h0M185.4 284.4h0M185.4 283.6h0M185 283.9h0M185.5 284.7h0M186.1 285.8h0M185.9 285.2h0M185.7 285.9h0M186.7 284.2h0M186.2 282h0M186.6 282.7h0M187.3 284.7h0M187.1 283.7h0M187.2 284.6h0M187.8 284.4h0M187.9 282.2h0M187.9 283.3h0M188 284.1h0M188.2 284.1h0M188.5 283.7h0M188.1 283.4h0M189 282.5h0M188.6 284.9h0M189 284.8h0M188.7 284.4h0M189.3 285.2h0M189.6 285.2h0M190.1 285.2h0M190.2 280.9h0M190.3 284.4h0M190.2 285.5h0M190.1 285.3h0M190.8 283h0M190.9 280.9h0M191.4 284h0M191.1 283.7h0M191.2 283.8h0M191.7 284.7h0M192.4 284h0M192.7 283.4h0M192.6 284.2h0M193.2 282.5h0M193.5 286.2h0M193.9 285.8h0M193.7 285h0M193.9 285.8h0M193.7 283.3h0M193.6 284.8h0M193.7 284.1h0M194.2 285.2h0M194.1 285.7h0M194.5 285.6h0M194.4 282.5h0M195 286.1h0M194.9 286.3h0M194.7 286.7h0M195.2 284.5h0M195.6 283.2h0M195.3 283.6h0M195.3 283.9h0M195.4 284.2h0M195.9 286.4h0M195.9 286.2h0M196.9 284.4h0M196.6 283.3h0M196.7 285.2h0M197.6 283.9h0M197.3 284.9h0M197.5 284.5h0M197.4 284.5h0M197.1 285.3h0M197.4 285.4h0M198.1 286.5h0M198.8 287h0M198.7 286.1h0M199.3 286.1h0M198.8 284.3h0M199.6 284.9h0M199.7 284.9h0M199.7 284.4h0M199.7 285.2h0M199.9 284.3h0M200.2 286h0M200.1 283h0M200.2 285h0M200.9 283.5h0M201.6 285.8h0M201.5 285.4h0M201.4 282.4h0M202.2 283h0M202.7 285.4h0M202.7 287h0M203 284.7h0M203.5 284.9h0M203.4 284.8h0M203.2 284.9h0M204.1 285.1h0M204.1 284.8h0M204.2 282.9h0M204.2 285.6h0M230 284.8h0M230 286.5h0M230 283.7h0M230 284.9h0M230.2 287.7h0M230 287.6h0M230.3 283.5h0M230.8 281.7h0M230.7 284.2h0M231.3 284.7h0M231.4 285.2h0M231 284.5h0M231.7 282.6h0M231.8 284h0M231.9 281.4h0M231.6 284.2h0M232.5 286.5h0M232.6 287h0M232.1 286.4h0M232.8 284.8h0M233.1 285.8h0M232.8 283.5h0M233 284.4h0M233.7 286h0M233.8 287.1h0M233.3 285.5h0M233.5 283.9h0M234.5 286.8h0M234.2 287.2h0M234.2 287.3h0M233.9 286.6h0M234.7 286.7h0M234.9 284.8h0M234.6 286.8h0M234.8 285.8h0M235.2 282.5h0M235.2 285.3h0M235.5 285.8h0M235.7 285.9h0M236.1 287h0M235.9 287.6h0M235.8 283.1h0M236.7 288.5h0M236.4 289h0M236.8 288.6h0M236.9 285.6h0M236.9 286.5h0M237.2 285.9h0M237 286h0M236.9 283.6h0M237.8 284.5h0M237.6 284.4h0M237.9 284.3h0M238.6 286.7h0M238.5 283.7h0M238.5 287.3h0M238.5 286.7h0M238.6 287.1h0M238.1 286.1h0M239.1 284.6h0M239.3 283h0M239 281.6h0M239.2 284.3h0M239.3 289.4h0M239.9 288h0M239.7 288.3h0M240.2 286.4h0M240.4 286.3h0M240.3 284.5h0M240.3 286.3h0M241 288h0M240.5 285.5h0M241.2 284.8h0M241.4 286h0M241.1 285.2h0M241.7 285.3h0M241.4 283.1h0M241.5 285.3h0M241.2 285.6h0M241.8 288h0M242 287h0M242.3 287.5h0M241.9 286.5h0M241.8 287.2h0M242.9 282.5h0M242.4 284.4h0M242.6 281.1h0M242.4 283.6h0M242.4 283.5h0M243.2 283.5h0M242.9 283.9h0M242.9 284.1h0M243.8 287.7h0M244.1 287.6h0M243.7 286h0M243.6 288.9h0M243.7 288.6h0M244.2 286.6h0M244.4 282.3h0M244.3 284.4h0M244.2 286.3h0M244.1 284.7h0M244.6 287.2h0M244.9 286.8h0M244.7 287.7h0M244.8 286.4h0M245.2 287.7h0M245 286.9h0M244.8 288h0M244.9 287.9h0M245.1 287.7h0M244.8 285.7h0M245 286.6h0M245.6 286.3h0M245.9 288.8h0M246.5 288.7h0M246.7 288.4h0M246.6 284.1h0M246.6 286.7h0M246.8 288.7h0M247.5 284.9h0M247.5 286h0M247.3 287.9h0M247.2 288.9h0M247.2 285h0M247.5 288.7h0M247.8 288.9h0M247.9 287.4h0M248 289.6h0M248 288.8h0M248.5 287.3h0M248.9 285.6h0M249.4 286.1h0M249.2 285.9h0M249.3 285.5h0M248.9 286.1h0M249.4 284h0M249.2 286h0M249.4 283h0M249.6 288.7h0M249.7 288.4h0M249.7 287.4h0M249.6 288h0M250.1 288.6h0M249.8 288.7h0M249.8 288.6h0M250.6 284.6h0M250.6 288.1h0M250.4 286.4h0M250.7 288.4h0M250.3 287.7h0M250.6 288.2h0M250.2 283.2h0M251 287.4h0M250.7 286.4h0M250.8 286.2h0M250.9 287.4h0M250.9 285.5h0M251 287.1h0M251 284.6h0M251 287.3h0M251 284.5h0M251 286.9h0M271.1 283.6h0M271.1 283.1h0M271.1 283.2h0M271.1 287.6h0M271.1 286.6h0M271.7 285.2h0M271.3 284.6h0M271.8 284.5h0M272.4 286.3h0M272 285.8h0M272.6 284.8h0M272.6 286h0M273 286h0M273.1 285.3h0M273.1 285.2h0M273.5 284.9h0M274.1 283.5h0M274.3 281.1h0M273.9 282.7h0M274.1 283.2h0M274.5 284.8h0M274.6 285.6h0M274.9 283.7h0M274.6 286.8h0M275.2 284.2h0M275 284.7h0M275.6 285.6h0M276.3 282.5h0M276.2 282.9h0M276.5 284.6h0M276.5 285.6h0M276.9 285h0M277.9 284.8h0M277.5 285.4h0M278 286.3h0M278.1 286.1h0M278.4 286.5h0M278.6 285.4h0M278.7 286.2h0M278.5 286.2h0M278.6 286.3h0M278.9 287h0M279.5 282.5h0M279.7 286.1h0M280.2 284.8h0M279.9 284.8h0M280.9 282.9h0M280.6 282.8h0M280.6 281.7h0M280.7 282.4h0M280.8 283.3h0M280.8 283.2h0M280.9 280.8h0M281.4 282.5h0M281.3 283.2h0M281.2 282.7h0M281.1 282.7h0M281.1 281.7h0M281.6 283.7h0M282.2 282.3h0M282.5 283.9h0M282.5 283.8h0M282.2 283.8h0M282.4 282.7h0M282.5 281.9h0M283.1 286.2h0M283 286.4h0M283.2 286.4h0M283.3 286h0M282.9 286.3h0M283.4 287.5h0M283.7 288.2h0M283.5 287.1h0M284.4 284.5h0M284.4 284.8h0M284.4 285.3h0M284.2 282.2h0M284 285.8h0M284.1 285.1h0M284.8 285h0M285 285.4h0M285 284.3h0M284.5 284.3h0M285.5 284.5h0M285.4 285.3h0M285.6 285.4h0M286.3 284.6h0M286.2 284.8h0M286.2 285.9h0M286.8 284.5h0M286.8 284.8h0M286.7 283.9h0M286.4 283.6h0M287.3 282.5h0M287.2 285.4h0M287 285.2h0M287.5 284.9h0M287.9 282.3h0M287.9 282.8h0M287.9 282.1h0M287.9 282.2h0M287.9 284.2h0M287.9 283.9h0M287.9 284h0M287.9 284.2h0M313.1 285.7h0M313.1 282.3h0M313.1 285.4h0M313.1 284.9h0M313.1 286.8h0M313.1 286.7h0M313.1 285h0M313.1 286.7h0M313.1 286.9h0M313.1 286.9h0M313.2 286.3h0M313.9 284.9h0M313.6 284.6h0M313.6 285.9h0M313.9 284.3h0M314.2 286.3h0M314.4 286h0M314.6 285.9h0M315.1 285.4h0M314.8 283.8h0M315 281.8h0M315.1 285.5h0M315.5 285.7h0M315.3 285.1h0M315.1 283.9h0M315.7 285.4h0M315.3 284.5h0M315.6 282.7h0M316.3 282.4h0M316.1 285.7h0M316.9 283.8h0M316.4 285.1h0M317.3 284.1h0M317.1 285.2h0M317 283.9h0M317.5 285.6h0M317.9 283h0M317.8 284.7h0M318.1 285.7h0M318.1 286.8h0M318.2 286h0M318.6 285h0M318.5 286.5h0M318.2 286.4h0M318.5 285.8h0M319.2 286.6h0M318.8 286.1h0M319.1 286.5h0M319 286.6h0M319 286h0M319 284.4h0M319 285.1h0M319.4 285.8h0M319.7 285.5h0M319.6 285.7h0M319.5 283.2h0M319.6 283.9h0M320.3 285.3h0M320.2 286.4h0M320.3 284.7h0M320.1 285.6h0M320.7 287.4h0M320.6 284.7h0M320.6 283h0M321.3 287.6h0M321.3 287.8h0M321.2 287.2h0M321.2 287.5h0M321.1 288h0M321.9 285.2h0M322 284.6h0M322 284.8h0M322.3 286.6h0M321.8 285.8h0M322.4 286.2h0M322.4 286.5h0M322.8 286.9h0M322.4 282.1h0M322.4 286.9h0M322.6 286.6h0M322.8 285.9h0M322.3 282.2h0M323.3 281.1h0M323.5 285.5h0M323.9 284.6h0M323.6 285.3h0M323.7 285.4h0M324.2 286.3h0M324.4 285.9h0M324.3 286.2h0M324.2 285.5h0M325.1 285.4h0M324.8 284.9h0M325.3 283.9h0M325.7 285.8h0M325.5 283.9h0M325.9 286.1h0M326.1 286.9h0M326.4 285.4h0M326 287.2h0M327 282.8h0M326.7 284.4h0M326.8 286.1h0M326.7 283.9h0M327.3 285.3h0M327.2 285.5h0M327.2 284.5h0M327.4 286.1h0M327.4 285.2h0M327.5 285.4h0M328.1 285.5h0M327.8 285.4h0M328.1 286.2h0M328.6 284.1h0M328.9 285.4h0M328.7 284.2h0M328.6 283.7h0M329.4 285.1h0M329.3 283.7h0M329.4 284.2h0M329.9 283.6h0M330.1 286.4h0M330 286h0M329.7 285.2h0M330.1 286.4h0M330.2 285.6h0M330.4 286.1h0M330.4 286.3h0M330.5 285.7h0M331 285.2h0M331.2 286.9h0M331.9 284.7h0M331.6 284.3h0M331.3 285.6h0M331.5 283h0M331.5 285.4h0M331.5 285.9h0M331.4 284.6h0M332.2 284.9h0M332.8 282.2h0M332.8 284.5h0M332.5 284h0M332.8 283.8h0M332.7 285.4h0M332.5 284.3h0M333.1 285.7h0M333.4 285.5h0M333.2 285.1h0M333.4 285.5h0M333.2 284.7h0M334 285.7h0M333.9 285.6h0M333.7 284.8h0M333.7 285.9h0M334.1 286h0M334.6 283.9h0M334.4 286.2h0M334.5 284.3h0M334.8 286.7h0M334.8 285.4h0M334.8 286.6h0M334.8 284.2h0M334.8 283.6h0"/>
<path stroke="#2d4760" stroke-width="1.9" stroke-linecap="round" d="M41.2 280.6h0M45.8 280.3h0M51.2 280.8h0M42.9 280h0M57.7 280.5h0M61.5 280.6h0M67.8 280.1h0M66.9 280.6h0M41.8 280.4h0M55.6 279.8h0M72.6 281h0M81.8 281h0M85.1 281h0M93.5 280.3h0M72.7 281.1h0M90.8 281h0M87.4 281h0M72.8 281h0M99.9 280.7h0M124.3 280.9h0M110.7 280.7h0M110.5 280.6h0M108.2 281h0M113.8 280.7h0M100 280.6h0M107.4 280.5h0M121.9 280.4h0M148.7 280h0M139.2 279.9h0M130.5 280.4h0M150.3 280.8h0M133.3 280.4h0M131.4 280.4h0M133.4 280.5h0M131.8 280.9h0M130 279.9h0M177.2 280.4h0M178.7 280.2h0M157.5 280.9h0M178.5 280.9h0M175.6 281h0M178.6 280.1h0M192 280.8h0M187.3 280.4h0M203.6 280.5h0M187.3 280.9h0M195.5 280.6h0M199.5 280.6h0M202.5 280.5h0M200.9 281h0M195.8 281h0M193.6 280.7h0M194 280.2h0M225.9 280.8h0M211 280.7h0M214.1 280.4h0M225.8 280.8h0M223.9 279.9h0M223.4 280.2h0M216.3 280.6h0M211.9 280.4h0M225 280.3h0M208.2 280.3h0M211.8 280.6h0M246.7 281h0M231.3 280h0M239.1 280.4h0M232.7 280.7h0M250 280.2h0M240.2 280.3h0M244.1 280.9h0M235.3 280.3h0M244.1 280.5h0M234.8 279.9h0M241.5 280.7h0M231.1 280.8h0M231.2 280.8h0M235.5 280.4h0M237.1 280.1h0M233.8 280.1h0M266.5 280.4h0M255.2 281h0M261.8 280.9h0M267.9 281.1h0M256.6 280.6h0M278.9 280.4h0M282.1 280.9h0M276.7 280.9h0M281.9 279.8h0M286.5 280.5h0M281.9 280h0M273.5 281.1h0M283.7 280.3h0M282.4 280h0M272.8 280.6h0M291.4 280.9h0M296.8 280.6h0M295.4 281h0M305.6 279.8h0M296.8 280h0M308.4 281.1h0M307.8 281h0M299 280.3h0M292.5 280h0M309.6 280.6h0M330.6 280.5h0M327.3 280.3h0M328.4 280.8h0M329.6 280.7h0M331.7 280.5h0M330.7 280.2h0M320 280.2h0M317.5 280.5h0M329.1 280.3h0M324.6 281h0M325.3 280h0M334.4 280.1h0M75.6 279.9h0M77 279.8h0M75.9 280.5h0M76.6 280.7h0M181.9 279.9h0M182.6 279.9h0M181.8 280.8h0M182.5 280.9h0M224.8 279.2h0M226 279.2h0M225.1 280.4h0M225.9 280.6h0M242.3 279.9h0M243.7 279.8h0M242.5 281h0M243.3 281h0M293 280h0M293.8 280.2h0M292.8 281.2h0M294.1 281.1h0M325.9 279h0M327.3 279.1h0M326 280h0M327.2 280h0M326 281.1h0M326.9 281.4h0M144 279.4h0M144.8 279.4h0M143.7 280.5h0M144.9 280.2h0M143.7 281.2h0M144.7 281.3h0M195.3 279.2h0M196.7 279.6h0M195.7 280.4h0M196.3 280.4h0M231.3 280.2h0M232.1 280.1h0M231.2 281h0M232.2 281.2h0"/>
<path stroke="#c43c48" stroke-width="1.9" stroke-linecap="round" d="M76.3 271.3h0M76.5 272.6h0M76.3 273.9h0M76.3 274.9h0M76.1 276.2h0M76.4 277.4h0M76.5 278.6h0M182.4 244.1h0M182.3 254.2h0M182.4 260.5h0M182.1 265.2h0M181.7 268.9h0M182.7 269.2h0M181.7 270.3h0M182.9 270.2h0M181.7 271.4h0M182.7 271.6h0M181.7 272.5h0M182.7 272.4h0M181.7 273.8h0M182.9 273.7h0M181.9 274.8h0M182.7 275.2h0M181.6 276.2h0M182.8 276.3h0M181.5 277.2h0M182.5 277.4h0M181.7 278.8h0M182.5 278.8h0M225.6 270.9h0M225.5 272.4h0M225.5 273.2h0M225.3 274.4h0M225.6 275.9h0M225.6 276.8h0M225.5 278.2h0M242.8 272.9h0M242.8 273.8h0M242.9 275.3h0M243.2 276.3h0M242.8 277.7h0M243.1 278.6h0M293.7 262.6h0M293.5 267.6h0M293.6 271.9h0M293.5 273.1h0M293.6 274.1h0M293.6 275.4h0M293.7 276.5h0M293.4 277.7h0M293.6 278.9h0M326.7 267.6h0M326.4 271.9h0M326.6 273.2h0M326.4 274.2h0M326.7 275.8h0M326.4 276.9h0M326.6 278.2h0M144.6 274.7h0M144.4 275.9h0M144.6 276.9h0M144.4 278.1h0M195.8 274.6h0M196 275.6h0M196.1 277.2h0M195.8 278.3h0M231.9 266.8h0M231.5 275.3h0M231.5 276.4h0M231.7 277.8h0M231.8 279h0M45.6 276.1h0M69.5 277.6h0M74.6 277.1h0M107.6 275.7h0M112.4 278.6h0M117.8 274.9h0M124.7 277.1h0M132.5 272.7h0M133.2 273.4h0M148 269.8h0M150.6 275.6h0M155.4 276.6h0M173.4 277.7h0M177 276.2h0M186 270.7h0M184.9 274.6h0M198.8 278h0M208 277.7h0M213.7 275.6h0M217.5 275.6h0M248.2 276.5h0M251.5 274.3h0M253.2 277.7h0M256.6 276.9h0M266.1 276.9h0M270 278.2h0M271.7 276h0M282.1 274.8h0M288 276h0M305.2 277.7h0M311 276.9h0M314.8 276.5h0M322.7 277.7h0"/>
<path d="M77.4 269.2L78.6 264.1L82.3 267.4Z" fill="#f00"/><path d="M80.4 265.7L82.3 263.6" stroke="#f00" stroke-width="0.65"/>
<path d="M226.2 269L227.4 263.9L231.1 267.2Z" fill="#f00"/><path d="M229.2 265.5L231.1 263.4" stroke="#f00" stroke-width="0.65"/>
<path d="M233 264L234.2 258.9L237.9 262.2Z" fill="#f00"/><path d="M236 260.5L237.9 258.4" stroke="#f00" stroke-width="0.65"/>
<path d="M244.2 270.2L245.4 265.1L249.1 268.4Z" fill="#f00"/><path d="M247.2 266.7L249.1 264.6" stroke="#f00" stroke-width="0.65"/>
<path d="M294.6 259.6L295.8 254.5L299.5 257.8Z" fill="#f00"/><path d="M297.6 256.1L299.5 254" stroke="#f00" stroke-width="0.65"/>
<path d="M183 241L184.2 235.9L187.9 239.2Z" fill="#000"/><path d="M186 237.5L187.9 235.4" stroke="#000" stroke-width="0.65"/>
<text transform="translate(348.2 225) scale(0.826 1)" font-size="12.1" fill="#111" stroke="#111" stroke-width="0.25">F</text>
<path d="M383.4 237.4V290.5" stroke="#808080" stroke-width="1"/>
<path d="M380 290.5H383.3" stroke="#555" stroke-width="0.9"/>
<text x="376.2" y="292.7" class="t" text-anchor="end">0</text>
<path d="M380 279.9H383.3" stroke="#555" stroke-width="0.9"/>
<text x="376.2" y="282.1" class="t" text-anchor="end">5</text>
<path d="M380 269.3H383.3" stroke="#555" stroke-width="0.9"/>
<text x="376.2" y="271.5" class="t" text-anchor="end">10</text>
<path d="M380 258.6H383.3" stroke="#555" stroke-width="0.9"/>
<text x="376.2" y="260.8" class="t" text-anchor="end">15</text>
<path d="M380 248H383.3" stroke="#555" stroke-width="0.9"/>
<text x="376.2" y="250.2" class="t" text-anchor="end">20</text>
<path d="M380 237.4H383.3" stroke="#555" stroke-width="0.9"/>
<text x="376.2" y="239.6" class="t" text-anchor="end">25</text>
<g transform="translate(357.6 0) rotate(-90)" class="yl"><text x="-277.4" y="-0.4" font-size="5.4">&#8722;</text><text x="-273.1" y="0">log</text><text x="-264.6" y="1.4" font-size="4.5">10</text><text x="-260.3" y="-0.4" font-size="9.2" fill="#777" stroke="none">(</text><text x="-257.8" y="0" font-style="italic">p</text><text x="-253.6" y="-0.4" font-size="9.2" fill="#777" stroke="none">)</text></g>
<path d="M383.6 292.6H683" stroke="#6a6a6a" stroke-width="1.1"/>
<path d="M383.8 292.6V296.1" stroke="#5a5a5a" stroke-width="0.9"/>
<path d="M401.4 292.6V296.1" stroke="#5a5a5a" stroke-width="0.9"/>
<path d="M433 292.6V296.1" stroke="#5a5a5a" stroke-width="0.9"/>
<path d="M462 292.6V296.1" stroke="#5a5a5a" stroke-width="0.9"/>
<path d="M490.6 292.6V296.1" stroke="#5a5a5a" stroke-width="0.9"/>
<path d="M517 292.6V296.1" stroke="#5a5a5a" stroke-width="0.9"/>
<path d="M541.5 292.6V296.1" stroke="#5a5a5a" stroke-width="0.9"/>
<path d="M566 292.6V296.1" stroke="#5a5a5a" stroke-width="0.9"/>
<path d="M589.4 292.6V296.1" stroke="#5a5a5a" stroke-width="0.9"/>
<path d="M609.6 292.6V296.1" stroke="#5a5a5a" stroke-width="0.9"/>
<path d="M628.4 292.6V296.1" stroke="#5a5a5a" stroke-width="0.9"/>
<path d="M649.4 292.6V296.1" stroke="#5a5a5a" stroke-width="0.9"/>
<path d="M671.6 292.6V296.1" stroke="#5a5a5a" stroke-width="0.9"/>
<text x="383.8" y="306.1" class="t" text-anchor="middle">Chr</text>
<text x="401.4" y="306.1" class="t" text-anchor="middle">1</text>
<text x="433" y="306.1" class="t" text-anchor="middle">2</text>
<text x="462" y="306.1" class="t" text-anchor="middle">3</text>
<text x="490.6" y="306.1" class="t" text-anchor="middle">4</text>
<text x="517" y="306.1" class="t" text-anchor="middle">5</text>
<text x="541.5" y="306.1" class="t" text-anchor="middle">6</text>
<text x="566" y="306.1" class="t" text-anchor="middle">7</text>
<text x="589.4" y="306.1" class="t" text-anchor="middle">8</text>
<text x="609.6" y="306.1" class="t" text-anchor="middle">9</text>
<text x="628.4" y="306.1" class="t" text-anchor="middle">10</text>
<text x="649.4" y="306.1" class="t" text-anchor="middle">11</text>
<text x="671.6" y="306.1" class="t" text-anchor="middle">12</text>
<path d="M383.8 275.3H683.4" stroke="#e3949a" stroke-width="0.7" stroke-dasharray="2.1 1.1"/>
<path d="M383.8 278.6H683.4" stroke="#a4adb6" stroke-width="0.7" stroke-dasharray="2.1 1.1"/>
<path fill="#d95f02" d="M383.5 291.3L383.5 274.5L384.1 274.5L384.1 274L384.7 274L384.7 275.1L385.3 275.1L385.3 274.3L385.9 274.3L385.9 279.2L386.5 279.2L386.5 281.7L387.1 281.7L387.1 280.8L387.7 280.8L387.7 280.5L388.3 280.5L388.3 282.4L388.9 282.4L388.9 282.4L389.5 282.4L389.5 282.2L390.1 282.2L390.1 283.1L390.7 283.1L390.7 282.6L391.3 282.6L391.3 282.7L391.9 282.7L391.9 282.9L392.5 282.9L392.5 283.9L393.1 283.9L393.1 281.3L393.7 281.3L393.7 280.7L394.3 280.7L394.3 281.1L394.9 281.1L394.9 282.9L395.5 282.9L395.5 282.5L396.1 282.5L396.1 283.2L396.7 283.2L396.7 284.1L397.3 284.1L397.3 282.9L397.9 282.9L397.9 281.8L398.5 281.8L398.5 281.6L399.1 281.6L399.1 283.6L399.7 283.6L399.7 283.9L400.3 283.9L400.3 283.9L400.9 283.9L400.9 283.4L401.5 283.4L401.5 283.4L402.1 283.4L402.1 282.8L402.7 282.8L402.7 282.3L403.3 282.3L403.3 282.2L403.9 282.2L403.9 282.6L404.5 282.6L404.5 282.9L405.1 282.9L405.1 284.7L405.7 284.7L405.7 284.4L406.3 284.4L406.3 283.6L406.9 283.6L406.9 283.5L407.5 283.5L407.5 283.8L408.1 283.8L408.1 283.7L408.7 283.7L408.7 284.8L409.3 284.8L409.3 284.5L409.9 284.5L409.9 285.4L410.5 285.4L410.5 278L411.1 278L411.1 278.2L411.7 278.2L411.7 278.2L412.3 278.2L412.3 284.3L412.9 284.3L412.9 283L413.5 283L413.5 284.6L414.1 284.6L414.1 283.9L414.7 283.9L414.7 283L415.3 283L415.3 283.8L415.9 283.8L415.9 283.8L416.5 283.8L416.5 283.8L417.1 283.8L417.1 283.8L417.7 283.8L417.7 281.6L418 281.6L418 291.3ZM446.8 291.3L446.8 286.2L447.4 286.2L447.4 286.3L448 286.3L448 285.9L448.6 285.9L448.6 285.8L449.2 285.8L449.2 285.7L449.8 285.7L449.8 285.7L450.4 285.7L450.4 285.4L451 285.4L451 284.7L451.6 284.7L451.6 284.4L452.2 284.4L452.2 284.7L452.8 284.7L452.8 284.5L453.4 284.5L453.4 285.2L454 285.2L454 284.6L454.6 284.6L454.6 285.6L455.2 285.6L455.2 279L455.8 279L455.8 279.1L456.4 279.1L456.4 279.3L457 279.3L457 284.5L457.6 284.5L457.6 285.4L458.2 285.4L458.2 285.9L458.8 285.9L458.8 285.2L459.4 285.2L459.4 284.4L460 284.4L460 281.4L460.6 281.4L460.6 282L461.2 282L461.2 285L461.8 285L461.8 285.3L462.4 285.3L462.4 284.9L463 284.9L463 285.2L463.6 285.2L463.6 283.9L464.2 283.9L464.2 284.6L464.8 284.6L464.8 284.5L465.4 284.5L465.4 284.7L466 284.7L466 284.4L466.6 284.4L466.6 285.1L467.2 285.1L467.2 284.8L467.8 284.8L467.8 285.3L468.4 285.3L468.4 284.1L469 284.1L469 283.4L469.6 283.4L469.6 282.9L470.2 282.9L470.2 281.6L470.8 281.6L470.8 281.6L471.4 281.6L471.4 283.1L472 283.1L472 279L472.6 279L472.6 279L473.2 279L473.2 279L473.8 279L473.8 282.3L474.4 282.3L474.4 282.3L475 282.3L475 281.7L475.6 281.7L475.6 280.1L475.7 280.1L475.7 291.3ZM504 291.3L504 283.6L504.6 283.6L504.6 280.1L505.2 280.1L505.2 279.5L505.8 279.5L505.8 279.6L506.4 279.6L506.4 283.2L507 283.2L507 283.2L507.6 283.2L507.6 283.6L508.2 283.6L508.2 284.1L508.8 284.1L508.8 285.7L509.4 285.7L509.4 285.3L510 285.3L510 283.4L510.6 283.4L510.6 284L511.2 284L511.2 284.8L511.8 284.8L511.8 284.8L512.4 284.8L512.4 284.3L513 284.3L513 284L513.6 284L513.6 284.9L514.2 284.9L514.2 284.1L514.8 284.1L514.8 284L515.4 284L515.4 284.1L516 284.1L516 283.6L516.6 283.6L516.6 283.1L517.2 283.1L517.2 282.3L517.8 282.3L517.8 282L518.4 282L518.4 281.9L519 281.9L519 280.8L519.6 280.8L519.6 280.7L520.2 280.7L520.2 281.5L520.8 281.5L520.8 280.6L521.4 280.6L521.4 281.4L522 281.4L522 282.2L522.6 282.2L522.6 281.7L523.2 281.7L523.2 281.3L523.8 281.3L523.8 281.7L524.4 281.7L524.4 282.4L525 282.4L525 283.9L525.6 283.9L525.6 284.3L526.2 284.3L526.2 284.9L526.8 284.9L526.8 284.6L527.4 284.6L527.4 284.8L528 284.8L528 277.7L528.2 277.7L528.2 291.3ZM553.1 291.3L553.1 281.3L553.7 281.3L553.7 281.7L554.3 281.7L554.3 282.3L554.9 282.3L554.9 283L555.5 283L555.5 283.1L556.1 283.1L556.1 282.4L556.7 282.4L556.7 282.7L557.3 282.7L557.3 283.2L557.9 283.2L557.9 283L558.5 283L558.5 282.2L559.1 282.2L559.1 283.4L559.7 283.4L559.7 282.8L560.3 282.8L560.3 283.7L560.9 283.7L560.9 282.8L561.5 282.8L561.5 282.8L562.1 282.8L562.1 282.1L562.7 282.1L562.7 282.9L563.3 282.9L563.3 281.9L563.9 281.9L563.9 281.3L564.5 281.3L564.5 282.4L565.1 282.4L565.1 283.1L565.7 283.1L565.7 282.7L566.3 282.7L566.3 281.2L566.9 281.2L566.9 281.9L567.5 281.9L567.5 282.9L568.1 282.9L568.1 283.1L568.7 283.1L568.7 283.5L569.3 283.5L569.3 283.4L569.9 283.4L569.9 282.6L570.5 282.6L570.5 282.9L571.1 282.9L571.1 284.1L571.7 284.1L571.7 283.6L572.3 283.6L572.3 284.5L572.9 284.5L572.9 284.2L573.5 284.2L573.5 285.5L574.1 285.5L574.1 284.5L574.7 284.5L574.7 286.2L575.3 286.2L575.3 286L575.9 286L575.9 285.2L576.5 285.2L576.5 285.4L577.1 285.4L577.1 291.3ZM599.9 291.3L599.9 278.1L600.5 278.1L600.5 277.8L601.1 277.8L601.1 278.8L601.7 278.8L601.7 280.9L602.3 280.9L602.3 281.7L602.9 281.7L602.9 282L603.5 282L603.5 282.4L604.1 282.4L604.1 281.8L604.7 281.8L604.7 280.2L605.3 280.2L605.3 280L605.9 280L605.9 280.2L606.5 280.2L606.5 282L607.1 282L607.1 282.7L607.7 282.7L607.7 282.3L608.3 282.3L608.3 282.2L608.9 282.2L608.9 282L609.5 282L609.5 282.5L610.1 282.5L610.1 283.4L610.7 283.4L610.7 284.2L611.3 284.2L611.3 283.6L611.9 283.6L611.9 284.5L612.5 284.5L612.5 284.8L613.1 284.8L613.1 284.2L613.7 284.2L613.7 283.8L614.3 283.8L614.3 284.4L614.9 284.4L614.9 285.6L615.5 285.6L615.5 284L616.1 284L616.1 283.6L616.7 283.6L616.7 284.7L617.3 284.7L617.3 283.6L617.9 283.6L617.9 283.2L618.1 283.2L618.1 291.3ZM636.8 291.3L636.8 280.7L637.4 280.7L637.4 280.6L638 280.6L638 281.8L638.6 281.8L638.6 280.3L639.2 280.3L639.2 280.3L639.8 280.3L639.8 281.3L640.4 281.3L640.4 281.1L641 281.1L641 279.5L641.6 279.5L641.6 279.6L642.2 279.6L642.2 279.2L642.8 279.2L642.8 280.1L643.4 280.1L643.4 281.5L644 281.5L644 279.6L644.6 279.6L644.6 281L645.2 281L645.2 281L645.8 281L645.8 281.4L646.4 281.4L646.4 280.4L647 280.4L647 281.3L647.6 281.3L647.6 280.6L648.2 280.6L648.2 281L648.8 281L648.8 281.4L649.4 281.4L649.4 279.2L650 279.2L650 279.6L650.6 279.6L650.6 279.9L651.2 279.9L651.2 280.7L651.8 280.7L651.8 281.1L652.4 281.1L652.4 280.8L653 280.8L653 280.5L653.6 280.5L653.6 280.3L654.2 280.3L654.2 280.1L654.8 280.1L654.8 280L655.4 280L655.4 280.4L656 280.4L656 280L656.6 280L656.6 279.7L657.2 279.7L657.2 279.5L657.8 279.5L657.8 279.6L658.4 279.6L658.4 280.3L659 280.3L659 278.8L659.6 278.8L659.6 279.3L660.1 279.3L660.1 291.3Z"/>
<path fill="#89a8a5" d="M418 291.3L418 279.4L418.6 279.4L418.6 280.3L419.2 280.3L419.2 278.3L419.8 278.3L419.8 278.1L420.4 278.1L420.4 277.7L421 277.7L421 278.8L421.6 278.8L421.6 279.5L422.2 279.5L422.2 279.3L422.8 279.3L422.8 280L423.4 280L423.4 279.2L424 279.2L424 278.7L424.6 278.7L424.6 279.6L425.2 279.6L425.2 279.9L425.8 279.9L425.8 281.3L426.4 281.3L426.4 283.3L427 283.3L427 285.2L427.6 285.2L427.6 286.7L428.2 286.7L428.2 287.9L428.8 287.9L428.8 288.5L429.4 288.5L429.4 286.3L430 286.3L430 287.1L430.6 287.1L430.6 286.1L431.2 286.1L431.2 286.7L431.8 286.7L431.8 286.8L432.4 286.8L432.4 285.1L433 285.1L433 284.5L433.6 284.5L433.6 282.5L434.2 282.5L434.2 281.4L434.8 281.4L434.8 279.8L435.4 279.8L435.4 279.5L436 279.5L436 280.1L436.6 280.1L436.6 279L437.2 279L437.2 282L437.8 282L437.8 281.9L438.4 281.9L438.4 284L439 284L439 283.3L439.6 283.3L439.6 283L440.2 283L440.2 284.5L440.8 284.5L440.8 282.8L441.4 282.8L441.4 284L442 284L442 283.6L442.6 283.6L442.6 283.6L443.2 283.6L443.2 282.8L443.8 282.8L443.8 284.3L444.4 284.3L444.4 283.6L445 283.6L445 283.6L445.6 283.6L445.6 284.1L446.2 284.1L446.2 282.9L446.8 282.9L446.8 291.3ZM475.7 291.3L475.7 281.4L476.3 281.4L476.3 280.4L476.9 280.4L476.9 281.1L477.5 281.1L477.5 281.2L478.1 281.2L478.1 279.8L478.7 279.8L478.7 279.1L479.3 279.1L479.3 280.3L479.9 280.3L479.9 278.7L480.5 278.7L480.5 280.8L481.1 280.8L481.1 281.4L481.7 281.4L481.7 282.2L482.3 282.2L482.3 281.6L482.9 281.6L482.9 281.6L483.5 281.6L483.5 282.1L484.1 282.1L484.1 280.9L484.7 280.9L484.7 281.7L485.3 281.7L485.3 283.8L485.9 283.8L485.9 281.8L486.5 281.8L486.5 282.1L487.1 282.1L487.1 281.6L487.7 281.6L487.7 282.8L488.3 282.8L488.3 282.1L488.9 282.1L488.9 282.1L489.5 282.1L489.5 282L490.1 282L490.1 281.5L490.7 281.5L490.7 281.2L491.3 281.2L491.3 281.7L491.9 281.7L491.9 281.4L492.5 281.4L492.5 280.8L493.1 280.8L493.1 281.3L493.7 281.3L493.7 283.1L494.3 283.1L494.3 282.1L494.9 282.1L494.9 283.5L495.5 283.5L495.5 283.8L496.1 283.8L496.1 283.2L496.7 283.2L496.7 282.1L497.3 282.1L497.3 282.2L497.9 282.2L497.9 281.8L498.5 281.8L498.5 282.9L499.1 282.9L499.1 283.8L499.7 283.8L499.7 282.1L500.3 282.1L500.3 282.1L500.9 282.1L500.9 282.1L501.5 282.1L501.5 281L502.1 281L502.1 280.1L502.7 280.1L502.7 281.1L503.3 281.1L503.3 280.6L503.9 280.6L503.9 283.1L504 283.1L504 291.3ZM528.2 291.3L528.2 274.6L528.8 274.6L528.8 273.8L529.4 273.8L529.4 274.1L530 274.1L530 273.8L530.6 273.8L530.6 274.6L531.2 274.6L531.2 277L531.8 277L531.8 277.4L532.4 277.4L532.4 277.1L533 277.1L533 278.1L533.6 278.1L533.6 277.4L534.2 277.4L534.2 277.7L534.8 277.7L534.8 279.3L535.4 279.3L535.4 282.9L536 282.9L536 284.4L536.6 284.4L536.6 283.6L537.2 283.6L537.2 282.5L537.8 282.5L537.8 282.7L538.4 282.7L538.4 283.2L539 283.2L539 281.9L539.6 281.9L539.6 282.2L540.2 282.2L540.2 282.6L540.8 282.6L540.8 281.2L541.4 281.2L541.4 282.8L542 282.8L542 282.5L542.6 282.5L542.6 281.9L543.2 281.9L543.2 282.1L543.8 282.1L543.8 283.1L544.4 283.1L544.4 281.9L545 281.9L545 281.4L545.6 281.4L545.6 280.5L546.2 280.5L546.2 279.8L546.8 279.8L546.8 279.2L547.4 279.2L547.4 279.5L548 279.5L548 280.2L548.6 280.2L548.6 280.4L549.2 280.4L549.2 280.1L549.8 280.1L549.8 280.1L550.4 280.1L550.4 279.3L551 279.3L551 280.3L551.6 280.3L551.6 281L552.2 281L552.2 279.7L552.8 279.7L552.8 279.4L553.1 279.4L553.1 291.3ZM577.1 291.3L577.1 282.1L577.7 282.1L577.7 281.7L578.3 281.7L578.3 282.3L578.9 282.3L578.9 282.5L579.5 282.5L579.5 283.1L580.1 283.1L580.1 283L580.7 283L580.7 283.7L581.3 283.7L581.3 285.7L581.9 285.7L581.9 285.1L582.5 285.1L582.5 285.6L583.1 285.6L583.1 284.6L583.7 284.6L583.7 284.5L584.3 284.5L584.3 284.1L584.9 284.1L584.9 283L585.5 283L585.5 284.1L586.1 284.1L586.1 284.1L586.7 284.1L586.7 284.7L587.3 284.7L587.3 283.9L587.9 283.9L587.9 283.1L588.5 283.1L588.5 281.9L589.1 281.9L589.1 280.6L589.7 280.6L589.7 282.8L590.3 282.8L590.3 279.7L590.9 279.7L590.9 279.5L591.5 279.5L591.5 277.8L592.1 277.8L592.1 277.6L592.7 277.6L592.7 278.5L593.3 278.5L593.3 281.3L593.9 281.3L593.9 283.1L594.5 283.1L594.5 282.7L595.1 282.7L595.1 282.7L595.7 282.7L595.7 284.1L596.3 284.1L596.3 282.6L596.9 282.6L596.9 281.6L597.5 281.6L597.5 282.3L598.1 282.3L598.1 283.3L598.7 283.3L598.7 285.7L599.3 285.7L599.3 283.7L599.9 283.7L599.9 291.3ZM618.1 291.3L618.1 282.3L618.7 282.3L618.7 282.3L619.3 282.3L619.3 283.6L619.9 283.6L619.9 281.7L620.5 281.7L620.5 282.2L621.1 282.2L621.1 282L621.7 282L621.7 282L622.3 282L622.3 283.6L622.9 283.6L622.9 282.6L623.5 282.6L623.5 283.8L624.1 283.8L624.1 283.6L624.7 283.6L624.7 283.5L625.3 283.5L625.3 283.8L625.9 283.8L625.9 283.9L626.5 283.9L626.5 282.9L627.1 282.9L627.1 283.2L627.7 283.2L627.7 283.1L628.3 283.1L628.3 283.1L628.9 283.1L628.9 283.6L629.5 283.6L629.5 283.4L630.1 283.4L630.1 283.5L630.7 283.5L630.7 283.5L631.3 283.5L631.3 284.1L631.9 284.1L631.9 282.8L632.5 282.8L632.5 283.1L633.1 283.1L633.1 282.7L633.7 282.7L633.7 283.6L634.3 283.6L634.3 284.2L634.9 284.2L634.9 284.4L635.5 284.4L635.5 283.7L636.1 283.7L636.1 283.3L636.7 283.3L636.7 285.7L636.8 285.7L636.8 291.3ZM660.1 291.3L660.1 282.6L660.7 282.6L660.7 282.1L661.3 282.1L661.3 282.2L661.9 282.2L661.9 282.1L662.5 282.1L662.5 281.6L663.1 281.6L663.1 282.1L663.7 282.1L663.7 283.2L664.3 283.2L664.3 283L664.9 283L664.9 282.7L665.5 282.7L665.5 282.6L666.1 282.6L666.1 282.3L666.7 282.3L666.7 282.1L667.3 282.1L667.3 282.2L667.9 282.2L667.9 282.8L668.5 282.8L668.5 282.8L669.1 282.8L669.1 281.7L669.7 281.7L669.7 281L670.3 281L670.3 280.1L670.9 280.1L670.9 280.1L671.5 280.1L671.5 280L672.1 280L672.1 279.5L672.7 279.5L672.7 280.3L673.3 280.3L673.3 281.2L673.9 281.2L673.9 281.6L674.5 281.6L674.5 282.1L675.1 282.1L675.1 281.6L675.7 281.6L675.7 282.3L676.3 282.3L676.3 282.5L676.9 282.5L676.9 283L677.5 283L677.5 282.5L678.1 282.5L678.1 283.6L678.7 283.6L678.7 284.1L679.3 284.1L679.3 283.1L679.9 283.1L679.9 284.4L680.5 284.4L680.5 284L681.1 284L681.1 284L681.7 284L681.7 283.8L682.3 283.8L682.3 284.5L682.9 284.5L682.9 285.6L683.5 285.6L683.5 285.8L683.7 285.8L683.7 291.3Z"/>
<path stroke="#d95f02" stroke-width="1.9" stroke-linecap="round" d="M387.9 279.8h0M389.2 281.3h0M392.2 281.5h0M395.5 282.2h0M402.3 282.2h0M403.5 282.1h0M407.9 281.6h0M408.4 282.9h0M417.1 281.2h0M447.8 285.6h0M450.7 285.2h0M453 283.2h0M454.2 284.3h0M454.8 284.4h0M457.1 284.2h0M458.6 279.5h0M459.4 284.2h0M461.6 284.5h0M464.2 280.9h0M464.5 281.9h0M466.4 283.7h0M467.4 284.2h0M470.7 279h0M470.8 280.6h0M474.8 278.9h0M474.8 279.4h0M512 284.8h0M512.8 283.9h0M518.5 281.6h0M519.8 280.5h0M520.2 280.7h0M522 281.5h0M524.6 282.3h0M524.5 281.4h0M524.9 281.1h0M525.2 283.4h0M526.5 284.6h0M527.2 283.7h0M555.6 282.4h0M556.5 282.2h0M559.1 282h0M560.7 282.9h0M564.9 281.6h0M566.2 279.3h0M565.9 282.6h0M566.9 281.6h0M566.9 279.9h0M568.7 282.3h0M569.2 283.4h0M570.9 282.8h0M571.1 281.2h0M572.1 281.9h0M574.2 282.1h0M576.1 284.6h0M614.6 284.1h0M616 281.8h0M638.4 281.7h0M639.7 279.5h0M640.5 279h0M651 279.7h0M651.3 279.6h0M657 279.4h0"/>
<path stroke="#89a8a5" stroke-width="1.9" stroke-linecap="round" d="M424.9 279.5h0M425.4 279.4h0M426.5 282.4h0M427.5 284.1h0M427.8 286h0M431.4 285.1h0M431.9 286h0M437.8 278.7h0M437.8 281.6h0M440.4 282.6h0M440.7 283.9h0M442.9 282.5h0M443.6 281.9h0M444.9 283.3h0M478 280.4h0M482.5 280.2h0M483.7 281.9h0M486.8 281.9h0M487.8 279.9h0M490 280.8h0M492.3 280.2h0M492.1 281.3h0M497.7 279.1h0M498.3 281.1h0M501.4 281.6h0M502.5 279.6h0M535.9 282.2h0M537.3 279.1h0M540.1 281.9h0M542.7 280h0M548.6 279.9h0M578.1 280h0M578.1 280.7h0M583.1 283.9h0M586.8 284.4h0M589.5 280.6h0M594.6 282.6h0M596.8 282h0M620 281.2h0M621.3 280h0M624.9 281.6h0M625.6 283.5h0M627.7 283.2h0M627.5 283.1h0M629.5 283.1h0M632.6 281.5h0M634.6 282.6h0M635.1 283.5h0M634.9 284.2h0M635.8 283h0M664.1 282.8h0M666.3 282.1h0M667.5 281.1h0M667.5 281.6h0M676.5 282.1h0M676.8 279.5h0M678.2 282.2h0M678.7 284h0M682.8 284.1h0"/>
<path stroke="#2d4760" stroke-width="1.9" stroke-linecap="round" d="M422.7 275.3h0M423.9 275.4h0M422.6 276.5h0M423.6 276.3h0M422.7 277.5h0M423.9 277.4h0M422.6 278.3h0M423.6 278.5h0M530.3 275.7h0M530.2 276.9h0M530.2 277.8h0M529.9 278.9h0M591.4 276.3h0M592.6 276.4h0M591.3 277.7h0M592.4 277.3h0M591.5 278.3h0M592.4 278.4h0M385 277.2h0M411.5 277.7h0M559.9 275.7h0M580 275.4h0M579.5 277.5h0M642.1 277.6h0M659.8 277.6h0M662.5 276.5h0M671 277.6h0"/>
<path stroke="#c43c48" stroke-width="1.9" stroke-linecap="round" d="M423.2 271.9h0M423.2 273.3h0M423.4 274.3h0M530.5 206.1h0M530.3 229.7h0M530.3 237.1h0M393.9 271h0M495.8 270.5h0"/>
<path d="M424.5 269.2L425.7 264.1L429.4 267.4Z" fill="#f00"/><path d="M427.5 265.7L429.4 263.6" stroke="#f00" stroke-width="0.65"/>
<path d="M579.5 271.6L580.7 266.5L584.4 269.8Z" fill="#f00"/><path d="M582.5 268.1L584.4 266" stroke="#f00" stroke-width="0.65"/>
<path d="M591.9 272.4L593.1 267.3L596.8 270.6Z" fill="#f00"/><path d="M594.9 268.9L596.8 266.8" stroke="#f00" stroke-width="0.65"/>
<path d="M532.5 210.1L537.4 211.9L533.7 215.2Z" fill="#000"/><path d="M535.5 213.6L537.4 215.7" stroke="#000" stroke-width="0.65"/>
</svg>
</body></html>
